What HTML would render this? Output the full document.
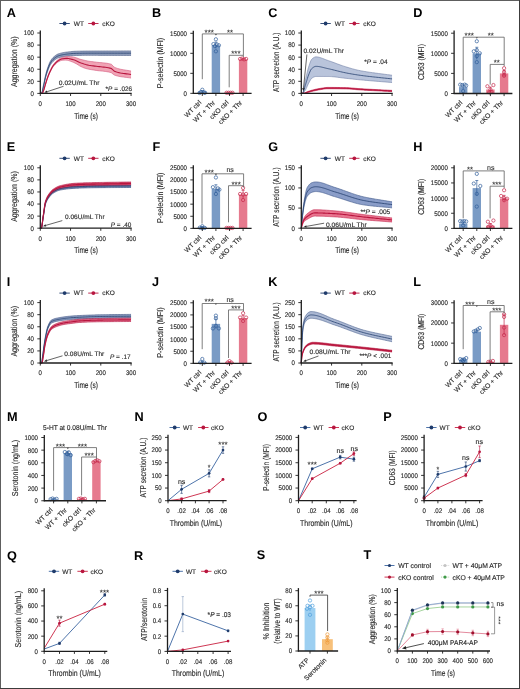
<!DOCTYPE html><html><head><meta charset="utf-8"><style>html,body{margin:0;padding:0;background:#fff;}body{width:520px;height:689px;overflow:hidden;font-family:"Liberation Sans",sans-serif;}svg{display:block;}text{font-family:"Liberation Sans",sans-serif;text-rendering:geometricPrecision;}</style></head><body><svg width="520" height="689" viewBox="0 0 520 689" font-family="Liberation Sans, sans-serif" fill="#2a2a2a"><defs><filter id="sb" x="0" y="0" width="520" height="689" filterUnits="userSpaceOnUse" color-interpolation-filters="sRGB"><feGaussianBlur stdDeviation="0.3"/></filter></defs><rect x="0" y="0" width="520" height="689" fill="#fff"/><g filter="url(#sb)"><text x="6.8" y="16.6" font-size="12.7" text-anchor="start" font-weight="bold" fill="#000">A</text>
<line x1="59.4" y1="23.5" x2="69.8" y2="23.5" stroke="#1f3b6b" stroke-width="0.9"/>
<circle cx="64.6" cy="23.5" r="1.9" fill="#1f3b6b" stroke="none" stroke-width="0.6"/>
<text x="73.8" y="25.84" font-size="6.5" text-anchor="start" stroke="#2a2a2a" stroke-width="0.14">WT</text>
<line x1="88.2" y1="23.5" x2="98.5" y2="23.5" stroke="#b8163f" stroke-width="0.9"/>
<circle cx="93.35" cy="23.5" r="1.9" fill="#b8163f" stroke="none" stroke-width="0.6"/>
<text x="102.2" y="25.84" font-size="6.5" text-anchor="start" stroke="#2a2a2a" stroke-width="0.14">cKO</text>
<path d="M40.3 93.4 L40.45 93.34 L40.6 93.29 L40.75 93.23 L40.9 93.16 L41.06 93.1 L41.21 93.04 L41.36 92.97 L41.51 92.91 L41.66 92.77 L41.81 92.5 L41.96 92.11 L42.11 91.61 L42.27 91.03 L42.42 90.38 L42.57 89.66 L42.72 88.91 L42.87 88.14 L43.02 87.35 L43.17 86.57 L43.32 85.81 L43.48 85.09 L43.63 84.41 L43.78 83.75 L43.93 83.05 L44.08 82.33 L44.23 81.58 L44.38 80.82 L44.53 80.06 L44.69 79.3 L44.84 78.54 L44.99 77.79 L45.14 77.07 L45.29 76.36 L45.44 75.7 L45.59 75.06 L45.74 74.46 L45.9 73.87 L46.05 73.29 L46.2 72.73 L46.35 72.17 L46.95 70.08 L47.56 68.19 L48.16 66.43 L48.77 64.75 L49.38 63.22 L49.98 61.9 L50.59 60.82 L51.19 59.87 L51.8 59.02 L52.4 58.27 L53 57.62 L53.61 57.05 L54.22 56.51 L54.82 56 L55.42 55.52 L56.03 55.08 L56.64 54.69 L57.24 54.35 L57.84 54.07 L58.45 53.85 L59.05 53.65 L59.66 53.47 L60.27 53.29 L60.87 53.13 L61.48 52.98 L62.08 52.84 L62.69 52.71 L63.29 52.59 L63.89 52.48 L64.5 52.38 L65.11 52.28 L65.71 52.2 L66.31 52.11 L66.92 52.04 L67.53 51.96 L68.13 51.89 L68.73 51.82 L69.34 51.75 L69.95 51.69 L70.55 51.63 L72.06 51.48 L73.58 51.37 L75.09 51.28 L76.6 51.22 L78.11 51.18 L79.62 51.14 L81.14 51.1 L82.65 51.07 L84.16 51.04 L85.68 51.02 L87.19 51.01 L88.7 51 L90.21 51 L91.72 50.99 L93.24 50.99 L94.75 50.98 L96.26 50.98 L97.78 50.98 L99.29 50.97 L100.8 50.97 L102.31 50.96 L103.83 50.96 L105.34 50.96 L106.85 50.95 L108.36 50.95 L109.88 50.95 L111.39 50.94 L112.9 50.94 L114.41 50.94 L115.93 50.93 L117.44 50.93 L118.95 50.92 L120.46 50.92 L121.98 50.91 L123.49 50.91 L125 50.9 L126.51 50.9 L128.03 50.89 L129.54 50.89 L131.05 50.88 L131.05 55.47 L129.54 55.46 L128.03 55.46 L126.51 55.45 L125 55.44 L123.49 55.44 L121.98 55.43 L120.46 55.43 L118.95 55.42 L117.44 55.42 L115.93 55.42 L114.41 55.41 L112.9 55.41 L111.39 55.4 L109.88 55.4 L108.36 55.4 L106.85 55.39 L105.34 55.39 L103.83 55.39 L102.31 55.38 L100.8 55.38 L99.29 55.38 L97.78 55.37 L96.26 55.37 L94.75 55.36 L93.24 55.36 L91.72 55.36 L90.21 55.35 L88.7 55.35 L87.19 55.35 L85.68 55.35 L84.16 55.36 L82.65 55.37 L81.14 55.39 L79.62 55.42 L78.11 55.44 L76.6 55.47 L75.09 55.51 L73.58 55.59 L72.06 55.68 L70.55 55.81 L69.95 55.86 L69.34 55.92 L68.73 55.98 L68.13 56.04 L67.53 56.1 L66.92 56.17 L66.31 56.24 L65.71 56.31 L65.11 56.39 L64.5 56.48 L63.89 56.57 L63.29 56.67 L62.69 56.78 L62.08 56.9 L61.48 57.03 L60.87 57.17 L60.27 57.32 L59.66 57.48 L59.05 57.66 L58.45 57.85 L57.84 58.05 L57.24 58.32 L56.64 58.65 L56.03 59.03 L55.42 59.45 L54.82 59.92 L54.22 60.42 L53.61 60.94 L53 61.5 L52.4 62.14 L51.8 62.86 L51.19 63.67 L50.59 64.58 L49.98 65.6 L49.38 66.84 L48.77 68.28 L48.16 69.85 L47.56 71.5 L46.95 73.26 L46.35 75.21 L46.2 75.73 L46.05 76.26 L45.9 76.8 L45.74 77.35 L45.59 77.91 L45.44 78.5 L45.29 79.13 L45.14 79.79 L44.99 80.47 L44.84 81.18 L44.69 81.89 L44.53 82.61 L44.38 83.33 L44.23 84.04 L44.08 84.74 L43.93 85.42 L43.78 86.07 L43.63 86.68 L43.48 87.31 L43.32 87.98 L43.17 88.69 L43.02 89.4 L42.87 90.11 L42.72 90.8 L42.57 91.46 L42.42 92.07 L42.27 92.62 L42.11 93.09 L41.96 93.4 L41.81 93.4 L41.66 93.4 L41.51 93.4 L41.36 93.4 L41.21 93.4 L41.06 93.4 L40.9 93.4 L40.75 93.4 L40.6 93.4 L40.45 93.4 L40.3 93.4Z" fill="#8e9dbb" stroke="none"/>
<path d="M40.3 93.4 L40.45 93.34 L40.6 93.29 L40.75 93.23 L40.9 93.16 L41.06 93.1 L41.21 93.04 L41.36 92.97 L41.51 92.91 L41.66 92.77 L41.81 92.5 L41.96 92.11 L42.11 91.61 L42.27 91.03 L42.42 90.38 L42.57 89.66 L42.72 88.91 L42.87 88.14 L43.02 87.35 L43.17 86.57 L43.32 85.81 L43.48 85.09 L43.63 84.41 L43.78 83.75 L43.93 83.05 L44.08 82.33 L44.23 81.58 L44.38 80.82 L44.53 80.06 L44.69 79.3 L44.84 78.54 L44.99 77.79 L45.14 77.07 L45.29 76.36 L45.44 75.7 L45.59 75.06 L45.74 74.46 L45.9 73.87 L46.05 73.29 L46.2 72.73 L46.35 72.17 L46.95 70.08 L47.56 68.19 L48.16 66.43 L48.77 64.75 L49.38 63.22 L49.98 61.9 L50.59 60.82 L51.19 59.87 L51.8 59.02 L52.4 58.27 L53 57.62 L53.61 57.05 L54.22 56.51 L54.82 56 L55.42 55.52 L56.03 55.08 L56.64 54.69 L57.24 54.35 L57.84 54.07 L58.45 53.85 L59.05 53.65 L59.66 53.47 L60.27 53.29 L60.87 53.13 L61.48 52.98 L62.08 52.84 L62.69 52.71 L63.29 52.59 L63.89 52.48 L64.5 52.38 L65.11 52.28 L65.71 52.2 L66.31 52.11 L66.92 52.04 L67.53 51.96 L68.13 51.89 L68.73 51.82 L69.34 51.75 L69.95 51.69 L70.55 51.63 L72.06 51.48 L73.58 51.37 L75.09 51.28 L76.6 51.22 L78.11 51.18 L79.62 51.14 L81.14 51.1 L82.65 51.07 L84.16 51.04 L85.68 51.02 L87.19 51.01 L88.7 51 L90.21 51 L91.72 50.99 L93.24 50.99 L94.75 50.98 L96.26 50.98 L97.78 50.98 L99.29 50.97 L100.8 50.97 L102.31 50.96 L103.83 50.96 L105.34 50.96 L106.85 50.95 L108.36 50.95 L109.88 50.95 L111.39 50.94 L112.9 50.94 L114.41 50.94 L115.93 50.93 L117.44 50.93 L118.95 50.92 L120.46 50.92 L121.98 50.91 L123.49 50.91 L125 50.9 L126.51 50.9 L128.03 50.89 L129.54 50.89 L131.05 50.88" stroke="#4b5d84" stroke-width="0.6" fill="none"/>
<path d="M40.3 93.4 L40.45 93.4 L40.6 93.4 L40.75 93.4 L40.9 93.4 L41.06 93.4 L41.21 93.4 L41.36 93.4 L41.51 93.4 L41.66 93.4 L41.81 93.4 L41.96 93.4 L42.11 93.09 L42.27 92.62 L42.42 92.07 L42.57 91.46 L42.72 90.8 L42.87 90.11 L43.02 89.4 L43.17 88.69 L43.32 87.98 L43.48 87.31 L43.63 86.68 L43.78 86.07 L43.93 85.42 L44.08 84.74 L44.23 84.04 L44.38 83.33 L44.53 82.61 L44.69 81.89 L44.84 81.18 L44.99 80.47 L45.14 79.79 L45.29 79.13 L45.44 78.5 L45.59 77.91 L45.74 77.35 L45.9 76.8 L46.05 76.26 L46.2 75.73 L46.35 75.21 L46.95 73.26 L47.56 71.5 L48.16 69.85 L48.77 68.28 L49.38 66.84 L49.98 65.6 L50.59 64.58 L51.19 63.67 L51.8 62.86 L52.4 62.14 L53 61.5 L53.61 60.94 L54.22 60.42 L54.82 59.92 L55.42 59.45 L56.03 59.03 L56.64 58.65 L57.24 58.32 L57.84 58.05 L58.45 57.85 L59.05 57.66 L59.66 57.48 L60.27 57.32 L60.87 57.17 L61.48 57.03 L62.08 56.9 L62.69 56.78 L63.29 56.67 L63.89 56.57 L64.5 56.48 L65.11 56.39 L65.71 56.31 L66.31 56.24 L66.92 56.17 L67.53 56.1 L68.13 56.04 L68.73 55.98 L69.34 55.92 L69.95 55.86 L70.55 55.81 L72.06 55.68 L73.58 55.59 L75.09 55.51 L76.6 55.47 L78.11 55.44 L79.62 55.42 L81.14 55.39 L82.65 55.37 L84.16 55.36 L85.68 55.35 L87.19 55.35 L88.7 55.35 L90.21 55.35 L91.72 55.36 L93.24 55.36 L94.75 55.36 L96.26 55.37 L97.78 55.37 L99.29 55.38 L100.8 55.38 L102.31 55.38 L103.83 55.39 L105.34 55.39 L106.85 55.39 L108.36 55.4 L109.88 55.4 L111.39 55.4 L112.9 55.41 L114.41 55.41 L115.93 55.42 L117.44 55.42 L118.95 55.42 L120.46 55.43 L121.98 55.43 L123.49 55.44 L125 55.44 L126.51 55.45 L128.03 55.46 L129.54 55.46 L131.05 55.47" stroke="#4b5d84" stroke-width="0.6" fill="none"/>
<path d="M40.3 93.4 L40.45 93.39 L40.6 93.38 L40.75 93.36 L40.9 93.35 L41.06 93.34 L41.21 93.33 L41.36 93.31 L41.51 93.3 L41.66 93.29 L41.81 93.28 L41.96 93.26 L42.11 93.25 L42.27 93.19 L42.42 93.03 L42.57 92.8 L42.72 92.5 L42.87 92.15 L43.02 91.76 L43.17 91.34 L43.32 90.92 L43.48 90.5 L43.63 90.1 L43.78 89.69 L43.93 89.24 L44.08 88.76 L44.23 88.25 L44.38 87.71 L44.53 87.16 L44.69 86.59 L44.84 86.03 L44.99 85.46 L45.14 84.89 L45.29 84.34 L45.44 83.81 L45.59 83.29 L45.74 82.79 L45.9 82.29 L46.05 81.8 L46.2 81.3 L46.35 80.81 L46.95 78.89 L47.56 77.1 L48.16 75.43 L48.77 73.84 L49.38 72.33 L49.98 70.93 L50.59 69.63 L51.19 68.37 L51.8 67.18 L52.4 66.08 L53 65.11 L53.61 64.27 L54.22 63.49 L54.82 62.76 L55.42 62.07 L56.03 61.43 L56.64 60.84 L57.24 60.3 L57.84 59.82 L58.45 59.38 L59.05 58.96 L59.66 58.56 L60.27 58.19 L60.87 57.88 L61.48 57.64 L62.08 57.46 L62.69 57.3 L63.29 57.15 L63.89 57.01 L64.5 56.88 L65.11 56.76 L65.71 56.66 L66.31 56.59 L66.92 56.53 L67.53 56.51 L68.13 56.52 L68.73 56.55 L69.34 56.6 L69.95 56.66 L70.55 56.73 L72.06 56.89 L73.58 57.13 L75.09 57.47 L76.6 57.89 L78.11 58.5 L79.62 59.08 L81.14 59.49 L82.65 59.86 L84.16 60.22 L85.68 60.59 L87.19 60.92 L88.7 61.19 L90.21 61.42 L91.72 61.62 L93.24 61.8 L94.75 61.98 L96.26 62.18 L97.78 62.35 L99.29 62.49 L100.8 62.62 L102.31 62.74 L103.83 62.88 L105.34 63.05 L106.85 63.26 L108.36 63.53 L109.88 63.88 L111.39 64.31 L112.9 65.75 L114.41 67.27 L115.93 67.9 L117.44 68.42 L118.95 68.86 L120.46 69.22 L121.98 69.52 L123.49 69.78 L125 70.02 L126.51 70.25 L128.03 70.49 L129.54 70.75 L131.05 71.05 L131.05 78.06 L129.54 77.83 L128.03 77.62 L126.51 77.44 L125 77.26 L123.49 77.07 L121.98 76.87 L120.46 76.63 L118.95 76.34 L117.44 76 L115.93 75.59 L114.41 75.09 L112.9 73.94 L111.39 72.77 L109.88 72.33 L108.36 71.98 L106.85 71.7 L105.34 71.47 L103.83 71.29 L102.31 71.12 L100.8 70.97 L99.29 70.82 L97.78 70.64 L96.26 70.43 L94.75 70.19 L93.24 69.95 L91.72 69.72 L90.21 69.47 L88.7 69.18 L87.19 68.84 L85.68 68.44 L84.16 67.94 L82.65 67.33 L81.14 66.63 L79.62 65.86 L78.11 64.89 L76.6 63.93 L75.09 63.16 L73.58 62.43 L72.06 61.8 L70.55 61.24 L69.95 61.02 L69.34 60.81 L68.73 60.62 L68.13 60.45 L67.53 60.31 L66.92 60.21 L66.31 60.16 L65.71 60.13 L65.11 60.12 L64.5 60.14 L63.89 60.17 L63.29 60.22 L62.69 60.28 L62.08 60.36 L61.48 60.45 L60.87 60.61 L60.27 60.84 L59.66 61.13 L59.05 61.45 L58.45 61.79 L57.84 62.16 L57.24 62.58 L56.64 63.05 L56.03 63.58 L55.42 64.15 L54.82 64.78 L54.22 65.46 L53.61 66.18 L53 66.96 L52.4 67.87 L51.8 68.91 L51.19 70.04 L50.59 71.22 L49.98 72.46 L49.38 73.78 L48.77 75.21 L48.16 76.72 L47.56 78.29 L46.95 79.99 L46.35 81.82 L46.2 82.28 L46.05 82.76 L45.9 83.23 L45.74 83.7 L45.59 84.18 L45.44 84.67 L45.29 85.18 L45.14 85.7 L44.99 86.24 L44.84 86.79 L44.69 87.33 L44.53 87.87 L44.38 88.39 L44.23 88.9 L44.08 89.39 L43.93 89.85 L43.78 90.27 L43.63 90.66 L43.48 91.03 L43.32 91.43 L43.17 91.82 L43.02 92.21 L42.87 92.57 L42.72 92.9 L42.57 93.17 L42.42 93.38 L42.27 93.4 L42.11 93.4 L41.96 93.4 L41.81 93.4 L41.66 93.4 L41.51 93.4 L41.36 93.4 L41.21 93.4 L41.06 93.4 L40.9 93.4 L40.75 93.4 L40.6 93.4 L40.45 93.4 L40.3 93.4Z" fill="#f0a3b5" stroke="none"/>
<path d="M40.3 93.4 L40.45 93.39 L40.6 93.38 L40.75 93.36 L40.9 93.35 L41.06 93.34 L41.21 93.33 L41.36 93.31 L41.51 93.3 L41.66 93.29 L41.81 93.28 L41.96 93.26 L42.11 93.25 L42.27 93.19 L42.42 93.03 L42.57 92.8 L42.72 92.5 L42.87 92.15 L43.02 91.76 L43.17 91.34 L43.32 90.92 L43.48 90.5 L43.63 90.1 L43.78 89.69 L43.93 89.24 L44.08 88.76 L44.23 88.25 L44.38 87.71 L44.53 87.16 L44.69 86.59 L44.84 86.03 L44.99 85.46 L45.14 84.89 L45.29 84.34 L45.44 83.81 L45.59 83.29 L45.74 82.79 L45.9 82.29 L46.05 81.8 L46.2 81.3 L46.35 80.81 L46.95 78.89 L47.56 77.1 L48.16 75.43 L48.77 73.84 L49.38 72.33 L49.98 70.93 L50.59 69.63 L51.19 68.37 L51.8 67.18 L52.4 66.08 L53 65.11 L53.61 64.27 L54.22 63.49 L54.82 62.76 L55.42 62.07 L56.03 61.43 L56.64 60.84 L57.24 60.3 L57.84 59.82 L58.45 59.38 L59.05 58.96 L59.66 58.56 L60.27 58.19 L60.87 57.88 L61.48 57.64 L62.08 57.46 L62.69 57.3 L63.29 57.15 L63.89 57.01 L64.5 56.88 L65.11 56.76 L65.71 56.66 L66.31 56.59 L66.92 56.53 L67.53 56.51 L68.13 56.52 L68.73 56.55 L69.34 56.6 L69.95 56.66 L70.55 56.73 L72.06 56.89 L73.58 57.13 L75.09 57.47 L76.6 57.89 L78.11 58.5 L79.62 59.08 L81.14 59.49 L82.65 59.86 L84.16 60.22 L85.68 60.59 L87.19 60.92 L88.7 61.19 L90.21 61.42 L91.72 61.62 L93.24 61.8 L94.75 61.98 L96.26 62.18 L97.78 62.35 L99.29 62.49 L100.8 62.62 L102.31 62.74 L103.83 62.88 L105.34 63.05 L106.85 63.26 L108.36 63.53 L109.88 63.88 L111.39 64.31 L112.9 65.75 L114.41 67.27 L115.93 67.9 L117.44 68.42 L118.95 68.86 L120.46 69.22 L121.98 69.52 L123.49 69.78 L125 70.02 L126.51 70.25 L128.03 70.49 L129.54 70.75 L131.05 71.05" stroke="#d4557a" stroke-width="0.6" fill="none"/>
<path d="M40.3 93.4 L40.45 93.4 L40.6 93.4 L40.75 93.4 L40.9 93.4 L41.06 93.4 L41.21 93.4 L41.36 93.4 L41.51 93.4 L41.66 93.4 L41.81 93.4 L41.96 93.4 L42.11 93.4 L42.27 93.4 L42.42 93.38 L42.57 93.17 L42.72 92.9 L42.87 92.57 L43.02 92.21 L43.17 91.82 L43.32 91.43 L43.48 91.03 L43.63 90.66 L43.78 90.27 L43.93 89.85 L44.08 89.39 L44.23 88.9 L44.38 88.39 L44.53 87.87 L44.69 87.33 L44.84 86.79 L44.99 86.24 L45.14 85.7 L45.29 85.18 L45.44 84.67 L45.59 84.18 L45.74 83.7 L45.9 83.23 L46.05 82.76 L46.2 82.28 L46.35 81.82 L46.95 79.99 L47.56 78.29 L48.16 76.72 L48.77 75.21 L49.38 73.78 L49.98 72.46 L50.59 71.22 L51.19 70.04 L51.8 68.91 L52.4 67.87 L53 66.96 L53.61 66.18 L54.22 65.46 L54.82 64.78 L55.42 64.15 L56.03 63.58 L56.64 63.05 L57.24 62.58 L57.84 62.16 L58.45 61.79 L59.05 61.45 L59.66 61.13 L60.27 60.84 L60.87 60.61 L61.48 60.45 L62.08 60.36 L62.69 60.28 L63.29 60.22 L63.89 60.17 L64.5 60.14 L65.11 60.12 L65.71 60.13 L66.31 60.16 L66.92 60.21 L67.53 60.31 L68.13 60.45 L68.73 60.62 L69.34 60.81 L69.95 61.02 L70.55 61.24 L72.06 61.8 L73.58 62.43 L75.09 63.16 L76.6 63.93 L78.11 64.89 L79.62 65.86 L81.14 66.63 L82.65 67.33 L84.16 67.94 L85.68 68.44 L87.19 68.84 L88.7 69.18 L90.21 69.47 L91.72 69.72 L93.24 69.95 L94.75 70.19 L96.26 70.43 L97.78 70.64 L99.29 70.82 L100.8 70.97 L102.31 71.12 L103.83 71.29 L105.34 71.47 L106.85 71.7 L108.36 71.98 L109.88 72.33 L111.39 72.77 L112.9 73.94 L114.41 75.09 L115.93 75.59 L117.44 76 L118.95 76.34 L120.46 76.63 L121.98 76.87 L123.49 77.07 L125 77.26 L126.51 77.44 L128.03 77.62 L129.54 77.83 L131.05 78.06" stroke="#d4557a" stroke-width="0.6" fill="none"/>
<path d="M40.3 93.4 L40.45 93.4 L40.6 93.4 L40.75 93.4 L40.9 93.4 L41.06 93.4 L41.21 93.4 L41.36 93.4 L41.51 93.4 L41.66 93.33 L41.81 93.12 L41.96 92.79 L42.11 92.35 L42.27 91.83 L42.42 91.22 L42.57 90.56 L42.72 89.86 L42.87 89.12 L43.02 88.37 L43.17 87.63 L43.32 86.9 L43.48 86.2 L43.63 85.55 L43.78 84.91 L43.93 84.23 L44.08 83.53 L44.23 82.81 L44.38 82.08 L44.53 81.34 L44.69 80.59 L44.84 79.86 L44.99 79.13 L45.14 78.43 L45.29 77.75 L45.44 77.1 L45.59 76.49 L45.74 75.9 L45.9 75.33 L46.05 74.77 L46.2 74.23 L46.35 73.69 L46.95 71.67 L47.56 69.84 L48.16 68.14 L48.77 66.51 L49.38 65.03 L49.98 63.75 L50.59 62.7 L51.19 61.77 L51.8 60.94 L52.4 60.21 L53 59.56 L53.61 59 L54.22 58.46 L54.82 57.96 L55.42 57.49 L56.03 57.05 L56.64 56.67 L57.24 56.34 L57.84 56.06 L58.45 55.85 L59.05 55.66 L59.66 55.48 L60.27 55.31 L60.87 55.15 L61.48 55.01 L62.08 54.87 L62.69 54.75 L63.29 54.63 L63.89 54.53 L64.5 54.43 L65.11 54.34 L65.71 54.25 L66.31 54.18 L66.92 54.1 L67.53 54.03 L68.13 53.97 L68.73 53.9 L69.34 53.84 L69.95 53.77 L70.55 53.72 L72.06 53.58 L73.58 53.48 L75.09 53.4 L76.6 53.35 L78.11 53.31 L79.62 53.28 L81.14 53.25 L82.65 53.22 L84.16 53.2 L85.68 53.19 L87.19 53.18 L88.7 53.17 L90.21 53.17 L91.72 53.17 L93.24 53.17 L94.75 53.17 L96.26 53.17 L97.78 53.17 L99.29 53.17 L100.8 53.17 L102.31 53.17 L103.83 53.17 L105.34 53.17 L106.85 53.17 L108.36 53.17 L109.88 53.17 L111.39 53.17 L112.9 53.17 L114.41 53.17 L115.93 53.17 L117.44 53.17 L118.95 53.17 L120.46 53.17 L121.98 53.17 L123.49 53.17 L125 53.17 L126.51 53.17 L128.03 53.17 L129.54 53.17 L131.05 53.17" stroke="#1f3b6b" stroke-width="0.9" fill="none" stroke-opacity="0.85"/>
<path d="M40.3 93.4 L40.45 93.4 L40.6 93.4 L40.75 93.4 L40.9 93.4 L41.06 93.4 L41.21 93.4 L41.36 93.4 L41.51 93.4 L41.66 93.4 L41.81 93.4 L41.96 93.4 L42.11 93.4 L42.27 93.35 L42.42 93.21 L42.57 92.98 L42.72 92.7 L42.87 92.36 L43.02 91.98 L43.17 91.58 L43.32 91.17 L43.48 90.77 L43.63 90.38 L43.78 89.98 L43.93 89.55 L44.08 89.07 L44.23 88.57 L44.38 88.05 L44.53 87.51 L44.69 86.96 L44.84 86.41 L44.99 85.85 L45.14 85.3 L45.29 84.76 L45.44 84.24 L45.59 83.74 L45.74 83.25 L45.9 82.76 L46.05 82.28 L46.2 81.79 L46.35 81.31 L46.95 79.44 L47.56 77.7 L48.16 76.07 L48.77 74.52 L49.38 73.06 L49.98 71.69 L50.59 70.43 L51.19 69.21 L51.8 68.05 L52.4 66.98 L53 66.03 L53.61 65.22 L54.22 64.47 L54.82 63.77 L55.42 63.11 L56.03 62.5 L56.64 61.95 L57.24 61.44 L57.84 60.99 L58.45 60.59 L59.05 60.2 L59.66 59.84 L60.27 59.52 L60.87 59.25 L61.48 59.04 L62.08 58.91 L62.69 58.79 L63.29 58.68 L63.89 58.59 L64.5 58.51 L65.11 58.44 L65.71 58.4 L66.31 58.37 L66.92 58.37 L67.53 58.41 L68.13 58.48 L68.73 58.58 L69.34 58.7 L69.95 58.84 L70.55 58.98 L72.06 59.35 L73.58 59.78 L75.09 60.31 L76.6 60.91 L78.11 61.69 L79.62 62.47 L81.14 63.06 L82.65 63.59 L84.16 64.08 L85.68 64.51 L87.19 64.88 L88.7 65.19 L90.21 65.44 L91.72 65.67 L93.24 65.88 L94.75 66.09 L96.26 66.31 L97.78 66.5 L99.29 66.66 L100.8 66.8 L102.31 66.93 L103.83 67.08 L105.34 67.26 L106.85 67.48 L108.36 67.76 L109.88 68.1 L111.39 68.54 L112.9 69.84 L114.41 71.18 L115.93 71.74 L117.44 72.21 L118.95 72.6 L120.46 72.92 L121.98 73.19 L123.49 73.43 L125 73.64 L126.51 73.84 L128.03 74.06 L129.54 74.29 L131.05 74.56" stroke="#b8163f" stroke-width="1.1" fill="none"/>
<line x1="40.3" y1="93.9" x2="40.3" y2="30.4" stroke="#1e1e1e" stroke-width="1.3"/>
<line x1="37.3" y1="93.4" x2="40.3" y2="93.4" stroke="#1e1e1e" stroke-width="0.9"/>
<text x="34" y="95.81" font-size="6.7" text-anchor="end" stroke="#2a2a2a" stroke-width="0.14" textLength="3.4" lengthAdjust="spacingAndGlyphs">0</text>
<line x1="37.3" y1="81.32" x2="40.3" y2="81.32" stroke="#1e1e1e" stroke-width="0.9"/>
<text x="34" y="83.73" font-size="6.7" text-anchor="end" stroke="#2a2a2a" stroke-width="0.14" textLength="6.8" lengthAdjust="spacingAndGlyphs">20</text>
<line x1="37.3" y1="69.24" x2="40.3" y2="69.24" stroke="#1e1e1e" stroke-width="0.9"/>
<text x="34" y="71.65" font-size="6.7" text-anchor="end" stroke="#2a2a2a" stroke-width="0.14" textLength="6.8" lengthAdjust="spacingAndGlyphs">40</text>
<line x1="37.3" y1="57.16" x2="40.3" y2="57.16" stroke="#1e1e1e" stroke-width="0.9"/>
<text x="34" y="59.57" font-size="6.7" text-anchor="end" stroke="#2a2a2a" stroke-width="0.14" textLength="6.8" lengthAdjust="spacingAndGlyphs">60</text>
<line x1="37.3" y1="45.08" x2="40.3" y2="45.08" stroke="#1e1e1e" stroke-width="0.9"/>
<text x="34" y="47.49" font-size="6.7" text-anchor="end" stroke="#2a2a2a" stroke-width="0.14" textLength="6.8" lengthAdjust="spacingAndGlyphs">80</text>
<line x1="37.3" y1="33" x2="40.3" y2="33" stroke="#1e1e1e" stroke-width="0.9"/>
<text x="34" y="35.41" font-size="6.7" text-anchor="end" stroke="#2a2a2a" stroke-width="0.14" textLength="10.2" lengthAdjust="spacingAndGlyphs">100</text>
<line x1="39.8" y1="93.4" x2="131.65" y2="93.4" stroke="#1e1e1e" stroke-width="1.3"/>
<line x1="40.3" y1="93.4" x2="40.3" y2="96" stroke="#1e1e1e" stroke-width="0.9"/>
<text x="40.3" y="105.81" font-size="6.7" text-anchor="middle" stroke="#2a2a2a" stroke-width="0.14" textLength="3.4" lengthAdjust="spacingAndGlyphs">0</text>
<line x1="70.55" y1="93.4" x2="70.55" y2="96" stroke="#1e1e1e" stroke-width="0.9"/>
<text x="70.55" y="105.81" font-size="6.7" text-anchor="middle" stroke="#2a2a2a" stroke-width="0.14" textLength="10.2" lengthAdjust="spacingAndGlyphs">100</text>
<line x1="100.8" y1="93.4" x2="100.8" y2="96" stroke="#1e1e1e" stroke-width="0.9"/>
<text x="100.8" y="105.81" font-size="6.7" text-anchor="middle" stroke="#2a2a2a" stroke-width="0.14" textLength="10.2" lengthAdjust="spacingAndGlyphs">200</text>
<line x1="131.05" y1="93.4" x2="131.05" y2="96" stroke="#1e1e1e" stroke-width="0.9"/>
<text x="131.05" y="105.81" font-size="6.7" text-anchor="middle" stroke="#2a2a2a" stroke-width="0.14" textLength="10.2" lengthAdjust="spacingAndGlyphs">300</text>
<text x="86.1" y="118.6" font-size="8.5" text-anchor="middle" stroke="#2a2a2a" stroke-width="0.14" textLength="23.8" lengthAdjust="spacingAndGlyphs">Time (s)</text>
<text x="17.3" y="61.7" font-size="8.5" text-anchor="middle" stroke="#2a2a2a" stroke-width="0.14" textLength="50.6" lengthAdjust="spacingAndGlyphs" transform="rotate(-90 17.3 61.7)">Aggregation (%)</text>
<text x="58.8" y="84.74" font-size="6.5" text-anchor="start" stroke="#2a2a2a" stroke-width="0.14" textLength="40.6" lengthAdjust="spacingAndGlyphs">0.02U/mL Thr</text>
<line x1="63.5" y1="86.3" x2="47.15" y2="91.66" stroke="#222" stroke-width="0.7"/>
<path d="M44.3 92.6 L46.76 90.47 L47.54 92.86Z" fill="#222"/>
<text x="132.2" y="90.9" font-size="6.6" text-anchor="end" textLength="26.6" lengthAdjust="spacingAndGlyphs" stroke="#2a2a2a" stroke-width="0.14">*<tspan font-style="italic">P</tspan> = .026</text>
<text x="6.8" y="151.4" font-size="12.7" text-anchor="start" font-weight="bold" fill="#000">E</text>
<line x1="59.4" y1="158.3" x2="69.8" y2="158.3" stroke="#1f3b6b" stroke-width="0.9"/>
<circle cx="64.6" cy="158.3" r="1.9" fill="#1f3b6b" stroke="none" stroke-width="0.6"/>
<text x="73.8" y="160.64" font-size="6.5" text-anchor="start" stroke="#2a2a2a" stroke-width="0.14">WT</text>
<line x1="88.2" y1="158.3" x2="98.5" y2="158.3" stroke="#b8163f" stroke-width="0.9"/>
<circle cx="93.35" cy="158.3" r="1.9" fill="#b8163f" stroke="none" stroke-width="0.6"/>
<text x="102.2" y="160.64" font-size="6.5" text-anchor="start" stroke="#2a2a2a" stroke-width="0.14">cKO</text>
<path d="M40.3 228.2 L40.45 228.16 L40.6 228.12 L40.75 228.07 L40.9 228.03 L41.06 227.98 L41.21 227.94 L41.36 227.77 L41.51 227.39 L41.66 226.82 L41.81 226.08 L41.96 225.2 L42.11 224.21 L42.27 223.13 L42.42 221.99 L42.57 220.82 L42.72 219.64 L42.87 218.47 L43.02 217.35 L43.17 216.29 L43.32 215.33 L43.48 214.4 L43.63 213.41 L43.78 212.39 L43.93 211.33 L44.08 210.27 L44.23 209.2 L44.38 208.16 L44.53 207.14 L44.69 206.16 L44.84 205.24 L44.99 204.4 L45.14 203.64 L45.29 202.97 L45.44 202.42 L45.59 201.95 L45.74 201.49 L45.9 201.05 L46.05 200.63 L46.2 200.23 L46.35 199.85 L46.95 198.47 L47.56 197.29 L48.16 196.27 L48.77 195.34 L49.38 194.47 L49.98 193.64 L50.59 192.87 L51.19 192.18 L51.8 191.56 L52.4 191.02 L53 190.57 L53.61 190.17 L54.22 189.79 L54.82 189.42 L55.42 189.08 L56.03 188.76 L56.64 188.46 L57.24 188.19 L57.84 187.94 L58.45 187.72 L59.05 187.52 L59.66 187.35 L60.27 187.21 L60.87 187.08 L61.48 186.97 L62.08 186.85 L62.69 186.74 L63.29 186.64 L63.89 186.54 L64.5 186.44 L65.11 186.35 L65.71 186.26 L66.31 186.18 L66.92 186.1 L67.53 186.02 L68.13 185.95 L68.73 185.88 L69.34 185.81 L69.95 185.75 L70.55 185.7 L72.06 185.56 L73.58 185.45 L75.09 185.36 L76.6 185.28 L78.11 185.2 L79.62 185.13 L81.14 185.07 L82.65 185.01 L84.16 184.95 L85.68 184.9 L87.19 184.86 L88.7 184.81 L90.21 184.78 L91.72 184.75 L93.24 184.72 L94.75 184.69 L96.26 184.67 L97.78 184.65 L99.29 184.63 L100.8 184.62 L102.31 184.6 L103.83 184.58 L105.34 184.57 L106.85 184.55 L108.36 184.54 L109.88 184.53 L111.39 184.51 L112.9 184.5 L114.41 184.49 L115.93 184.48 L117.44 184.47 L118.95 184.46 L120.46 184.44 L121.98 184.43 L123.49 184.42 L125 184.41 L126.51 184.39 L128.03 184.38 L129.54 184.37 L131.05 184.35 L131.05 187.49 L129.54 187.5 L128.03 187.51 L126.51 187.52 L125 187.52 L123.49 187.53 L121.98 187.54 L120.46 187.54 L118.95 187.55 L117.44 187.56 L115.93 187.57 L114.41 187.57 L112.9 187.58 L111.39 187.59 L109.88 187.6 L108.36 187.61 L106.85 187.62 L105.34 187.63 L103.83 187.64 L102.31 187.65 L100.8 187.67 L99.29 187.68 L97.78 187.7 L96.26 187.72 L94.75 187.73 L93.24 187.75 L91.72 187.78 L90.21 187.8 L88.7 187.84 L87.19 187.87 L85.68 187.91 L84.16 187.96 L82.65 188.01 L81.14 188.06 L79.62 188.12 L78.11 188.18 L76.6 188.25 L75.09 188.32 L73.58 188.41 L72.06 188.51 L70.55 188.63 L69.95 188.69 L69.34 188.75 L68.73 188.81 L68.13 188.87 L67.53 188.94 L66.92 189.01 L66.31 189.09 L65.71 189.17 L65.11 189.25 L64.5 189.34 L63.89 189.43 L63.29 189.52 L62.69 189.62 L62.08 189.73 L61.48 189.84 L60.87 189.95 L60.27 190.07 L59.66 190.2 L59.05 190.37 L58.45 190.56 L57.84 190.78 L57.24 191.02 L56.64 191.29 L56.03 191.58 L55.42 191.9 L54.82 192.23 L54.22 192.59 L53.61 192.96 L53 193.35 L52.4 193.8 L51.8 194.32 L51.19 194.92 L50.59 195.58 L49.98 196.3 L49.38 197.07 L48.77 197.89 L48.16 198.74 L47.56 199.68 L46.95 200.76 L46.35 202.04 L46.2 202.4 L46.05 202.77 L45.9 203.16 L45.74 203.57 L45.59 204 L45.44 204.45 L45.29 204.97 L45.14 205.6 L44.99 206.33 L44.84 207.15 L44.69 208.03 L44.53 208.98 L44.38 209.96 L44.23 210.98 L44.08 212.01 L43.93 213.04 L43.78 214.06 L43.63 215.05 L43.48 216.01 L43.32 216.91 L43.17 217.82 L43.02 218.83 L42.87 219.9 L42.72 221 L42.57 222.12 L42.42 223.22 L42.27 224.28 L42.11 225.28 L41.96 226.18 L41.81 226.97 L41.66 227.62 L41.51 228.1 L41.36 228.2 L41.21 228.2 L41.06 228.2 L40.9 228.2 L40.75 228.2 L40.6 228.2 L40.45 228.2 L40.3 228.2Z" fill="#6f83ad" stroke="none"/>
<path d="M40.3 228.2 L40.45 228.16 L40.6 228.12 L40.75 228.07 L40.9 228.03 L41.06 227.98 L41.21 227.94 L41.36 227.77 L41.51 227.39 L41.66 226.82 L41.81 226.08 L41.96 225.2 L42.11 224.21 L42.27 223.13 L42.42 221.99 L42.57 220.82 L42.72 219.64 L42.87 218.47 L43.02 217.35 L43.17 216.29 L43.32 215.33 L43.48 214.4 L43.63 213.41 L43.78 212.39 L43.93 211.33 L44.08 210.27 L44.23 209.2 L44.38 208.16 L44.53 207.14 L44.69 206.16 L44.84 205.24 L44.99 204.4 L45.14 203.64 L45.29 202.97 L45.44 202.42 L45.59 201.95 L45.74 201.49 L45.9 201.05 L46.05 200.63 L46.2 200.23 L46.35 199.85 L46.95 198.47 L47.56 197.29 L48.16 196.27 L48.77 195.34 L49.38 194.47 L49.98 193.64 L50.59 192.87 L51.19 192.18 L51.8 191.56 L52.4 191.02 L53 190.57 L53.61 190.17 L54.22 189.79 L54.82 189.42 L55.42 189.08 L56.03 188.76 L56.64 188.46 L57.24 188.19 L57.84 187.94 L58.45 187.72 L59.05 187.52 L59.66 187.35 L60.27 187.21 L60.87 187.08 L61.48 186.97 L62.08 186.85 L62.69 186.74 L63.29 186.64 L63.89 186.54 L64.5 186.44 L65.11 186.35 L65.71 186.26 L66.31 186.18 L66.92 186.1 L67.53 186.02 L68.13 185.95 L68.73 185.88 L69.34 185.81 L69.95 185.75 L70.55 185.7 L72.06 185.56 L73.58 185.45 L75.09 185.36 L76.6 185.28 L78.11 185.2 L79.62 185.13 L81.14 185.07 L82.65 185.01 L84.16 184.95 L85.68 184.9 L87.19 184.86 L88.7 184.81 L90.21 184.78 L91.72 184.75 L93.24 184.72 L94.75 184.69 L96.26 184.67 L97.78 184.65 L99.29 184.63 L100.8 184.62 L102.31 184.6 L103.83 184.58 L105.34 184.57 L106.85 184.55 L108.36 184.54 L109.88 184.53 L111.39 184.51 L112.9 184.5 L114.41 184.49 L115.93 184.48 L117.44 184.47 L118.95 184.46 L120.46 184.44 L121.98 184.43 L123.49 184.42 L125 184.41 L126.51 184.39 L128.03 184.38 L129.54 184.37 L131.05 184.35" stroke="#33487a" stroke-width="0.6" fill="none"/>
<path d="M40.3 228.2 L40.45 228.2 L40.6 228.2 L40.75 228.2 L40.9 228.2 L41.06 228.2 L41.21 228.2 L41.36 228.2 L41.51 228.1 L41.66 227.62 L41.81 226.97 L41.96 226.18 L42.11 225.28 L42.27 224.28 L42.42 223.22 L42.57 222.12 L42.72 221 L42.87 219.9 L43.02 218.83 L43.17 217.82 L43.32 216.91 L43.48 216.01 L43.63 215.05 L43.78 214.06 L43.93 213.04 L44.08 212.01 L44.23 210.98 L44.38 209.96 L44.53 208.98 L44.69 208.03 L44.84 207.15 L44.99 206.33 L45.14 205.6 L45.29 204.97 L45.44 204.45 L45.59 204 L45.74 203.57 L45.9 203.16 L46.05 202.77 L46.2 202.4 L46.35 202.04 L46.95 200.76 L47.56 199.68 L48.16 198.74 L48.77 197.89 L49.38 197.07 L49.98 196.3 L50.59 195.58 L51.19 194.92 L51.8 194.32 L52.4 193.8 L53 193.35 L53.61 192.96 L54.22 192.59 L54.82 192.23 L55.42 191.9 L56.03 191.58 L56.64 191.29 L57.24 191.02 L57.84 190.78 L58.45 190.56 L59.05 190.37 L59.66 190.2 L60.27 190.07 L60.87 189.95 L61.48 189.84 L62.08 189.73 L62.69 189.62 L63.29 189.52 L63.89 189.43 L64.5 189.34 L65.11 189.25 L65.71 189.17 L66.31 189.09 L66.92 189.01 L67.53 188.94 L68.13 188.87 L68.73 188.81 L69.34 188.75 L69.95 188.69 L70.55 188.63 L72.06 188.51 L73.58 188.41 L75.09 188.32 L76.6 188.25 L78.11 188.18 L79.62 188.12 L81.14 188.06 L82.65 188.01 L84.16 187.96 L85.68 187.91 L87.19 187.87 L88.7 187.84 L90.21 187.8 L91.72 187.78 L93.24 187.75 L94.75 187.73 L96.26 187.72 L97.78 187.7 L99.29 187.68 L100.8 187.67 L102.31 187.65 L103.83 187.64 L105.34 187.63 L106.85 187.62 L108.36 187.61 L109.88 187.6 L111.39 187.59 L112.9 187.58 L114.41 187.57 L115.93 187.57 L117.44 187.56 L118.95 187.55 L120.46 187.54 L121.98 187.54 L123.49 187.53 L125 187.52 L126.51 187.52 L128.03 187.51 L129.54 187.5 L131.05 187.49" stroke="#33487a" stroke-width="0.6" fill="none"/>
<path d="M40.3 228.2 L40.45 228.16 L40.6 228.12 L40.75 228.07 L40.9 228.03 L41.06 227.98 L41.21 227.94 L41.36 227.77 L41.51 227.37 L41.66 226.77 L41.81 226 L41.96 225.08 L42.11 224.04 L42.27 222.91 L42.42 221.71 L42.57 220.48 L42.72 219.24 L42.87 218.02 L43.02 216.84 L43.17 215.73 L43.32 214.73 L43.48 213.75 L43.63 212.71 L43.78 211.63 L43.93 210.53 L44.08 209.41 L44.23 208.29 L44.38 207.19 L44.53 206.12 L44.69 205.09 L44.84 204.13 L44.99 203.25 L45.14 202.46 L45.29 201.78 L45.44 201.22 L45.59 200.73 L45.74 200.27 L45.9 199.83 L46.05 199.41 L46.2 199 L46.35 198.62 L46.95 197.24 L47.56 196.07 L48.16 195.05 L48.77 194.13 L49.38 193.26 L49.98 192.44 L50.59 191.68 L51.19 190.99 L51.8 190.37 L52.4 189.83 L53 189.36 L53.61 188.94 L54.22 188.53 L54.82 188.15 L55.42 187.78 L56.03 187.44 L56.64 187.12 L57.24 186.82 L57.84 186.55 L58.45 186.29 L59.05 186.07 L59.66 185.87 L60.27 185.7 L60.87 185.54 L61.48 185.39 L62.08 185.24 L62.69 185.1 L63.29 184.96 L63.89 184.83 L64.5 184.7 L65.11 184.57 L65.71 184.46 L66.31 184.34 L66.92 184.23 L67.53 184.13 L68.13 184.03 L68.73 183.93 L69.34 183.84 L69.95 183.76 L70.55 183.68 L72.06 183.5 L73.58 183.36 L75.09 183.25 L76.6 183.16 L78.11 183.09 L79.62 183.02 L81.14 182.96 L82.65 182.9 L84.16 182.85 L85.68 182.8 L87.19 182.76 L88.7 182.72 L90.21 182.68 L91.72 182.65 L93.24 182.61 L94.75 182.58 L96.26 182.54 L97.78 182.51 L99.29 182.48 L100.8 182.45 L102.31 182.42 L103.83 182.39 L105.34 182.36 L106.85 182.33 L108.36 182.31 L109.88 182.28 L111.39 182.26 L112.9 182.23 L114.41 182.21 L115.93 182.19 L117.44 182.16 L118.95 182.14 L120.46 182.11 L121.98 182.09 L123.49 182.06 L125 182.04 L126.51 182.01 L128.03 181.99 L129.54 181.96 L131.05 181.93 L131.05 185.07 L129.54 185.1 L128.03 185.12 L126.51 185.14 L125 185.16 L123.49 185.18 L121.98 185.2 L120.46 185.21 L118.95 185.23 L117.44 185.25 L115.93 185.27 L114.41 185.29 L112.9 185.31 L111.39 185.33 L109.88 185.36 L108.36 185.38 L106.85 185.4 L105.34 185.42 L103.83 185.45 L102.31 185.47 L100.8 185.5 L99.29 185.53 L97.78 185.55 L96.26 185.58 L94.75 185.61 L93.24 185.65 L91.72 185.68 L90.21 185.71 L88.7 185.74 L87.19 185.78 L85.68 185.81 L84.16 185.85 L82.65 185.9 L81.14 185.95 L79.62 186 L78.11 186.07 L76.6 186.14 L75.09 186.21 L73.58 186.31 L72.06 186.45 L70.55 186.62 L69.95 186.69 L69.34 186.77 L68.73 186.86 L68.13 186.95 L67.53 187.05 L66.92 187.15 L66.31 187.25 L65.71 187.36 L65.11 187.48 L64.5 187.6 L63.89 187.72 L63.29 187.85 L62.69 187.98 L62.08 188.12 L61.48 188.26 L60.87 188.41 L60.27 188.56 L59.66 188.73 L59.05 188.92 L58.45 189.14 L57.84 189.38 L57.24 189.65 L56.64 189.94 L56.03 190.26 L55.42 190.6 L54.82 190.95 L54.22 191.33 L53.61 191.73 L53 192.14 L52.4 192.61 L51.8 193.14 L51.19 193.73 L50.59 194.39 L49.98 195.1 L49.38 195.87 L48.77 196.68 L48.16 197.52 L47.56 198.45 L46.95 199.53 L46.35 200.81 L46.2 201.17 L46.05 201.54 L45.9 201.94 L45.74 202.35 L45.59 202.79 L45.44 203.24 L45.29 203.77 L45.14 204.43 L44.99 205.19 L44.84 206.04 L44.69 206.97 L44.53 207.96 L44.38 208.99 L44.23 210.06 L44.08 211.15 L43.93 212.24 L43.78 213.31 L43.63 214.36 L43.48 215.36 L43.32 216.3 L43.17 217.27 L43.02 218.32 L42.87 219.44 L42.72 220.61 L42.57 221.78 L42.42 222.94 L42.27 224.05 L42.11 225.1 L41.96 226.06 L41.81 226.89 L41.66 227.57 L41.51 228.08 L41.36 228.2 L41.21 228.2 L41.06 228.2 L40.9 228.2 L40.75 228.2 L40.6 228.2 L40.45 228.2 L40.3 228.2Z" fill="#d24a6e" stroke="none"/>
<path d="M40.3 228.2 L40.45 228.16 L40.6 228.12 L40.75 228.07 L40.9 228.03 L41.06 227.98 L41.21 227.94 L41.36 227.77 L41.51 227.37 L41.66 226.77 L41.81 226 L41.96 225.08 L42.11 224.04 L42.27 222.91 L42.42 221.71 L42.57 220.48 L42.72 219.24 L42.87 218.02 L43.02 216.84 L43.17 215.73 L43.32 214.73 L43.48 213.75 L43.63 212.71 L43.78 211.63 L43.93 210.53 L44.08 209.41 L44.23 208.29 L44.38 207.19 L44.53 206.12 L44.69 205.09 L44.84 204.13 L44.99 203.25 L45.14 202.46 L45.29 201.78 L45.44 201.22 L45.59 200.73 L45.74 200.27 L45.9 199.83 L46.05 199.41 L46.2 199 L46.35 198.62 L46.95 197.24 L47.56 196.07 L48.16 195.05 L48.77 194.13 L49.38 193.26 L49.98 192.44 L50.59 191.68 L51.19 190.99 L51.8 190.37 L52.4 189.83 L53 189.36 L53.61 188.94 L54.22 188.53 L54.82 188.15 L55.42 187.78 L56.03 187.44 L56.64 187.12 L57.24 186.82 L57.84 186.55 L58.45 186.29 L59.05 186.07 L59.66 185.87 L60.27 185.7 L60.87 185.54 L61.48 185.39 L62.08 185.24 L62.69 185.1 L63.29 184.96 L63.89 184.83 L64.5 184.7 L65.11 184.57 L65.71 184.46 L66.31 184.34 L66.92 184.23 L67.53 184.13 L68.13 184.03 L68.73 183.93 L69.34 183.84 L69.95 183.76 L70.55 183.68 L72.06 183.5 L73.58 183.36 L75.09 183.25 L76.6 183.16 L78.11 183.09 L79.62 183.02 L81.14 182.96 L82.65 182.9 L84.16 182.85 L85.68 182.8 L87.19 182.76 L88.7 182.72 L90.21 182.68 L91.72 182.65 L93.24 182.61 L94.75 182.58 L96.26 182.54 L97.78 182.51 L99.29 182.48 L100.8 182.45 L102.31 182.42 L103.83 182.39 L105.34 182.36 L106.85 182.33 L108.36 182.31 L109.88 182.28 L111.39 182.26 L112.9 182.23 L114.41 182.21 L115.93 182.19 L117.44 182.16 L118.95 182.14 L120.46 182.11 L121.98 182.09 L123.49 182.06 L125 182.04 L126.51 182.01 L128.03 181.99 L129.54 181.96 L131.05 181.93" stroke="#b3143e" stroke-width="0.6" fill="none"/>
<path d="M40.3 228.2 L40.45 228.2 L40.6 228.2 L40.75 228.2 L40.9 228.2 L41.06 228.2 L41.21 228.2 L41.36 228.2 L41.51 228.08 L41.66 227.57 L41.81 226.89 L41.96 226.06 L42.11 225.1 L42.27 224.05 L42.42 222.94 L42.57 221.78 L42.72 220.61 L42.87 219.44 L43.02 218.32 L43.17 217.27 L43.32 216.3 L43.48 215.36 L43.63 214.36 L43.78 213.31 L43.93 212.24 L44.08 211.15 L44.23 210.06 L44.38 208.99 L44.53 207.96 L44.69 206.97 L44.84 206.04 L44.99 205.19 L45.14 204.43 L45.29 203.77 L45.44 203.24 L45.59 202.79 L45.74 202.35 L45.9 201.94 L46.05 201.54 L46.2 201.17 L46.35 200.81 L46.95 199.53 L47.56 198.45 L48.16 197.52 L48.77 196.68 L49.38 195.87 L49.98 195.1 L50.59 194.39 L51.19 193.73 L51.8 193.14 L52.4 192.61 L53 192.14 L53.61 191.73 L54.22 191.33 L54.82 190.95 L55.42 190.6 L56.03 190.26 L56.64 189.94 L57.24 189.65 L57.84 189.38 L58.45 189.14 L59.05 188.92 L59.66 188.73 L60.27 188.56 L60.87 188.41 L61.48 188.26 L62.08 188.12 L62.69 187.98 L63.29 187.85 L63.89 187.72 L64.5 187.6 L65.11 187.48 L65.71 187.36 L66.31 187.25 L66.92 187.15 L67.53 187.05 L68.13 186.95 L68.73 186.86 L69.34 186.77 L69.95 186.69 L70.55 186.62 L72.06 186.45 L73.58 186.31 L75.09 186.21 L76.6 186.14 L78.11 186.07 L79.62 186 L81.14 185.95 L82.65 185.9 L84.16 185.85 L85.68 185.81 L87.19 185.78 L88.7 185.74 L90.21 185.71 L91.72 185.68 L93.24 185.65 L94.75 185.61 L96.26 185.58 L97.78 185.55 L99.29 185.53 L100.8 185.5 L102.31 185.47 L103.83 185.45 L105.34 185.42 L106.85 185.4 L108.36 185.38 L109.88 185.36 L111.39 185.33 L112.9 185.31 L114.41 185.29 L115.93 185.27 L117.44 185.25 L118.95 185.23 L120.46 185.21 L121.98 185.2 L123.49 185.18 L125 185.16 L126.51 185.14 L128.03 185.12 L129.54 185.1 L131.05 185.07" stroke="#b3143e" stroke-width="0.6" fill="none"/>
<path d="M40.3 228.2 L40.45 228.2 L40.6 228.2 L40.75 228.2 L40.9 228.2 L41.06 228.2 L41.21 228.2 L41.36 228.08 L41.51 227.75 L41.66 227.22 L41.81 226.53 L41.96 225.69 L42.11 224.74 L42.27 223.71 L42.42 222.61 L42.57 221.47 L42.72 220.32 L42.87 219.18 L43.02 218.09 L43.17 217.06 L43.32 216.12 L43.48 215.2 L43.63 214.23 L43.78 213.22 L43.93 212.19 L44.08 211.14 L44.23 210.09 L44.38 209.06 L44.53 208.06 L44.69 207.1 L44.84 206.2 L44.99 205.36 L45.14 204.62 L45.29 203.97 L45.44 203.44 L45.59 202.97 L45.74 202.53 L45.9 202.11 L46.05 201.7 L46.2 201.31 L46.35 200.94 L46.95 199.61 L47.56 198.49 L48.16 197.5 L48.77 196.61 L49.38 195.77 L49.98 194.97 L50.59 194.23 L51.19 193.55 L51.8 192.94 L52.4 192.41 L53 191.96 L53.61 191.56 L54.22 191.19 L54.82 190.83 L55.42 190.49 L56.03 190.17 L56.64 189.88 L57.24 189.61 L57.84 189.36 L58.45 189.14 L59.05 188.94 L59.66 188.78 L60.27 188.64 L60.87 188.52 L61.48 188.4 L62.08 188.29 L62.69 188.18 L63.29 188.08 L63.89 187.98 L64.5 187.89 L65.11 187.8 L65.71 187.71 L66.31 187.63 L66.92 187.55 L67.53 187.48 L68.13 187.41 L68.73 187.34 L69.34 187.28 L69.95 187.22 L70.55 187.17 L72.06 187.04 L73.58 186.93 L75.09 186.84 L76.6 186.76 L78.11 186.69 L79.62 186.63 L81.14 186.56 L82.65 186.51 L84.16 186.45 L85.68 186.41 L87.19 186.36 L88.7 186.33 L90.21 186.29 L91.72 186.26 L93.24 186.24 L94.75 186.21 L96.26 186.19 L97.78 186.18 L99.29 186.16 L100.8 186.14 L102.31 186.13 L103.83 186.11 L105.34 186.1 L106.85 186.09 L108.36 186.07 L109.88 186.06 L111.39 186.05 L112.9 186.04 L114.41 186.03 L115.93 186.02 L117.44 186.01 L118.95 186 L120.46 185.99 L121.98 185.98 L123.49 185.97 L125 185.96 L126.51 185.95 L128.03 185.94 L129.54 185.93 L131.05 185.92" stroke="#1f3b6b" stroke-width="0.9" fill="none" stroke-opacity="0.85"/>
<path d="M40.3 228.2 L40.45 228.2 L40.6 228.2 L40.75 228.2 L40.9 228.2 L41.06 228.2 L41.21 228.2 L41.36 228.08 L41.51 227.72 L41.66 227.17 L41.81 226.44 L41.96 225.57 L42.11 224.57 L42.27 223.48 L42.42 222.32 L42.57 221.13 L42.72 219.92 L42.87 218.73 L43.02 217.58 L43.17 216.5 L43.32 215.52 L43.48 214.55 L43.63 213.54 L43.78 212.47 L43.93 211.38 L44.08 210.28 L44.23 209.18 L44.38 208.09 L44.53 207.04 L44.69 206.03 L44.84 205.09 L44.99 204.22 L45.14 203.44 L45.29 202.77 L45.44 202.23 L45.59 201.76 L45.74 201.31 L45.9 200.88 L46.05 200.48 L46.2 200.09 L46.35 199.71 L46.95 198.38 L47.56 197.26 L48.16 196.29 L48.77 195.41 L49.38 194.56 L49.98 193.77 L50.59 193.03 L51.19 192.36 L51.8 191.76 L52.4 191.22 L53 190.75 L53.61 190.33 L54.22 189.93 L54.82 189.55 L55.42 189.19 L56.03 188.85 L56.64 188.53 L57.24 188.24 L57.84 187.96 L58.45 187.72 L59.05 187.49 L59.66 187.3 L60.27 187.13 L60.87 186.97 L61.48 186.83 L62.08 186.68 L62.69 186.54 L63.29 186.4 L63.89 186.27 L64.5 186.15 L65.11 186.03 L65.71 185.91 L66.31 185.8 L66.92 185.69 L67.53 185.59 L68.13 185.49 L68.73 185.4 L69.34 185.31 L69.95 185.23 L70.55 185.15 L72.06 184.98 L73.58 184.84 L75.09 184.73 L76.6 184.65 L78.11 184.58 L79.62 184.51 L81.14 184.45 L82.65 184.4 L84.16 184.35 L85.68 184.31 L87.19 184.27 L88.7 184.23 L90.21 184.2 L91.72 184.16 L93.24 184.13 L94.75 184.09 L96.26 184.06 L97.78 184.03 L99.29 184 L100.8 183.97 L102.31 183.94 L103.83 183.92 L105.34 183.89 L106.85 183.87 L108.36 183.84 L109.88 183.82 L111.39 183.8 L112.9 183.77 L114.41 183.75 L115.93 183.73 L117.44 183.71 L118.95 183.69 L120.46 183.66 L121.98 183.64 L123.49 183.62 L125 183.6 L126.51 183.58 L128.03 183.55 L129.54 183.53 L131.05 183.5" stroke="#b8163f" stroke-width="1.1" fill="none"/>
<line x1="40.3" y1="228.7" x2="40.3" y2="165.2" stroke="#1e1e1e" stroke-width="1.3"/>
<line x1="37.3" y1="228.2" x2="40.3" y2="228.2" stroke="#1e1e1e" stroke-width="0.9"/>
<text x="34" y="230.61" font-size="6.7" text-anchor="end" stroke="#2a2a2a" stroke-width="0.14" textLength="3.4" lengthAdjust="spacingAndGlyphs">0</text>
<line x1="37.3" y1="216.12" x2="40.3" y2="216.12" stroke="#1e1e1e" stroke-width="0.9"/>
<text x="34" y="218.53" font-size="6.7" text-anchor="end" stroke="#2a2a2a" stroke-width="0.14" textLength="6.8" lengthAdjust="spacingAndGlyphs">20</text>
<line x1="37.3" y1="204.04" x2="40.3" y2="204.04" stroke="#1e1e1e" stroke-width="0.9"/>
<text x="34" y="206.45" font-size="6.7" text-anchor="end" stroke="#2a2a2a" stroke-width="0.14" textLength="6.8" lengthAdjust="spacingAndGlyphs">40</text>
<line x1="37.3" y1="191.96" x2="40.3" y2="191.96" stroke="#1e1e1e" stroke-width="0.9"/>
<text x="34" y="194.37" font-size="6.7" text-anchor="end" stroke="#2a2a2a" stroke-width="0.14" textLength="6.8" lengthAdjust="spacingAndGlyphs">60</text>
<line x1="37.3" y1="179.88" x2="40.3" y2="179.88" stroke="#1e1e1e" stroke-width="0.9"/>
<text x="34" y="182.29" font-size="6.7" text-anchor="end" stroke="#2a2a2a" stroke-width="0.14" textLength="6.8" lengthAdjust="spacingAndGlyphs">80</text>
<line x1="37.3" y1="167.8" x2="40.3" y2="167.8" stroke="#1e1e1e" stroke-width="0.9"/>
<text x="34" y="170.21" font-size="6.7" text-anchor="end" stroke="#2a2a2a" stroke-width="0.14" textLength="10.2" lengthAdjust="spacingAndGlyphs">100</text>
<line x1="39.8" y1="228.2" x2="131.65" y2="228.2" stroke="#1e1e1e" stroke-width="1.3"/>
<line x1="40.3" y1="228.2" x2="40.3" y2="230.8" stroke="#1e1e1e" stroke-width="0.9"/>
<text x="40.3" y="240.61" font-size="6.7" text-anchor="middle" stroke="#2a2a2a" stroke-width="0.14" textLength="3.4" lengthAdjust="spacingAndGlyphs">0</text>
<line x1="70.55" y1="228.2" x2="70.55" y2="230.8" stroke="#1e1e1e" stroke-width="0.9"/>
<text x="70.55" y="240.61" font-size="6.7" text-anchor="middle" stroke="#2a2a2a" stroke-width="0.14" textLength="10.2" lengthAdjust="spacingAndGlyphs">100</text>
<line x1="100.8" y1="228.2" x2="100.8" y2="230.8" stroke="#1e1e1e" stroke-width="0.9"/>
<text x="100.8" y="240.61" font-size="6.7" text-anchor="middle" stroke="#2a2a2a" stroke-width="0.14" textLength="10.2" lengthAdjust="spacingAndGlyphs">200</text>
<line x1="131.05" y1="228.2" x2="131.05" y2="230.8" stroke="#1e1e1e" stroke-width="0.9"/>
<text x="131.05" y="240.61" font-size="6.7" text-anchor="middle" stroke="#2a2a2a" stroke-width="0.14" textLength="10.2" lengthAdjust="spacingAndGlyphs">300</text>
<text x="86.1" y="253.4" font-size="8.5" text-anchor="middle" stroke="#2a2a2a" stroke-width="0.14" textLength="23.8" lengthAdjust="spacingAndGlyphs">Time (s)</text>
<text x="17.3" y="196.5" font-size="8.5" text-anchor="middle" stroke="#2a2a2a" stroke-width="0.14" textLength="50.6" lengthAdjust="spacingAndGlyphs" transform="rotate(-90 17.3 196.5)">Aggregation (%)</text>
<text x="65" y="218.64" font-size="6.5" text-anchor="start" stroke="#2a2a2a" stroke-width="0.14" textLength="39.6" lengthAdjust="spacingAndGlyphs">0.06U/mL Thr</text>
<line x1="62.3" y1="220.6" x2="45.88" y2="225.36" stroke="#222" stroke-width="0.7"/>
<path d="M43 226.2 L45.53 224.15 L46.23 226.57Z" fill="#222"/>
<text x="131.3" y="226.6" font-size="6.6" text-anchor="end" textLength="20.5" lengthAdjust="spacingAndGlyphs" stroke="#2a2a2a" stroke-width="0.14"><tspan font-style="italic">P</tspan> = .40</text>
<text x="6.8" y="286.2" font-size="12.7" text-anchor="start" font-weight="bold" fill="#000">I</text>
<line x1="59.4" y1="293.1" x2="69.8" y2="293.1" stroke="#1f3b6b" stroke-width="0.9"/>
<circle cx="64.6" cy="293.1" r="1.9" fill="#1f3b6b" stroke="none" stroke-width="0.6"/>
<text x="73.8" y="295.44" font-size="6.5" text-anchor="start" stroke="#2a2a2a" stroke-width="0.14">WT</text>
<line x1="88.2" y1="293.1" x2="98.5" y2="293.1" stroke="#b8163f" stroke-width="0.9"/>
<circle cx="93.35" cy="293.1" r="1.9" fill="#b8163f" stroke="none" stroke-width="0.6"/>
<text x="102.2" y="295.44" font-size="6.5" text-anchor="start" stroke="#2a2a2a" stroke-width="0.14">cKO</text>
<path d="M40.3 363 L40.45 362.94 L40.6 362.88 L40.75 362.81 L40.9 362.75 L41.06 362.68 L41.21 362.61 L41.36 362.54 L41.51 362.47 L41.66 362.21 L41.81 361.59 L41.96 360.69 L42.11 359.6 L42.27 358.39 L42.42 357.14 L42.57 355.94 L42.72 354.85 L42.87 353.81 L43.02 352.73 L43.17 351.6 L43.32 350.46 L43.48 349.3 L43.63 348.14 L43.78 347 L43.93 345.88 L44.08 344.81 L44.23 343.79 L44.38 342.8 L44.53 341.82 L44.69 340.86 L44.84 339.9 L44.99 338.97 L45.14 338.06 L45.29 337.18 L45.44 336.32 L45.59 335.5 L45.74 334.71 L45.9 333.95 L46.05 333.22 L46.2 332.5 L46.35 331.78 L46.95 329.12 L47.56 326.98 L48.16 325.43 L48.77 324.03 L49.38 322.77 L49.98 321.7 L50.59 320.83 L51.19 320.21 L51.8 319.84 L52.4 319.54 L53 319.27 L53.61 319.03 L54.22 318.81 L54.82 318.62 L55.42 318.45 L56.03 318.3 L56.64 318.16 L57.24 318.03 L57.84 317.91 L58.45 317.8 L59.05 317.68 L59.66 317.57 L60.27 317.46 L60.87 317.35 L61.48 317.25 L62.08 317.15 L62.69 317.05 L63.29 316.96 L63.89 316.87 L64.5 316.78 L65.11 316.7 L65.71 316.62 L66.31 316.55 L66.92 316.48 L67.53 316.41 L68.13 316.34 L68.73 316.28 L69.34 316.22 L69.95 316.16 L70.55 316.11 L72.06 315.98 L73.58 315.87 L75.09 315.77 L76.6 315.68 L78.11 315.6 L79.62 315.52 L81.14 315.45 L82.65 315.38 L84.16 315.31 L85.68 315.24 L87.19 315.17 L88.7 315.11 L90.21 315.05 L91.72 314.99 L93.24 314.94 L94.75 314.89 L96.26 314.84 L97.78 314.8 L99.29 314.77 L100.8 314.74 L102.31 314.71 L103.83 314.69 L105.34 314.67 L106.85 314.65 L108.36 314.63 L109.88 314.61 L111.39 314.59 L112.9 314.57 L114.41 314.56 L115.93 314.54 L117.44 314.53 L118.95 314.51 L120.46 314.5 L121.98 314.48 L123.49 314.47 L125 314.45 L126.51 314.43 L128.03 314.42 L129.54 314.4 L131.05 314.38 L131.05 318 L129.54 318.01 L128.03 318.02 L126.51 318.03 L125 318.04 L123.49 318.05 L121.98 318.06 L120.46 318.07 L118.95 318.08 L117.44 318.08 L115.93 318.09 L114.41 318.1 L112.9 318.12 L111.39 318.13 L109.88 318.14 L108.36 318.15 L106.85 318.17 L105.34 318.19 L103.83 318.2 L102.31 318.22 L100.8 318.24 L99.29 318.27 L97.78 318.3 L96.26 318.33 L94.75 318.37 L93.24 318.42 L91.72 318.47 L90.21 318.52 L88.7 318.57 L87.19 318.63 L85.68 318.69 L84.16 318.75 L82.65 318.81 L81.14 318.87 L79.62 318.94 L78.11 319.01 L76.6 319.08 L75.09 319.16 L73.58 319.25 L72.06 319.35 L70.55 319.46 L69.95 319.51 L69.34 319.56 L68.73 319.62 L68.13 319.67 L67.53 319.73 L66.92 319.8 L66.31 319.86 L65.71 319.93 L65.11 320 L64.5 320.08 L63.89 320.16 L63.29 320.24 L62.69 320.33 L62.08 320.42 L61.48 320.51 L60.87 320.6 L60.27 320.7 L59.66 320.81 L59.05 320.92 L58.45 321.02 L57.84 321.13 L57.24 321.24 L56.64 321.36 L56.03 321.49 L55.42 321.64 L54.82 321.8 L54.22 321.98 L53.61 322.19 L53 322.42 L52.4 322.68 L51.8 322.97 L51.19 323.32 L50.59 323.91 L49.98 324.73 L49.38 325.76 L48.77 326.95 L48.16 328.29 L47.56 329.76 L46.95 331.81 L46.35 334.39 L46.2 335.07 L46.05 335.77 L45.9 336.48 L45.74 337.2 L45.59 337.96 L45.44 338.76 L45.29 339.59 L45.14 340.44 L44.99 341.32 L44.84 342.22 L44.69 343.14 L44.53 344.07 L44.38 345.02 L44.23 345.97 L44.08 346.96 L43.93 348 L43.78 349.08 L43.63 350.19 L43.48 351.31 L43.32 352.43 L43.17 353.53 L43.02 354.62 L42.87 355.66 L42.72 356.66 L42.57 357.7 L42.42 358.84 L42.27 360.01 L42.11 361.12 L41.96 362.11 L41.81 362.89 L41.66 363 L41.51 363 L41.36 363 L41.21 363 L41.06 363 L40.9 363 L40.75 363 L40.6 363 L40.45 363 L40.3 363Z" fill="#8d9ec2" stroke="none"/>
<path d="M40.3 363 L40.45 362.94 L40.6 362.88 L40.75 362.81 L40.9 362.75 L41.06 362.68 L41.21 362.61 L41.36 362.54 L41.51 362.47 L41.66 362.21 L41.81 361.59 L41.96 360.69 L42.11 359.6 L42.27 358.39 L42.42 357.14 L42.57 355.94 L42.72 354.85 L42.87 353.81 L43.02 352.73 L43.17 351.6 L43.32 350.46 L43.48 349.3 L43.63 348.14 L43.78 347 L43.93 345.88 L44.08 344.81 L44.23 343.79 L44.38 342.8 L44.53 341.82 L44.69 340.86 L44.84 339.9 L44.99 338.97 L45.14 338.06 L45.29 337.18 L45.44 336.32 L45.59 335.5 L45.74 334.71 L45.9 333.95 L46.05 333.22 L46.2 332.5 L46.35 331.78 L46.95 329.12 L47.56 326.98 L48.16 325.43 L48.77 324.03 L49.38 322.77 L49.98 321.7 L50.59 320.83 L51.19 320.21 L51.8 319.84 L52.4 319.54 L53 319.27 L53.61 319.03 L54.22 318.81 L54.82 318.62 L55.42 318.45 L56.03 318.3 L56.64 318.16 L57.24 318.03 L57.84 317.91 L58.45 317.8 L59.05 317.68 L59.66 317.57 L60.27 317.46 L60.87 317.35 L61.48 317.25 L62.08 317.15 L62.69 317.05 L63.29 316.96 L63.89 316.87 L64.5 316.78 L65.11 316.7 L65.71 316.62 L66.31 316.55 L66.92 316.48 L67.53 316.41 L68.13 316.34 L68.73 316.28 L69.34 316.22 L69.95 316.16 L70.55 316.11 L72.06 315.98 L73.58 315.87 L75.09 315.77 L76.6 315.68 L78.11 315.6 L79.62 315.52 L81.14 315.45 L82.65 315.38 L84.16 315.31 L85.68 315.24 L87.19 315.17 L88.7 315.11 L90.21 315.05 L91.72 314.99 L93.24 314.94 L94.75 314.89 L96.26 314.84 L97.78 314.8 L99.29 314.77 L100.8 314.74 L102.31 314.71 L103.83 314.69 L105.34 314.67 L106.85 314.65 L108.36 314.63 L109.88 314.61 L111.39 314.59 L112.9 314.57 L114.41 314.56 L115.93 314.54 L117.44 314.53 L118.95 314.51 L120.46 314.5 L121.98 314.48 L123.49 314.47 L125 314.45 L126.51 314.43 L128.03 314.42 L129.54 314.4 L131.05 314.38" stroke="#3a4f7f" stroke-width="0.6" fill="none"/>
<path d="M40.3 363 L40.45 363 L40.6 363 L40.75 363 L40.9 363 L41.06 363 L41.21 363 L41.36 363 L41.51 363 L41.66 363 L41.81 362.89 L41.96 362.11 L42.11 361.12 L42.27 360.01 L42.42 358.84 L42.57 357.7 L42.72 356.66 L42.87 355.66 L43.02 354.62 L43.17 353.53 L43.32 352.43 L43.48 351.31 L43.63 350.19 L43.78 349.08 L43.93 348 L44.08 346.96 L44.23 345.97 L44.38 345.02 L44.53 344.07 L44.69 343.14 L44.84 342.22 L44.99 341.32 L45.14 340.44 L45.29 339.59 L45.44 338.76 L45.59 337.96 L45.74 337.2 L45.9 336.48 L46.05 335.77 L46.2 335.07 L46.35 334.39 L46.95 331.81 L47.56 329.76 L48.16 328.29 L48.77 326.95 L49.38 325.76 L49.98 324.73 L50.59 323.91 L51.19 323.32 L51.8 322.97 L52.4 322.68 L53 322.42 L53.61 322.19 L54.22 321.98 L54.82 321.8 L55.42 321.64 L56.03 321.49 L56.64 321.36 L57.24 321.24 L57.84 321.13 L58.45 321.02 L59.05 320.92 L59.66 320.81 L60.27 320.7 L60.87 320.6 L61.48 320.51 L62.08 320.42 L62.69 320.33 L63.29 320.24 L63.89 320.16 L64.5 320.08 L65.11 320 L65.71 319.93 L66.31 319.86 L66.92 319.8 L67.53 319.73 L68.13 319.67 L68.73 319.62 L69.34 319.56 L69.95 319.51 L70.55 319.46 L72.06 319.35 L73.58 319.25 L75.09 319.16 L76.6 319.08 L78.11 319.01 L79.62 318.94 L81.14 318.87 L82.65 318.81 L84.16 318.75 L85.68 318.69 L87.19 318.63 L88.7 318.57 L90.21 318.52 L91.72 318.47 L93.24 318.42 L94.75 318.37 L96.26 318.33 L97.78 318.3 L99.29 318.27 L100.8 318.24 L102.31 318.22 L103.83 318.2 L105.34 318.19 L106.85 318.17 L108.36 318.15 L109.88 318.14 L111.39 318.13 L112.9 318.12 L114.41 318.1 L115.93 318.09 L117.44 318.08 L118.95 318.08 L120.46 318.07 L121.98 318.06 L123.49 318.05 L125 318.04 L126.51 318.03 L128.03 318.02 L129.54 318.01 L131.05 318" stroke="#3a4f7f" stroke-width="0.6" fill="none"/>
<path d="M40.3 363 L40.45 362.94 L40.6 362.88 L40.75 362.81 L40.9 362.75 L41.06 362.68 L41.21 362.61 L41.36 362.54 L41.51 362.47 L41.66 362.41 L41.81 362.35 L41.96 362.16 L42.11 361.75 L42.27 361.15 L42.42 360.4 L42.57 359.54 L42.72 358.6 L42.87 357.62 L43.02 356.63 L43.17 355.67 L43.32 354.77 L43.48 353.87 L43.63 352.89 L43.78 351.85 L43.93 350.77 L44.08 349.67 L44.23 348.56 L44.38 347.48 L44.53 346.43 L44.69 345.44 L44.84 344.54 L44.99 343.73 L45.14 342.98 L45.29 342.25 L45.44 341.54 L45.59 340.84 L45.74 340.17 L45.9 339.51 L46.05 338.87 L46.2 338.25 L46.35 337.65 L46.95 335.46 L47.56 333.64 L48.16 332.15 L48.77 330.78 L49.38 329.54 L49.98 328.45 L50.59 327.52 L51.19 326.77 L51.8 326.2 L52.4 325.71 L53 325.29 L53.61 324.92 L54.22 324.59 L54.82 324.3 L55.42 324.03 L56.03 323.76 L56.64 323.52 L57.24 323.28 L57.84 323.05 L58.45 322.84 L59.05 322.63 L59.66 322.44 L60.27 322.26 L60.87 322.09 L61.48 321.93 L62.08 321.78 L62.69 321.64 L63.29 321.51 L63.89 321.39 L64.5 321.28 L65.11 321.17 L65.71 321.07 L66.31 320.97 L66.92 320.88 L67.53 320.79 L68.13 320.71 L68.73 320.63 L69.34 320.54 L69.95 320.46 L70.55 320.38 L72.06 320.17 L73.58 319.95 L75.09 319.73 L76.6 319.54 L78.11 319.37 L79.62 319.25 L81.14 319.16 L82.65 319.07 L84.16 318.99 L85.68 318.92 L87.19 318.86 L88.7 318.8 L90.21 318.74 L91.72 318.69 L93.24 318.64 L94.75 318.6 L96.26 318.56 L97.78 318.53 L99.29 318.5 L100.8 318.47 L102.31 318.44 L103.83 318.42 L105.34 318.4 L106.85 318.38 L108.36 318.36 L109.88 318.34 L111.39 318.32 L112.9 318.31 L114.41 318.29 L115.93 318.28 L117.44 318.26 L118.95 318.25 L120.46 318.23 L121.98 318.22 L123.49 318.2 L125 318.19 L126.51 318.17 L128.03 318.16 L129.54 318.14 L131.05 318.12 L131.05 321.51 L129.54 321.52 L128.03 321.53 L126.51 321.54 L125 321.55 L123.49 321.56 L121.98 321.57 L120.46 321.58 L118.95 321.59 L117.44 321.6 L115.93 321.61 L114.41 321.62 L112.9 321.63 L111.39 321.64 L109.88 321.66 L108.36 321.67 L106.85 321.69 L105.34 321.7 L103.83 321.72 L102.31 321.74 L100.8 321.76 L99.29 321.79 L97.78 321.81 L96.26 321.85 L94.75 321.88 L93.24 321.92 L91.72 321.96 L90.21 322.01 L88.7 322.06 L87.19 322.11 L85.68 322.18 L84.16 322.24 L82.65 322.31 L81.14 322.39 L79.62 322.47 L78.11 322.59 L76.6 322.75 L75.09 322.94 L73.58 323.15 L72.06 323.36 L70.55 323.56 L69.95 323.64 L69.34 323.72 L68.73 323.79 L68.13 323.87 L67.53 323.95 L66.92 324.04 L66.31 324.13 L65.71 324.22 L65.11 324.31 L64.5 324.41 L63.89 324.52 L63.29 324.64 L62.69 324.76 L62.08 324.9 L61.48 325.04 L60.87 325.19 L60.27 325.36 L59.66 325.54 L59.05 325.72 L58.45 325.92 L57.84 326.13 L57.24 326.35 L56.64 326.58 L56.03 326.82 L55.42 327.08 L54.82 327.35 L54.22 327.63 L53.61 327.95 L53 328.32 L52.4 328.73 L51.8 329.21 L51.19 329.76 L50.59 330.49 L49.98 331.38 L49.38 332.43 L48.77 333.61 L48.16 334.92 L47.56 336.35 L46.95 338.08 L46.35 340.18 L46.2 340.76 L46.05 341.36 L45.9 341.97 L45.74 342.61 L45.59 343.26 L45.44 343.93 L45.29 344.61 L45.14 345.32 L44.99 346.03 L44.84 346.81 L44.69 347.69 L44.53 348.65 L44.38 349.67 L44.23 350.72 L44.08 351.79 L43.93 352.86 L43.78 353.91 L43.63 354.92 L43.48 355.87 L43.32 356.73 L43.17 357.59 L43.02 358.52 L42.87 359.47 L42.72 360.41 L42.57 361.3 L42.42 362.1 L42.27 362.77 L42.11 363 L41.96 363 L41.81 363 L41.66 363 L41.51 363 L41.36 363 L41.21 363 L41.06 363 L40.9 363 L40.75 363 L40.6 363 L40.45 363 L40.3 363Z" fill="#e0708e" stroke="none"/>
<path d="M40.3 363 L40.45 362.94 L40.6 362.88 L40.75 362.81 L40.9 362.75 L41.06 362.68 L41.21 362.61 L41.36 362.54 L41.51 362.47 L41.66 362.41 L41.81 362.35 L41.96 362.16 L42.11 361.75 L42.27 361.15 L42.42 360.4 L42.57 359.54 L42.72 358.6 L42.87 357.62 L43.02 356.63 L43.17 355.67 L43.32 354.77 L43.48 353.87 L43.63 352.89 L43.78 351.85 L43.93 350.77 L44.08 349.67 L44.23 348.56 L44.38 347.48 L44.53 346.43 L44.69 345.44 L44.84 344.54 L44.99 343.73 L45.14 342.98 L45.29 342.25 L45.44 341.54 L45.59 340.84 L45.74 340.17 L45.9 339.51 L46.05 338.87 L46.2 338.25 L46.35 337.65 L46.95 335.46 L47.56 333.64 L48.16 332.15 L48.77 330.78 L49.38 329.54 L49.98 328.45 L50.59 327.52 L51.19 326.77 L51.8 326.2 L52.4 325.71 L53 325.29 L53.61 324.92 L54.22 324.59 L54.82 324.3 L55.42 324.03 L56.03 323.76 L56.64 323.52 L57.24 323.28 L57.84 323.05 L58.45 322.84 L59.05 322.63 L59.66 322.44 L60.27 322.26 L60.87 322.09 L61.48 321.93 L62.08 321.78 L62.69 321.64 L63.29 321.51 L63.89 321.39 L64.5 321.28 L65.11 321.17 L65.71 321.07 L66.31 320.97 L66.92 320.88 L67.53 320.79 L68.13 320.71 L68.73 320.63 L69.34 320.54 L69.95 320.46 L70.55 320.38 L72.06 320.17 L73.58 319.95 L75.09 319.73 L76.6 319.54 L78.11 319.37 L79.62 319.25 L81.14 319.16 L82.65 319.07 L84.16 318.99 L85.68 318.92 L87.19 318.86 L88.7 318.8 L90.21 318.74 L91.72 318.69 L93.24 318.64 L94.75 318.6 L96.26 318.56 L97.78 318.53 L99.29 318.5 L100.8 318.47 L102.31 318.44 L103.83 318.42 L105.34 318.4 L106.85 318.38 L108.36 318.36 L109.88 318.34 L111.39 318.32 L112.9 318.31 L114.41 318.29 L115.93 318.28 L117.44 318.26 L118.95 318.25 L120.46 318.23 L121.98 318.22 L123.49 318.2 L125 318.19 L126.51 318.17 L128.03 318.16 L129.54 318.14 L131.05 318.12" stroke="#b3143e" stroke-width="0.6" fill="none"/>
<path d="M40.3 363 L40.45 363 L40.6 363 L40.75 363 L40.9 363 L41.06 363 L41.21 363 L41.36 363 L41.51 363 L41.66 363 L41.81 363 L41.96 363 L42.11 363 L42.27 362.77 L42.42 362.1 L42.57 361.3 L42.72 360.41 L42.87 359.47 L43.02 358.52 L43.17 357.59 L43.32 356.73 L43.48 355.87 L43.63 354.92 L43.78 353.91 L43.93 352.86 L44.08 351.79 L44.23 350.72 L44.38 349.67 L44.53 348.65 L44.69 347.69 L44.84 346.81 L44.99 346.03 L45.14 345.32 L45.29 344.61 L45.44 343.93 L45.59 343.26 L45.74 342.61 L45.9 341.97 L46.05 341.36 L46.2 340.76 L46.35 340.18 L46.95 338.08 L47.56 336.35 L48.16 334.92 L48.77 333.61 L49.38 332.43 L49.98 331.38 L50.59 330.49 L51.19 329.76 L51.8 329.21 L52.4 328.73 L53 328.32 L53.61 327.95 L54.22 327.63 L54.82 327.35 L55.42 327.08 L56.03 326.82 L56.64 326.58 L57.24 326.35 L57.84 326.13 L58.45 325.92 L59.05 325.72 L59.66 325.54 L60.27 325.36 L60.87 325.19 L61.48 325.04 L62.08 324.9 L62.69 324.76 L63.29 324.64 L63.89 324.52 L64.5 324.41 L65.11 324.31 L65.71 324.22 L66.31 324.13 L66.92 324.04 L67.53 323.95 L68.13 323.87 L68.73 323.79 L69.34 323.72 L69.95 323.64 L70.55 323.56 L72.06 323.36 L73.58 323.15 L75.09 322.94 L76.6 322.75 L78.11 322.59 L79.62 322.47 L81.14 322.39 L82.65 322.31 L84.16 322.24 L85.68 322.18 L87.19 322.11 L88.7 322.06 L90.21 322.01 L91.72 321.96 L93.24 321.92 L94.75 321.88 L96.26 321.85 L97.78 321.81 L99.29 321.79 L100.8 321.76 L102.31 321.74 L103.83 321.72 L105.34 321.7 L106.85 321.69 L108.36 321.67 L109.88 321.66 L111.39 321.64 L112.9 321.63 L114.41 321.62 L115.93 321.61 L117.44 321.6 L118.95 321.59 L120.46 321.58 L121.98 321.57 L123.49 321.56 L125 321.55 L126.51 321.54 L128.03 321.53 L129.54 321.52 L131.05 321.51" stroke="#b3143e" stroke-width="0.6" fill="none"/>
<path d="M40.3 363 L40.45 363 L40.6 363 L40.75 363 L40.9 363 L41.06 363 L41.21 363 L41.36 363 L41.51 363 L41.66 362.8 L41.81 362.24 L41.96 361.4 L42.11 360.36 L42.27 359.2 L42.42 357.99 L42.57 356.82 L42.72 355.75 L42.87 354.74 L43.02 353.67 L43.17 352.57 L43.32 351.44 L43.48 350.3 L43.63 349.16 L43.78 348.04 L43.93 346.94 L44.08 345.88 L44.23 344.88 L44.38 343.91 L44.53 342.95 L44.69 342 L44.84 341.06 L44.99 340.15 L45.14 339.25 L45.29 338.38 L45.44 337.54 L45.59 336.73 L45.74 335.95 L45.9 335.22 L46.05 334.5 L46.2 333.79 L46.35 333.08 L46.95 330.46 L47.56 328.37 L48.16 326.86 L48.77 325.49 L49.38 324.26 L49.98 323.21 L50.59 322.37 L51.19 321.77 L51.8 321.4 L52.4 321.11 L53 320.84 L53.61 320.61 L54.22 320.4 L54.82 320.21 L55.42 320.05 L56.03 319.9 L56.64 319.76 L57.24 319.64 L57.84 319.52 L58.45 319.41 L59.05 319.3 L59.66 319.19 L60.27 319.08 L60.87 318.98 L61.48 318.88 L62.08 318.78 L62.69 318.69 L63.29 318.6 L63.89 318.51 L64.5 318.43 L65.11 318.35 L65.71 318.28 L66.31 318.21 L66.92 318.14 L67.53 318.07 L68.13 318.01 L68.73 317.95 L69.34 317.89 L69.95 317.84 L70.55 317.79 L72.06 317.67 L73.58 317.56 L75.09 317.47 L76.6 317.38 L78.11 317.3 L79.62 317.23 L81.14 317.16 L82.65 317.09 L84.16 317.03 L85.68 316.96 L87.19 316.9 L88.7 316.84 L90.21 316.78 L91.72 316.73 L93.24 316.68 L94.75 316.63 L96.26 316.59 L97.78 316.55 L99.29 316.52 L100.8 316.49 L102.31 316.47 L103.83 316.45 L105.34 316.43 L106.85 316.41 L108.36 316.39 L109.88 316.37 L111.39 316.36 L112.9 316.34 L114.41 316.33 L115.93 316.32 L117.44 316.31 L118.95 316.29 L120.46 316.28 L121.98 316.27 L123.49 316.26 L125 316.24 L126.51 316.23 L128.03 316.22 L129.54 316.2 L131.05 316.19" stroke="#1f3b6b" stroke-width="0.9" fill="none" stroke-opacity="0.85"/>
<path d="M40.3 363 L40.45 363 L40.6 363 L40.75 363 L40.9 363 L41.06 363 L41.21 363 L41.36 363 L41.51 363 L41.66 363 L41.81 363 L41.96 362.87 L42.11 362.51 L42.27 361.96 L42.42 361.25 L42.57 360.42 L42.72 359.5 L42.87 358.54 L43.02 357.57 L43.17 356.63 L43.32 355.75 L43.48 354.87 L43.63 353.91 L43.78 352.88 L43.93 351.82 L44.08 350.73 L44.23 349.64 L44.38 348.57 L44.53 347.54 L44.69 346.57 L44.84 345.68 L44.99 344.88 L45.14 344.15 L45.29 343.43 L45.44 342.73 L45.59 342.05 L45.74 341.39 L45.9 340.74 L46.05 340.11 L46.2 339.5 L46.35 338.91 L46.95 336.77 L47.56 334.99 L48.16 333.53 L48.77 332.19 L49.38 330.98 L49.98 329.92 L50.59 329.01 L51.19 328.27 L51.8 327.7 L52.4 327.22 L53 326.8 L53.61 326.44 L54.22 326.11 L54.82 325.82 L55.42 325.55 L56.03 325.29 L56.64 325.05 L57.24 324.81 L57.84 324.59 L58.45 324.38 L59.05 324.18 L59.66 323.99 L60.27 323.81 L60.87 323.64 L61.48 323.48 L62.08 323.34 L62.69 323.2 L63.29 323.07 L63.89 322.96 L64.5 322.85 L65.11 322.74 L65.71 322.64 L66.31 322.55 L66.92 322.46 L67.53 322.37 L68.13 322.29 L68.73 322.21 L69.34 322.13 L69.95 322.05 L70.55 321.97 L72.06 321.76 L73.58 321.55 L75.09 321.34 L76.6 321.15 L78.11 320.98 L79.62 320.86 L81.14 320.77 L82.65 320.69 L84.16 320.62 L85.68 320.55 L87.19 320.49 L88.7 320.43 L90.21 320.37 L91.72 320.32 L93.24 320.28 L94.75 320.24 L96.26 320.2 L97.78 320.17 L99.29 320.14 L100.8 320.12 L102.31 320.09 L103.83 320.07 L105.34 320.05 L106.85 320.03 L108.36 320.01 L109.88 320 L111.39 319.98 L112.9 319.97 L114.41 319.96 L115.93 319.94 L117.44 319.93 L118.95 319.92 L120.46 319.91 L121.98 319.89 L123.49 319.88 L125 319.87 L126.51 319.86 L128.03 319.84 L129.54 319.83 L131.05 319.81" stroke="#b8163f" stroke-width="1.1" fill="none"/>
<line x1="40.3" y1="363.5" x2="40.3" y2="300" stroke="#1e1e1e" stroke-width="1.3"/>
<line x1="37.3" y1="363" x2="40.3" y2="363" stroke="#1e1e1e" stroke-width="0.9"/>
<text x="34" y="365.41" font-size="6.7" text-anchor="end" stroke="#2a2a2a" stroke-width="0.14" textLength="3.4" lengthAdjust="spacingAndGlyphs">0</text>
<line x1="37.3" y1="350.92" x2="40.3" y2="350.92" stroke="#1e1e1e" stroke-width="0.9"/>
<text x="34" y="353.33" font-size="6.7" text-anchor="end" stroke="#2a2a2a" stroke-width="0.14" textLength="6.8" lengthAdjust="spacingAndGlyphs">20</text>
<line x1="37.3" y1="338.84" x2="40.3" y2="338.84" stroke="#1e1e1e" stroke-width="0.9"/>
<text x="34" y="341.25" font-size="6.7" text-anchor="end" stroke="#2a2a2a" stroke-width="0.14" textLength="6.8" lengthAdjust="spacingAndGlyphs">40</text>
<line x1="37.3" y1="326.76" x2="40.3" y2="326.76" stroke="#1e1e1e" stroke-width="0.9"/>
<text x="34" y="329.17" font-size="6.7" text-anchor="end" stroke="#2a2a2a" stroke-width="0.14" textLength="6.8" lengthAdjust="spacingAndGlyphs">60</text>
<line x1="37.3" y1="314.68" x2="40.3" y2="314.68" stroke="#1e1e1e" stroke-width="0.9"/>
<text x="34" y="317.09" font-size="6.7" text-anchor="end" stroke="#2a2a2a" stroke-width="0.14" textLength="6.8" lengthAdjust="spacingAndGlyphs">80</text>
<line x1="37.3" y1="302.6" x2="40.3" y2="302.6" stroke="#1e1e1e" stroke-width="0.9"/>
<text x="34" y="305.01" font-size="6.7" text-anchor="end" stroke="#2a2a2a" stroke-width="0.14" textLength="10.2" lengthAdjust="spacingAndGlyphs">100</text>
<line x1="39.8" y1="363" x2="131.65" y2="363" stroke="#1e1e1e" stroke-width="1.3"/>
<line x1="40.3" y1="363" x2="40.3" y2="365.6" stroke="#1e1e1e" stroke-width="0.9"/>
<text x="40.3" y="375.41" font-size="6.7" text-anchor="middle" stroke="#2a2a2a" stroke-width="0.14" textLength="3.4" lengthAdjust="spacingAndGlyphs">0</text>
<line x1="70.55" y1="363" x2="70.55" y2="365.6" stroke="#1e1e1e" stroke-width="0.9"/>
<text x="70.55" y="375.41" font-size="6.7" text-anchor="middle" stroke="#2a2a2a" stroke-width="0.14" textLength="10.2" lengthAdjust="spacingAndGlyphs">100</text>
<line x1="100.8" y1="363" x2="100.8" y2="365.6" stroke="#1e1e1e" stroke-width="0.9"/>
<text x="100.8" y="375.41" font-size="6.7" text-anchor="middle" stroke="#2a2a2a" stroke-width="0.14" textLength="10.2" lengthAdjust="spacingAndGlyphs">200</text>
<line x1="131.05" y1="363" x2="131.05" y2="365.6" stroke="#1e1e1e" stroke-width="0.9"/>
<text x="131.05" y="375.41" font-size="6.7" text-anchor="middle" stroke="#2a2a2a" stroke-width="0.14" textLength="10.2" lengthAdjust="spacingAndGlyphs">300</text>
<text x="86.1" y="388.2" font-size="8.5" text-anchor="middle" stroke="#2a2a2a" stroke-width="0.14" textLength="23.8" lengthAdjust="spacingAndGlyphs">Time (s)</text>
<text x="17.3" y="331.3" font-size="8.5" text-anchor="middle" stroke="#2a2a2a" stroke-width="0.14" textLength="50.6" lengthAdjust="spacingAndGlyphs" transform="rotate(-90 17.3 331.3)">Aggregation (%)</text>
<text x="64.3" y="355.54" font-size="6.5" text-anchor="start" stroke="#2a2a2a" stroke-width="0.14" textLength="40" lengthAdjust="spacingAndGlyphs">0.08U/mL Thr</text>
<line x1="62.5" y1="355.8" x2="46.87" y2="360.53" stroke="#222" stroke-width="0.7"/>
<path d="M44 361.4 L46.51 359.32 L47.24 361.74Z" fill="#222"/>
<text x="130.6" y="359.2" font-size="6.6" text-anchor="end" textLength="20.6" lengthAdjust="spacingAndGlyphs" stroke="#2a2a2a" stroke-width="0.14"><tspan font-style="italic">P</tspan> = .17</text>
<text x="268.2" y="16.6" font-size="12.7" text-anchor="start" font-weight="bold" fill="#000">C</text>
<line x1="320.4" y1="23.5" x2="330.8" y2="23.5" stroke="#1f3b6b" stroke-width="0.9"/>
<circle cx="325.6" cy="23.5" r="1.9" fill="#1f3b6b" stroke="none" stroke-width="0.6"/>
<text x="334.8" y="25.84" font-size="6.5" text-anchor="start" stroke="#2a2a2a" stroke-width="0.14">WT</text>
<line x1="349.2" y1="23.5" x2="359.5" y2="23.5" stroke="#b8163f" stroke-width="0.9"/>
<circle cx="354.35" cy="23.5" r="1.9" fill="#b8163f" stroke="none" stroke-width="0.6"/>
<text x="363.2" y="25.84" font-size="6.5" text-anchor="start" stroke="#2a2a2a" stroke-width="0.14">cKO</text>
<path d="M301.3 93.4 L301.45 93.4 L301.6 93.4 L301.75 93.4 L301.91 93.4 L302.06 93.4 L302.21 93.4 L302.36 93.4 L302.51 93.4 L302.66 93.32 L302.81 93.09 L302.96 92.73 L303.12 92.25 L303.27 91.66 L303.42 90.98 L303.57 90.22 L303.72 89.4 L303.87 88.53 L304.02 87.62 L304.17 86.68 L304.32 85.74 L304.48 84.81 L304.63 83.9 L304.78 83.01 L304.93 82.18 L305.08 81.41 L305.23 80.72 L305.38 80.06 L305.54 79.4 L305.69 78.75 L305.84 78.09 L305.99 77.43 L306.14 76.77 L306.29 76.11 L306.44 75.46 L306.59 74.81 L306.75 74.17 L306.9 73.54 L307.05 72.91 L307.2 72.29 L307.35 71.68 L307.95 69.37 L308.56 67.3 L309.17 65.42 L309.77 63.56 L310.38 61.85 L310.98 60.43 L311.59 59.44 L312.19 58.85 L312.8 58.32 L313.4 57.86 L314 57.47 L314.61 57.16 L315.22 56.95 L315.82 56.86 L316.43 56.87 L317.03 56.91 L317.63 56.98 L318.24 57.09 L318.85 57.22 L319.45 57.37 L320.06 57.54 L320.66 57.73 L321.26 57.94 L321.87 58.16 L322.48 58.39 L323.08 58.62 L323.69 58.86 L324.29 59.11 L324.89 59.35 L325.5 59.6 L326.11 59.83 L326.71 60.06 L327.31 60.28 L327.92 60.48 L328.53 60.68 L329.13 60.88 L329.74 61.09 L330.34 61.3 L330.94 61.52 L331.55 61.73 L333.06 62.29 L334.57 62.85 L336.09 63.42 L337.6 63.99 L339.11 64.55 L340.62 65.1 L342.14 65.64 L343.65 66.15 L345.16 66.64 L346.68 67.1 L348.19 67.56 L349.7 68.01 L351.21 68.45 L352.73 68.88 L354.24 69.29 L355.75 69.68 L357.26 70.04 L358.78 70.38 L360.29 70.69 L361.8 70.97 L363.31 71.25 L364.82 71.51 L366.34 71.76 L367.85 72 L369.36 72.23 L370.88 72.45 L372.39 72.66 L373.9 72.87 L375.41 73.08 L376.93 73.28 L378.44 73.47 L379.95 73.67 L381.46 73.86 L382.98 74.06 L384.49 74.25 L386 74.45 L387.51 74.65 L389.02 74.85 L390.54 75.06 L392.05 75.28 L392.05 82.53 L390.54 82.4 L389.02 82.27 L387.51 82.15 L386 82.03 L384.49 81.9 L382.98 81.78 L381.46 81.66 L379.95 81.53 L378.44 81.41 L376.93 81.29 L375.41 81.16 L373.9 81.04 L372.39 80.91 L370.88 80.78 L369.36 80.66 L367.85 80.53 L366.34 80.39 L364.82 80.26 L363.31 80.12 L361.8 79.98 L360.29 79.84 L358.78 79.69 L357.26 79.54 L355.75 79.38 L354.24 79.22 L352.73 79.05 L351.21 78.89 L349.7 78.72 L348.19 78.56 L346.68 78.4 L345.16 78.24 L343.65 78.06 L342.14 77.87 L340.62 77.66 L339.11 77.46 L337.6 77.26 L336.09 77.07 L334.57 76.89 L333.06 76.74 L331.55 76.62 L330.94 76.58 L330.34 76.55 L329.74 76.52 L329.13 76.5 L328.53 76.49 L327.92 76.49 L327.31 76.49 L326.71 76.49 L326.11 76.49 L325.5 76.49 L324.89 76.49 L324.29 76.49 L323.69 76.49 L323.08 76.49 L322.48 76.49 L321.87 76.49 L321.26 76.49 L320.66 76.49 L320.06 76.49 L319.45 76.49 L318.85 76.49 L318.24 76.49 L317.63 76.49 L317.03 76.49 L316.43 76.49 L315.82 76.49 L315.22 76.56 L314.61 76.72 L314 76.96 L313.4 77.25 L312.8 77.6 L312.19 77.99 L311.59 78.42 L310.98 79.1 L310.38 80.03 L309.77 81.13 L309.17 82.29 L308.56 83.41 L307.95 84.66 L307.35 86.04 L307.2 86.39 L307.05 86.74 L306.9 87.09 L306.75 87.44 L306.59 87.78 L306.44 88.12 L306.29 88.45 L306.14 88.76 L305.99 89.07 L305.84 89.36 L305.69 89.64 L305.54 89.91 L305.38 90.15 L305.23 90.38 L305.08 90.6 L304.93 90.83 L304.78 91.05 L304.63 91.28 L304.48 91.51 L304.32 91.74 L304.17 91.96 L304.02 92.17 L303.87 92.38 L303.72 92.57 L303.57 92.74 L303.42 92.91 L303.27 93.05 L303.12 93.17 L302.96 93.27 L302.81 93.34 L302.66 93.38 L302.51 93.4 L302.36 93.4 L302.21 93.4 L302.06 93.4 L301.91 93.4 L301.75 93.4 L301.6 93.4 L301.45 93.4 L301.3 93.4Z" fill="#b9c4db" stroke="none"/>
<path d="M301.3 93.4 L301.45 93.4 L301.6 93.4 L301.75 93.4 L301.91 93.4 L302.06 93.4 L302.21 93.4 L302.36 93.4 L302.51 93.4 L302.66 93.32 L302.81 93.09 L302.96 92.73 L303.12 92.25 L303.27 91.66 L303.42 90.98 L303.57 90.22 L303.72 89.4 L303.87 88.53 L304.02 87.62 L304.17 86.68 L304.32 85.74 L304.48 84.81 L304.63 83.9 L304.78 83.01 L304.93 82.18 L305.08 81.41 L305.23 80.72 L305.38 80.06 L305.54 79.4 L305.69 78.75 L305.84 78.09 L305.99 77.43 L306.14 76.77 L306.29 76.11 L306.44 75.46 L306.59 74.81 L306.75 74.17 L306.9 73.54 L307.05 72.91 L307.2 72.29 L307.35 71.68 L307.95 69.37 L308.56 67.3 L309.17 65.42 L309.77 63.56 L310.38 61.85 L310.98 60.43 L311.59 59.44 L312.19 58.85 L312.8 58.32 L313.4 57.86 L314 57.47 L314.61 57.16 L315.22 56.95 L315.82 56.86 L316.43 56.87 L317.03 56.91 L317.63 56.98 L318.24 57.09 L318.85 57.22 L319.45 57.37 L320.06 57.54 L320.66 57.73 L321.26 57.94 L321.87 58.16 L322.48 58.39 L323.08 58.62 L323.69 58.86 L324.29 59.11 L324.89 59.35 L325.5 59.6 L326.11 59.83 L326.71 60.06 L327.31 60.28 L327.92 60.48 L328.53 60.68 L329.13 60.88 L329.74 61.09 L330.34 61.3 L330.94 61.52 L331.55 61.73 L333.06 62.29 L334.57 62.85 L336.09 63.42 L337.6 63.99 L339.11 64.55 L340.62 65.1 L342.14 65.64 L343.65 66.15 L345.16 66.64 L346.68 67.1 L348.19 67.56 L349.7 68.01 L351.21 68.45 L352.73 68.88 L354.24 69.29 L355.75 69.68 L357.26 70.04 L358.78 70.38 L360.29 70.69 L361.8 70.97 L363.31 71.25 L364.82 71.51 L366.34 71.76 L367.85 72 L369.36 72.23 L370.88 72.45 L372.39 72.66 L373.9 72.87 L375.41 73.08 L376.93 73.28 L378.44 73.47 L379.95 73.67 L381.46 73.86 L382.98 74.06 L384.49 74.25 L386 74.45 L387.51 74.65 L389.02 74.85 L390.54 75.06 L392.05 75.28" stroke="#7080a6" stroke-width="0.6" fill="none"/>
<path d="M301.3 93.4 L301.45 93.4 L301.6 93.4 L301.75 93.4 L301.91 93.4 L302.06 93.4 L302.21 93.4 L302.36 93.4 L302.51 93.4 L302.66 93.38 L302.81 93.34 L302.96 93.27 L303.12 93.17 L303.27 93.05 L303.42 92.91 L303.57 92.74 L303.72 92.57 L303.87 92.38 L304.02 92.17 L304.17 91.96 L304.32 91.74 L304.48 91.51 L304.63 91.28 L304.78 91.05 L304.93 90.83 L305.08 90.6 L305.23 90.38 L305.38 90.15 L305.54 89.91 L305.69 89.64 L305.84 89.36 L305.99 89.07 L306.14 88.76 L306.29 88.45 L306.44 88.12 L306.59 87.78 L306.75 87.44 L306.9 87.09 L307.05 86.74 L307.2 86.39 L307.35 86.04 L307.95 84.66 L308.56 83.41 L309.17 82.29 L309.77 81.13 L310.38 80.03 L310.98 79.1 L311.59 78.42 L312.19 77.99 L312.8 77.6 L313.4 77.25 L314 76.96 L314.61 76.72 L315.22 76.56 L315.82 76.49 L316.43 76.49 L317.03 76.49 L317.63 76.49 L318.24 76.49 L318.85 76.49 L319.45 76.49 L320.06 76.49 L320.66 76.49 L321.26 76.49 L321.87 76.49 L322.48 76.49 L323.08 76.49 L323.69 76.49 L324.29 76.49 L324.89 76.49 L325.5 76.49 L326.11 76.49 L326.71 76.49 L327.31 76.49 L327.92 76.49 L328.53 76.49 L329.13 76.5 L329.74 76.52 L330.34 76.55 L330.94 76.58 L331.55 76.62 L333.06 76.74 L334.57 76.89 L336.09 77.07 L337.6 77.26 L339.11 77.46 L340.62 77.66 L342.14 77.87 L343.65 78.06 L345.16 78.24 L346.68 78.4 L348.19 78.56 L349.7 78.72 L351.21 78.89 L352.73 79.05 L354.24 79.22 L355.75 79.38 L357.26 79.54 L358.78 79.69 L360.29 79.84 L361.8 79.98 L363.31 80.12 L364.82 80.26 L366.34 80.39 L367.85 80.53 L369.36 80.66 L370.88 80.78 L372.39 80.91 L373.9 81.04 L375.41 81.16 L376.93 81.29 L378.44 81.41 L379.95 81.53 L381.46 81.66 L382.98 81.78 L384.49 81.9 L386 82.03 L387.51 82.15 L389.02 82.27 L390.54 82.4 L392.05 82.53" stroke="#7080a6" stroke-width="0.6" fill="none"/>
<path d="M301.3 93.4 L301.45 93.38 L301.6 93.37 L301.75 93.35 L301.91 93.34 L302.06 93.32 L302.21 93.3 L302.36 93.29 L302.51 93.27 L302.66 93.25 L302.81 93.23 L302.96 93.22 L303.12 93.2 L303.27 93.19 L303.42 93.17 L303.57 93.16 L303.72 93.14 L303.87 93.13 L304.02 93.1 L304.17 93.07 L304.32 93.04 L304.48 92.99 L304.63 92.94 L304.78 92.89 L304.93 92.83 L305.08 92.77 L305.23 92.71 L305.38 92.64 L305.54 92.56 L305.69 92.49 L305.84 92.42 L305.99 92.34 L306.14 92.26 L306.29 92.19 L306.44 92.11 L306.59 92.04 L306.75 91.97 L306.9 91.9 L307.05 91.83 L307.2 91.77 L307.35 91.71 L307.95 91.49 L308.56 91.27 L309.17 91.05 L309.77 90.83 L310.38 90.63 L310.98 90.44 L311.59 90.26 L312.19 90.09 L312.8 89.93 L313.4 89.78 L314 89.63 L314.61 89.48 L315.22 89.34 L315.82 89.2 L316.43 89.07 L317.03 88.94 L317.63 88.82 L318.24 88.7 L318.85 88.59 L319.45 88.49 L320.06 88.39 L320.66 88.29 L321.26 88.19 L321.87 88.09 L322.48 87.99 L323.08 87.89 L323.69 87.8 L324.29 87.71 L324.89 87.63 L325.5 87.56 L326.11 87.5 L326.71 87.46 L327.31 87.43 L327.92 87.42 L328.53 87.42 L329.13 87.43 L329.74 87.43 L330.34 87.43 L330.94 87.43 L331.55 87.43 L333.06 87.44 L334.57 87.46 L336.09 87.47 L337.6 87.49 L339.11 87.51 L340.62 87.53 L342.14 87.55 L343.65 87.58 L345.16 87.61 L346.68 87.64 L348.19 87.71 L349.7 87.8 L351.21 87.92 L352.73 88.05 L354.24 88.18 L355.75 88.32 L357.26 88.45 L358.78 88.57 L360.29 88.68 L361.8 88.77 L363.31 88.86 L364.82 88.95 L366.34 89.04 L367.85 89.12 L369.36 89.21 L370.88 89.29 L372.39 89.37 L373.9 89.45 L375.41 89.53 L376.93 89.6 L378.44 89.68 L379.95 89.76 L381.46 89.83 L382.98 89.91 L384.49 89.99 L386 90.06 L387.51 90.14 L389.02 90.22 L390.54 90.3 L392.05 90.38 L392.05 91.59 L390.54 91.51 L389.02 91.43 L387.51 91.36 L386 91.28 L384.49 91.21 L382.98 91.13 L381.46 91.06 L379.95 90.99 L378.44 90.91 L376.93 90.84 L375.41 90.76 L373.9 90.69 L372.39 90.61 L370.88 90.54 L369.36 90.46 L367.85 90.38 L366.34 90.29 L364.82 90.21 L363.31 90.12 L361.8 90.04 L360.29 89.95 L358.78 89.85 L357.26 89.73 L355.75 89.6 L354.24 89.46 L352.73 89.33 L351.21 89.2 L349.7 89.09 L348.19 89 L346.68 88.94 L345.16 88.9 L343.65 88.88 L342.14 88.86 L340.62 88.83 L339.11 88.81 L337.6 88.8 L336.09 88.78 L334.57 88.77 L333.06 88.76 L331.55 88.75 L330.94 88.75 L330.34 88.75 L329.74 88.75 L329.13 88.75 L328.53 88.75 L327.92 88.75 L327.31 88.76 L326.71 88.78 L326.11 88.83 L325.5 88.88 L324.89 88.95 L324.29 89.03 L323.69 89.12 L323.08 89.22 L322.48 89.31 L321.87 89.42 L321.26 89.52 L320.66 89.62 L320.06 89.71 L319.45 89.81 L318.85 89.92 L318.24 90.03 L317.63 90.15 L317.03 90.27 L316.43 90.4 L315.82 90.53 L315.22 90.67 L314.61 90.81 L314 90.96 L313.4 91.11 L312.8 91.26 L312.19 91.4 L311.59 91.55 L310.98 91.7 L310.38 91.85 L309.77 92.02 L309.17 92.18 L308.56 92.34 L307.95 92.51 L307.35 92.67 L307.2 92.71 L307.05 92.76 L306.9 92.81 L306.75 92.86 L306.59 92.92 L306.44 92.97 L306.29 93.03 L306.14 93.09 L305.99 93.15 L305.84 93.2 L305.69 93.26 L305.54 93.32 L305.38 93.37 L305.23 93.4 L305.08 93.4 L304.93 93.4 L304.78 93.4 L304.63 93.4 L304.48 93.4 L304.32 93.4 L304.17 93.4 L304.02 93.4 L303.87 93.4 L303.72 93.4 L303.57 93.4 L303.42 93.4 L303.27 93.4 L303.12 93.4 L302.96 93.4 L302.81 93.4 L302.66 93.4 L302.51 93.4 L302.36 93.4 L302.21 93.4 L302.06 93.4 L301.91 93.4 L301.75 93.4 L301.6 93.4 L301.45 93.4 L301.3 93.4Z" fill="#dc5f80" stroke="none"/>
<path d="M301.3 93.4 L301.45 93.38 L301.6 93.37 L301.75 93.35 L301.91 93.34 L302.06 93.32 L302.21 93.3 L302.36 93.29 L302.51 93.27 L302.66 93.25 L302.81 93.23 L302.96 93.22 L303.12 93.2 L303.27 93.19 L303.42 93.17 L303.57 93.16 L303.72 93.14 L303.87 93.13 L304.02 93.1 L304.17 93.07 L304.32 93.04 L304.48 92.99 L304.63 92.94 L304.78 92.89 L304.93 92.83 L305.08 92.77 L305.23 92.71 L305.38 92.64 L305.54 92.56 L305.69 92.49 L305.84 92.42 L305.99 92.34 L306.14 92.26 L306.29 92.19 L306.44 92.11 L306.59 92.04 L306.75 91.97 L306.9 91.9 L307.05 91.83 L307.2 91.77 L307.35 91.71 L307.95 91.49 L308.56 91.27 L309.17 91.05 L309.77 90.83 L310.38 90.63 L310.98 90.44 L311.59 90.26 L312.19 90.09 L312.8 89.93 L313.4 89.78 L314 89.63 L314.61 89.48 L315.22 89.34 L315.82 89.2 L316.43 89.07 L317.03 88.94 L317.63 88.82 L318.24 88.7 L318.85 88.59 L319.45 88.49 L320.06 88.39 L320.66 88.29 L321.26 88.19 L321.87 88.09 L322.48 87.99 L323.08 87.89 L323.69 87.8 L324.29 87.71 L324.89 87.63 L325.5 87.56 L326.11 87.5 L326.71 87.46 L327.31 87.43 L327.92 87.42 L328.53 87.42 L329.13 87.43 L329.74 87.43 L330.34 87.43 L330.94 87.43 L331.55 87.43 L333.06 87.44 L334.57 87.46 L336.09 87.47 L337.6 87.49 L339.11 87.51 L340.62 87.53 L342.14 87.55 L343.65 87.58 L345.16 87.61 L346.68 87.64 L348.19 87.71 L349.7 87.8 L351.21 87.92 L352.73 88.05 L354.24 88.18 L355.75 88.32 L357.26 88.45 L358.78 88.57 L360.29 88.68 L361.8 88.77 L363.31 88.86 L364.82 88.95 L366.34 89.04 L367.85 89.12 L369.36 89.21 L370.88 89.29 L372.39 89.37 L373.9 89.45 L375.41 89.53 L376.93 89.6 L378.44 89.68 L379.95 89.76 L381.46 89.83 L382.98 89.91 L384.49 89.99 L386 90.06 L387.51 90.14 L389.02 90.22 L390.54 90.3 L392.05 90.38" stroke="#c21f49" stroke-width="0.6" fill="none"/>
<path d="M301.3 93.4 L301.45 93.4 L301.6 93.4 L301.75 93.4 L301.91 93.4 L302.06 93.4 L302.21 93.4 L302.36 93.4 L302.51 93.4 L302.66 93.4 L302.81 93.4 L302.96 93.4 L303.12 93.4 L303.27 93.4 L303.42 93.4 L303.57 93.4 L303.72 93.4 L303.87 93.4 L304.02 93.4 L304.17 93.4 L304.32 93.4 L304.48 93.4 L304.63 93.4 L304.78 93.4 L304.93 93.4 L305.08 93.4 L305.23 93.4 L305.38 93.37 L305.54 93.32 L305.69 93.26 L305.84 93.2 L305.99 93.15 L306.14 93.09 L306.29 93.03 L306.44 92.97 L306.59 92.92 L306.75 92.86 L306.9 92.81 L307.05 92.76 L307.2 92.71 L307.35 92.67 L307.95 92.51 L308.56 92.34 L309.17 92.18 L309.77 92.02 L310.38 91.85 L310.98 91.7 L311.59 91.55 L312.19 91.4 L312.8 91.26 L313.4 91.11 L314 90.96 L314.61 90.81 L315.22 90.67 L315.82 90.53 L316.43 90.4 L317.03 90.27 L317.63 90.15 L318.24 90.03 L318.85 89.92 L319.45 89.81 L320.06 89.71 L320.66 89.62 L321.26 89.52 L321.87 89.42 L322.48 89.31 L323.08 89.22 L323.69 89.12 L324.29 89.03 L324.89 88.95 L325.5 88.88 L326.11 88.83 L326.71 88.78 L327.31 88.76 L327.92 88.75 L328.53 88.75 L329.13 88.75 L329.74 88.75 L330.34 88.75 L330.94 88.75 L331.55 88.75 L333.06 88.76 L334.57 88.77 L336.09 88.78 L337.6 88.8 L339.11 88.81 L340.62 88.83 L342.14 88.86 L343.65 88.88 L345.16 88.9 L346.68 88.94 L348.19 89 L349.7 89.09 L351.21 89.2 L352.73 89.33 L354.24 89.46 L355.75 89.6 L357.26 89.73 L358.78 89.85 L360.29 89.95 L361.8 90.04 L363.31 90.12 L364.82 90.21 L366.34 90.29 L367.85 90.38 L369.36 90.46 L370.88 90.54 L372.39 90.61 L373.9 90.69 L375.41 90.76 L376.93 90.84 L378.44 90.91 L379.95 90.99 L381.46 91.06 L382.98 91.13 L384.49 91.21 L386 91.28 L387.51 91.36 L389.02 91.43 L390.54 91.51 L392.05 91.59" stroke="#c21f49" stroke-width="0.6" fill="none"/>
<path d="M301.3 93.4 L301.45 93.4 L301.6 93.4 L301.75 93.4 L301.91 93.4 L302.06 93.4 L302.21 93.4 L302.36 93.4 L302.51 93.4 L302.66 93.35 L302.81 93.22 L302.96 93.01 L303.12 92.72 L303.27 92.37 L303.42 91.97 L303.57 91.51 L303.72 91.02 L303.87 90.49 L304.02 89.94 L304.17 89.37 L304.32 88.79 L304.48 88.21 L304.63 87.64 L304.78 87.07 L304.93 86.53 L305.08 86.02 L305.23 85.55 L305.38 85.09 L305.54 84.62 L305.69 84.14 L305.84 83.65 L305.99 83.15 L306.14 82.65 L306.29 82.15 L306.44 81.64 L306.59 81.13 L306.75 80.62 L306.9 80.12 L307.05 79.61 L307.2 79.11 L307.35 78.62 L307.95 76.73 L308.56 75.05 L309.17 73.57 L309.77 72.1 L310.38 70.75 L310.98 69.61 L311.59 68.78 L312.19 68.24 L312.8 67.75 L313.4 67.31 L314 66.94 L314.61 66.64 L315.22 66.44 L315.82 66.34 L316.43 66.35 L317.03 66.37 L317.63 66.42 L318.24 66.48 L318.85 66.56 L319.45 66.66 L320.06 66.77 L320.66 66.89 L321.26 67.02 L321.87 67.16 L322.48 67.3 L323.08 67.45 L323.69 67.6 L324.29 67.76 L324.89 67.91 L325.5 68.07 L326.11 68.22 L326.71 68.36 L327.31 68.5 L327.92 68.64 L328.53 68.77 L329.13 68.9 L329.74 69.03 L330.34 69.17 L330.94 69.32 L331.55 69.46 L333.06 69.83 L334.57 70.21 L336.09 70.59 L337.6 70.97 L339.11 71.35 L340.62 71.72 L342.14 72.08 L343.65 72.42 L345.16 72.74 L346.68 73.04 L348.19 73.33 L349.7 73.61 L351.21 73.88 L352.73 74.15 L354.24 74.4 L355.75 74.65 L357.26 74.88 L358.78 75.11 L360.29 75.32 L361.8 75.53 L363.31 75.73 L364.82 75.92 L366.34 76.11 L367.85 76.29 L369.36 76.46 L370.88 76.64 L372.39 76.8 L373.9 76.97 L375.41 77.13 L376.93 77.29 L378.44 77.45 L379.95 77.61 L381.46 77.77 L382.98 77.93 L384.49 78.09 L386 78.24 L387.51 78.41 L389.02 78.57 L390.54 78.73 L392.05 78.9" stroke="#1f3b6b" stroke-width="0.9" fill="none" stroke-opacity="0.85"/>
<path d="M301.3 93.4 L301.45 93.4 L301.6 93.4 L301.75 93.4 L301.91 93.4 L302.06 93.4 L302.21 93.4 L302.36 93.4 L302.51 93.4 L302.66 93.4 L302.81 93.4 L302.96 93.4 L303.12 93.4 L303.27 93.4 L303.42 93.4 L303.57 93.4 L303.72 93.4 L303.87 93.4 L304.02 93.38 L304.17 93.36 L304.32 93.34 L304.48 93.3 L304.63 93.27 L304.78 93.22 L304.93 93.17 L305.08 93.12 L305.23 93.06 L305.38 93 L305.54 92.94 L305.69 92.88 L305.84 92.81 L305.99 92.74 L306.14 92.68 L306.29 92.61 L306.44 92.54 L306.59 92.48 L306.75 92.41 L306.9 92.35 L307.05 92.3 L307.2 92.24 L307.35 92.19 L307.95 92 L308.56 91.81 L309.17 91.61 L309.77 91.42 L310.38 91.24 L310.98 91.07 L311.59 90.9 L312.19 90.75 L312.8 90.59 L313.4 90.44 L314 90.29 L314.61 90.15 L315.22 90.01 L315.82 89.87 L316.43 89.74 L317.03 89.61 L317.63 89.48 L318.24 89.37 L318.85 89.25 L319.45 89.15 L320.06 89.05 L320.66 88.95 L321.26 88.85 L321.87 88.75 L322.48 88.65 L323.08 88.55 L323.69 88.46 L324.29 88.37 L324.89 88.29 L325.5 88.22 L326.11 88.16 L326.71 88.12 L327.31 88.09 L327.92 88.08 L328.53 88.09 L329.13 88.09 L329.74 88.09 L330.34 88.09 L330.94 88.09 L331.55 88.09 L333.06 88.1 L334.57 88.11 L336.09 88.13 L337.6 88.14 L339.11 88.16 L340.62 88.18 L342.14 88.2 L343.65 88.23 L345.16 88.26 L346.68 88.29 L348.19 88.35 L349.7 88.45 L351.21 88.56 L352.73 88.69 L354.24 88.82 L355.75 88.96 L357.26 89.09 L358.78 89.21 L360.29 89.31 L361.8 89.4 L363.31 89.49 L364.82 89.58 L366.34 89.67 L367.85 89.75 L369.36 89.83 L370.88 89.91 L372.39 89.99 L373.9 90.07 L375.41 90.15 L376.93 90.22 L378.44 90.3 L379.95 90.37 L381.46 90.45 L382.98 90.52 L384.49 90.6 L386 90.67 L387.51 90.75 L389.02 90.83 L390.54 90.9 L392.05 90.98" stroke="#b8163f" stroke-width="1.1" fill="none"/>
<line x1="301.3" y1="93.9" x2="301.3" y2="30.4" stroke="#1e1e1e" stroke-width="1.3"/>
<line x1="298.3" y1="93.4" x2="301.3" y2="93.4" stroke="#1e1e1e" stroke-width="0.9"/>
<text x="295" y="95.81" font-size="6.7" text-anchor="end" stroke="#2a2a2a" stroke-width="0.14" textLength="3.4" lengthAdjust="spacingAndGlyphs">0</text>
<line x1="298.3" y1="81.32" x2="301.3" y2="81.32" stroke="#1e1e1e" stroke-width="0.9"/>
<text x="295" y="83.73" font-size="6.7" text-anchor="end" stroke="#2a2a2a" stroke-width="0.14" textLength="6.8" lengthAdjust="spacingAndGlyphs">20</text>
<line x1="298.3" y1="69.24" x2="301.3" y2="69.24" stroke="#1e1e1e" stroke-width="0.9"/>
<text x="295" y="71.65" font-size="6.7" text-anchor="end" stroke="#2a2a2a" stroke-width="0.14" textLength="6.8" lengthAdjust="spacingAndGlyphs">40</text>
<line x1="298.3" y1="57.16" x2="301.3" y2="57.16" stroke="#1e1e1e" stroke-width="0.9"/>
<text x="295" y="59.57" font-size="6.7" text-anchor="end" stroke="#2a2a2a" stroke-width="0.14" textLength="6.8" lengthAdjust="spacingAndGlyphs">60</text>
<line x1="298.3" y1="45.08" x2="301.3" y2="45.08" stroke="#1e1e1e" stroke-width="0.9"/>
<text x="295" y="47.49" font-size="6.7" text-anchor="end" stroke="#2a2a2a" stroke-width="0.14" textLength="6.8" lengthAdjust="spacingAndGlyphs">80</text>
<line x1="298.3" y1="33" x2="301.3" y2="33" stroke="#1e1e1e" stroke-width="0.9"/>
<text x="295" y="35.41" font-size="6.7" text-anchor="end" stroke="#2a2a2a" stroke-width="0.14" textLength="10.2" lengthAdjust="spacingAndGlyphs">100</text>
<line x1="300.8" y1="93.4" x2="392.65" y2="93.4" stroke="#1e1e1e" stroke-width="1.3"/>
<line x1="301.3" y1="93.4" x2="301.3" y2="96" stroke="#1e1e1e" stroke-width="0.9"/>
<text x="301.3" y="105.81" font-size="6.7" text-anchor="middle" stroke="#2a2a2a" stroke-width="0.14" textLength="3.4" lengthAdjust="spacingAndGlyphs">0</text>
<line x1="331.55" y1="93.4" x2="331.55" y2="96" stroke="#1e1e1e" stroke-width="0.9"/>
<text x="331.55" y="105.81" font-size="6.7" text-anchor="middle" stroke="#2a2a2a" stroke-width="0.14" textLength="10.2" lengthAdjust="spacingAndGlyphs">100</text>
<line x1="361.8" y1="93.4" x2="361.8" y2="96" stroke="#1e1e1e" stroke-width="0.9"/>
<text x="361.8" y="105.81" font-size="6.7" text-anchor="middle" stroke="#2a2a2a" stroke-width="0.14" textLength="10.2" lengthAdjust="spacingAndGlyphs">200</text>
<line x1="392.05" y1="93.4" x2="392.05" y2="96" stroke="#1e1e1e" stroke-width="0.9"/>
<text x="392.05" y="105.81" font-size="6.7" text-anchor="middle" stroke="#2a2a2a" stroke-width="0.14" textLength="10.2" lengthAdjust="spacingAndGlyphs">300</text>
<text x="347.1" y="118.6" font-size="8.5" text-anchor="middle" stroke="#2a2a2a" stroke-width="0.14" textLength="23.8" lengthAdjust="spacingAndGlyphs">Time (s)</text>
<text x="279" y="62.3" font-size="8.5" text-anchor="middle" stroke="#2a2a2a" stroke-width="0.14" textLength="59.4" lengthAdjust="spacingAndGlyphs" transform="rotate(-90 279 62.3)">ATP secretion (A.U.)</text>
<text x="303.4" y="52.74" font-size="6.5" text-anchor="start" stroke="#2a2a2a" stroke-width="0.14" textLength="40.5" lengthAdjust="spacingAndGlyphs">0.02U/mL Thr</text>
<line x1="306.9" y1="54.5" x2="303.5" y2="88.02" stroke="#222" stroke-width="0.7"/>
<path d="M303.2 91 L302.25 87.89 L304.76 88.14Z" fill="#222"/>
<text x="387.5" y="63.9" font-size="6.6" text-anchor="end" textLength="23.2" lengthAdjust="spacingAndGlyphs" stroke="#2a2a2a" stroke-width="0.14">*<tspan font-style="italic">P</tspan> = .04</text>
<text x="268.2" y="151.4" font-size="12.7" text-anchor="start" font-weight="bold" fill="#000">G</text>
<line x1="320.4" y1="158.3" x2="330.8" y2="158.3" stroke="#1f3b6b" stroke-width="0.9"/>
<circle cx="325.6" cy="158.3" r="1.9" fill="#1f3b6b" stroke="none" stroke-width="0.6"/>
<text x="334.8" y="160.64" font-size="6.5" text-anchor="start" stroke="#2a2a2a" stroke-width="0.14">WT</text>
<line x1="349.2" y1="158.3" x2="359.5" y2="158.3" stroke="#b8163f" stroke-width="0.9"/>
<circle cx="354.35" cy="158.3" r="1.9" fill="#b8163f" stroke="none" stroke-width="0.6"/>
<text x="363.2" y="160.64" font-size="6.5" text-anchor="start" stroke="#2a2a2a" stroke-width="0.14">cKO</text>
<path d="M301.3 228.2 L301.45 226.27 L301.6 224.29 L301.75 222.3 L301.91 220.38 L302.06 218.56 L302.21 216.93 L302.36 215.41 L302.51 213.92 L302.66 212.47 L302.81 211.06 L302.96 209.69 L303.12 208.36 L303.27 207.08 L303.42 205.84 L303.57 204.66 L303.72 203.53 L303.87 202.46 L304.02 201.45 L304.17 200.5 L304.32 199.61 L304.48 198.76 L304.63 197.92 L304.78 197.09 L304.93 196.28 L305.08 195.48 L305.23 194.7 L305.38 193.94 L305.54 193.21 L305.69 192.51 L305.84 191.83 L305.99 191.19 L306.14 190.59 L306.29 190.02 L306.44 189.49 L306.59 189 L306.75 188.56 L306.9 188.16 L307.05 187.82 L307.2 187.53 L307.35 187.27 L307.95 186.3 L308.56 185.45 L309.17 184.71 L309.77 184.07 L310.38 183.55 L310.98 183.13 L311.59 182.82 L312.19 182.6 L312.8 182.4 L313.4 182.23 L314 182.09 L314.61 181.98 L315.22 181.91 L315.82 181.89 L316.43 181.91 L317.03 181.94 L317.63 182 L318.24 182.07 L318.85 182.16 L319.45 182.26 L320.06 182.38 L320.66 182.51 L321.26 182.66 L321.87 182.82 L322.48 182.99 L323.08 183.17 L323.69 183.37 L324.29 183.57 L324.89 183.77 L325.5 183.99 L326.11 184.21 L326.71 184.43 L327.31 184.66 L327.92 184.89 L328.53 185.12 L329.13 185.35 L329.74 185.59 L330.34 185.82 L330.94 186.05 L331.55 186.28 L333.06 186.83 L334.57 187.34 L336.09 187.81 L337.6 188.3 L339.11 188.81 L340.62 189.33 L342.14 189.86 L343.65 190.41 L345.16 190.95 L346.68 191.5 L348.19 192.05 L349.7 192.6 L351.21 193.14 L352.73 193.66 L354.24 194.18 L355.75 194.67 L357.26 195.15 L358.78 195.6 L360.29 196.03 L361.8 196.43 L363.31 196.79 L364.82 197.13 L366.34 197.45 L367.85 197.76 L369.36 198.05 L370.88 198.34 L372.39 198.61 L373.9 198.87 L375.41 199.13 L376.93 199.38 L378.44 199.62 L379.95 199.86 L381.46 200.1 L382.98 200.34 L384.49 200.58 L386 200.82 L387.51 201.06 L389.02 201.31 L390.54 201.56 L392.05 201.83 L392.05 207.87 L390.54 207.71 L389.02 207.56 L387.51 207.42 L386 207.28 L384.49 207.14 L382.98 207.01 L381.46 206.87 L379.95 206.74 L378.44 206.6 L376.93 206.46 L375.41 206.32 L373.9 206.16 L372.39 206.01 L370.88 205.84 L369.36 205.67 L367.85 205.48 L366.34 205.28 L364.82 205.07 L363.31 204.85 L361.8 204.59 L360.29 204.3 L358.78 203.96 L357.26 203.6 L355.75 203.2 L354.24 202.78 L352.73 202.34 L351.21 201.87 L349.7 201.4 L348.19 200.91 L346.68 200.41 L345.16 199.91 L343.65 199.41 L342.14 198.92 L340.62 198.43 L339.11 197.95 L337.6 197.49 L336.09 197.05 L334.57 196.62 L333.06 196.15 L331.55 195.65 L330.94 195.44 L330.34 195.23 L329.74 195.01 L329.13 194.8 L328.53 194.58 L327.92 194.36 L327.31 194.15 L326.71 193.94 L326.11 193.73 L325.5 193.52 L324.89 193.32 L324.29 193.13 L323.69 192.94 L323.08 192.76 L322.48 192.59 L321.87 192.43 L321.26 192.28 L320.66 192.14 L320.06 192.02 L319.45 191.9 L318.85 191.8 L318.24 191.72 L317.63 191.65 L317.03 191.6 L316.43 191.57 L315.82 191.56 L315.22 191.58 L314.61 191.64 L314 191.75 L313.4 191.9 L312.8 192.07 L312.19 192.26 L311.59 192.47 L310.98 192.75 L310.38 193.11 L309.77 193.56 L309.17 194.09 L308.56 194.7 L307.95 195.39 L307.35 196.18 L307.2 196.39 L307.05 196.62 L306.9 196.88 L306.75 197.18 L306.59 197.5 L306.44 197.85 L306.29 198.24 L306.14 198.65 L305.99 199.08 L305.84 199.54 L305.69 200.03 L305.54 200.53 L305.38 201.06 L305.23 201.61 L305.08 202.17 L304.93 202.76 L304.78 203.36 L304.63 203.97 L304.48 204.6 L304.32 205.25 L304.17 205.93 L304.02 206.68 L303.87 207.49 L303.72 208.36 L303.57 209.29 L303.42 210.26 L303.27 211.28 L303.12 212.34 L302.96 213.44 L302.81 214.57 L302.66 215.73 L302.51 216.92 L302.36 218.12 L302.21 219.34 L302.06 220.65 L301.91 222.07 L301.75 223.58 L301.6 225.14 L301.45 226.69 L301.3 228.2Z" fill="#8a9dc8" stroke="none"/>
<path d="M301.3 228.2 L301.45 226.27 L301.6 224.29 L301.75 222.3 L301.91 220.38 L302.06 218.56 L302.21 216.93 L302.36 215.41 L302.51 213.92 L302.66 212.47 L302.81 211.06 L302.96 209.69 L303.12 208.36 L303.27 207.08 L303.42 205.84 L303.57 204.66 L303.72 203.53 L303.87 202.46 L304.02 201.45 L304.17 200.5 L304.32 199.61 L304.48 198.76 L304.63 197.92 L304.78 197.09 L304.93 196.28 L305.08 195.48 L305.23 194.7 L305.38 193.94 L305.54 193.21 L305.69 192.51 L305.84 191.83 L305.99 191.19 L306.14 190.59 L306.29 190.02 L306.44 189.49 L306.59 189 L306.75 188.56 L306.9 188.16 L307.05 187.82 L307.2 187.53 L307.35 187.27 L307.95 186.3 L308.56 185.45 L309.17 184.71 L309.77 184.07 L310.38 183.55 L310.98 183.13 L311.59 182.82 L312.19 182.6 L312.8 182.4 L313.4 182.23 L314 182.09 L314.61 181.98 L315.22 181.91 L315.82 181.89 L316.43 181.91 L317.03 181.94 L317.63 182 L318.24 182.07 L318.85 182.16 L319.45 182.26 L320.06 182.38 L320.66 182.51 L321.26 182.66 L321.87 182.82 L322.48 182.99 L323.08 183.17 L323.69 183.37 L324.29 183.57 L324.89 183.77 L325.5 183.99 L326.11 184.21 L326.71 184.43 L327.31 184.66 L327.92 184.89 L328.53 185.12 L329.13 185.35 L329.74 185.59 L330.34 185.82 L330.94 186.05 L331.55 186.28 L333.06 186.83 L334.57 187.34 L336.09 187.81 L337.6 188.3 L339.11 188.81 L340.62 189.33 L342.14 189.86 L343.65 190.41 L345.16 190.95 L346.68 191.5 L348.19 192.05 L349.7 192.6 L351.21 193.14 L352.73 193.66 L354.24 194.18 L355.75 194.67 L357.26 195.15 L358.78 195.6 L360.29 196.03 L361.8 196.43 L363.31 196.79 L364.82 197.13 L366.34 197.45 L367.85 197.76 L369.36 198.05 L370.88 198.34 L372.39 198.61 L373.9 198.87 L375.41 199.13 L376.93 199.38 L378.44 199.62 L379.95 199.86 L381.46 200.1 L382.98 200.34 L384.49 200.58 L386 200.82 L387.51 201.06 L389.02 201.31 L390.54 201.56 L392.05 201.83" stroke="#3d5688" stroke-width="0.6" fill="none"/>
<path d="M301.3 228.2 L301.45 226.69 L301.6 225.14 L301.75 223.58 L301.91 222.07 L302.06 220.65 L302.21 219.34 L302.36 218.12 L302.51 216.92 L302.66 215.73 L302.81 214.57 L302.96 213.44 L303.12 212.34 L303.27 211.28 L303.42 210.26 L303.57 209.29 L303.72 208.36 L303.87 207.49 L304.02 206.68 L304.17 205.93 L304.32 205.25 L304.48 204.6 L304.63 203.97 L304.78 203.36 L304.93 202.76 L305.08 202.17 L305.23 201.61 L305.38 201.06 L305.54 200.53 L305.69 200.03 L305.84 199.54 L305.99 199.08 L306.14 198.65 L306.29 198.24 L306.44 197.85 L306.59 197.5 L306.75 197.18 L306.9 196.88 L307.05 196.62 L307.2 196.39 L307.35 196.18 L307.95 195.39 L308.56 194.7 L309.17 194.09 L309.77 193.56 L310.38 193.11 L310.98 192.75 L311.59 192.47 L312.19 192.26 L312.8 192.07 L313.4 191.9 L314 191.75 L314.61 191.64 L315.22 191.58 L315.82 191.56 L316.43 191.57 L317.03 191.6 L317.63 191.65 L318.24 191.72 L318.85 191.8 L319.45 191.9 L320.06 192.02 L320.66 192.14 L321.26 192.28 L321.87 192.43 L322.48 192.59 L323.08 192.76 L323.69 192.94 L324.29 193.13 L324.89 193.32 L325.5 193.52 L326.11 193.73 L326.71 193.94 L327.31 194.15 L327.92 194.36 L328.53 194.58 L329.13 194.8 L329.74 195.01 L330.34 195.23 L330.94 195.44 L331.55 195.65 L333.06 196.15 L334.57 196.62 L336.09 197.05 L337.6 197.49 L339.11 197.95 L340.62 198.43 L342.14 198.92 L343.65 199.41 L345.16 199.91 L346.68 200.41 L348.19 200.91 L349.7 201.4 L351.21 201.87 L352.73 202.34 L354.24 202.78 L355.75 203.2 L357.26 203.6 L358.78 203.96 L360.29 204.3 L361.8 204.59 L363.31 204.85 L364.82 205.07 L366.34 205.28 L367.85 205.48 L369.36 205.67 L370.88 205.84 L372.39 206.01 L373.9 206.16 L375.41 206.32 L376.93 206.46 L378.44 206.6 L379.95 206.74 L381.46 206.87 L382.98 207.01 L384.49 207.14 L386 207.28 L387.51 207.42 L389.02 207.56 L390.54 207.71 L392.05 207.87" stroke="#3d5688" stroke-width="0.6" fill="none"/>
<path d="M301.3 228.2 L301.45 227.29 L301.6 226.32 L301.75 225.36 L301.91 224.45 L302.06 223.63 L302.21 222.97 L302.36 222.4 L302.51 221.87 L302.66 221.36 L302.81 220.88 L302.96 220.43 L303.12 220 L303.27 219.59 L303.42 219.21 L303.57 218.85 L303.72 218.51 L303.87 218.19 L304.02 217.89 L304.17 217.6 L304.32 217.33 L304.48 217.07 L304.63 216.82 L304.78 216.57 L304.93 216.34 L305.08 216.11 L305.23 215.89 L305.38 215.68 L305.54 215.47 L305.69 215.27 L305.84 215.08 L305.99 214.9 L306.14 214.72 L306.29 214.56 L306.44 214.4 L306.59 214.24 L306.75 214.1 L306.9 213.96 L307.05 213.83 L307.2 213.7 L307.35 213.58 L307.95 213.1 L308.56 212.63 L309.17 212.17 L309.77 211.73 L310.38 211.32 L310.98 210.94 L311.59 210.59 L312.19 210.3 L312.8 210.05 L313.4 209.86 L314 209.74 L314.61 209.68 L315.22 209.68 L315.82 209.68 L316.43 209.69 L317.03 209.7 L317.63 209.71 L318.24 209.73 L318.85 209.75 L319.45 209.77 L320.06 209.8 L320.66 209.83 L321.26 209.85 L321.87 209.89 L322.48 209.92 L323.08 209.96 L323.69 209.99 L324.29 210.03 L324.89 210.07 L325.5 210.12 L326.11 210.16 L326.71 210.2 L327.31 210.25 L327.92 210.3 L328.53 210.34 L329.13 210.39 L329.74 210.44 L330.34 210.49 L330.94 210.54 L331.55 210.59 L333.06 210.71 L334.57 210.84 L336.09 210.96 L337.6 211.1 L339.11 211.25 L340.62 211.42 L342.14 211.59 L343.65 211.78 L345.16 211.98 L346.68 212.18 L348.19 212.39 L349.7 212.61 L351.21 212.82 L352.73 213.04 L354.24 213.26 L355.75 213.48 L357.26 213.7 L358.78 213.91 L360.29 214.12 L361.8 214.32 L363.31 214.51 L364.82 214.7 L366.34 214.88 L367.85 215.06 L369.36 215.25 L370.88 215.43 L372.39 215.61 L373.9 215.79 L375.41 215.97 L376.93 216.15 L378.44 216.33 L379.95 216.5 L381.46 216.68 L382.98 216.86 L384.49 217.04 L386 217.22 L387.51 217.39 L389.02 217.57 L390.54 217.75 L392.05 217.93 L392.05 222.04 L390.54 221.92 L389.02 221.8 L387.51 221.68 L386 221.57 L384.49 221.45 L382.98 221.33 L381.46 221.22 L379.95 221.1 L378.44 220.98 L376.93 220.87 L375.41 220.75 L373.9 220.63 L372.39 220.51 L370.88 220.39 L369.36 220.26 L367.85 220.14 L366.34 220.01 L364.82 219.88 L363.31 219.74 L361.8 219.6 L360.29 219.46 L358.78 219.3 L357.26 219.13 L355.75 218.97 L354.24 218.79 L352.73 218.62 L351.21 218.44 L349.7 218.27 L348.19 218.1 L346.68 217.93 L345.16 217.76 L343.65 217.61 L342.14 217.46 L340.62 217.32 L339.11 217.19 L337.6 217.08 L336.09 216.98 L334.57 216.89 L333.06 216.81 L331.55 216.72 L330.94 216.69 L330.34 216.66 L329.74 216.62 L329.13 216.59 L328.53 216.56 L327.92 216.53 L327.31 216.49 L326.71 216.46 L326.11 216.43 L325.5 216.41 L324.89 216.38 L324.29 216.35 L323.69 216.33 L323.08 216.3 L322.48 216.28 L321.87 216.26 L321.26 216.23 L320.66 216.22 L320.06 216.2 L319.45 216.18 L318.85 216.17 L318.24 216.15 L317.63 216.14 L317.03 216.14 L316.43 216.13 L315.82 216.12 L315.22 216.12 L314.61 216.12 L314 216.17 L313.4 216.29 L312.8 216.45 L312.19 216.67 L311.59 216.92 L310.98 217.21 L310.38 217.53 L309.77 217.86 L309.17 218.21 L308.56 218.56 L307.95 218.91 L307.35 219.26 L307.2 219.34 L307.05 219.42 L306.9 219.51 L306.75 219.59 L306.59 219.67 L306.44 219.76 L306.29 219.84 L306.14 219.93 L305.99 220.03 L305.84 220.12 L305.69 220.22 L305.54 220.32 L305.38 220.43 L305.23 220.54 L305.08 220.66 L304.93 220.78 L304.78 220.92 L304.63 221.05 L304.48 221.2 L304.32 221.35 L304.17 221.53 L304.02 221.72 L303.87 221.94 L303.72 222.18 L303.57 222.43 L303.42 222.71 L303.27 223 L303.12 223.31 L302.96 223.63 L302.81 223.96 L302.66 224.3 L302.51 224.66 L302.36 225.02 L302.21 225.38 L302.06 225.78 L301.91 226.23 L301.75 226.71 L301.6 227.22 L301.45 227.72 L301.3 228.2Z" fill="#e9758f" stroke="none"/>
<path d="M301.3 228.2 L301.45 227.29 L301.6 226.32 L301.75 225.36 L301.91 224.45 L302.06 223.63 L302.21 222.97 L302.36 222.4 L302.51 221.87 L302.66 221.36 L302.81 220.88 L302.96 220.43 L303.12 220 L303.27 219.59 L303.42 219.21 L303.57 218.85 L303.72 218.51 L303.87 218.19 L304.02 217.89 L304.17 217.6 L304.32 217.33 L304.48 217.07 L304.63 216.82 L304.78 216.57 L304.93 216.34 L305.08 216.11 L305.23 215.89 L305.38 215.68 L305.54 215.47 L305.69 215.27 L305.84 215.08 L305.99 214.9 L306.14 214.72 L306.29 214.56 L306.44 214.4 L306.59 214.24 L306.75 214.1 L306.9 213.96 L307.05 213.83 L307.2 213.7 L307.35 213.58 L307.95 213.1 L308.56 212.63 L309.17 212.17 L309.77 211.73 L310.38 211.32 L310.98 210.94 L311.59 210.59 L312.19 210.3 L312.8 210.05 L313.4 209.86 L314 209.74 L314.61 209.68 L315.22 209.68 L315.82 209.68 L316.43 209.69 L317.03 209.7 L317.63 209.71 L318.24 209.73 L318.85 209.75 L319.45 209.77 L320.06 209.8 L320.66 209.83 L321.26 209.85 L321.87 209.89 L322.48 209.92 L323.08 209.96 L323.69 209.99 L324.29 210.03 L324.89 210.07 L325.5 210.12 L326.11 210.16 L326.71 210.2 L327.31 210.25 L327.92 210.3 L328.53 210.34 L329.13 210.39 L329.74 210.44 L330.34 210.49 L330.94 210.54 L331.55 210.59 L333.06 210.71 L334.57 210.84 L336.09 210.96 L337.6 211.1 L339.11 211.25 L340.62 211.42 L342.14 211.59 L343.65 211.78 L345.16 211.98 L346.68 212.18 L348.19 212.39 L349.7 212.61 L351.21 212.82 L352.73 213.04 L354.24 213.26 L355.75 213.48 L357.26 213.7 L358.78 213.91 L360.29 214.12 L361.8 214.32 L363.31 214.51 L364.82 214.7 L366.34 214.88 L367.85 215.06 L369.36 215.25 L370.88 215.43 L372.39 215.61 L373.9 215.79 L375.41 215.97 L376.93 216.15 L378.44 216.33 L379.95 216.5 L381.46 216.68 L382.98 216.86 L384.49 217.04 L386 217.22 L387.51 217.39 L389.02 217.57 L390.54 217.75 L392.05 217.93" stroke="#c22a50" stroke-width="0.6" fill="none"/>
<path d="M301.3 228.2 L301.45 227.72 L301.6 227.22 L301.75 226.71 L301.91 226.23 L302.06 225.78 L302.21 225.38 L302.36 225.02 L302.51 224.66 L302.66 224.3 L302.81 223.96 L302.96 223.63 L303.12 223.31 L303.27 223 L303.42 222.71 L303.57 222.43 L303.72 222.18 L303.87 221.94 L304.02 221.72 L304.17 221.53 L304.32 221.35 L304.48 221.2 L304.63 221.05 L304.78 220.92 L304.93 220.78 L305.08 220.66 L305.23 220.54 L305.38 220.43 L305.54 220.32 L305.69 220.22 L305.84 220.12 L305.99 220.03 L306.14 219.93 L306.29 219.84 L306.44 219.76 L306.59 219.67 L306.75 219.59 L306.9 219.51 L307.05 219.42 L307.2 219.34 L307.35 219.26 L307.95 218.91 L308.56 218.56 L309.17 218.21 L309.77 217.86 L310.38 217.53 L310.98 217.21 L311.59 216.92 L312.19 216.67 L312.8 216.45 L313.4 216.29 L314 216.17 L314.61 216.12 L315.22 216.12 L315.82 216.12 L316.43 216.13 L317.03 216.14 L317.63 216.14 L318.24 216.15 L318.85 216.17 L319.45 216.18 L320.06 216.2 L320.66 216.22 L321.26 216.23 L321.87 216.26 L322.48 216.28 L323.08 216.3 L323.69 216.33 L324.29 216.35 L324.89 216.38 L325.5 216.41 L326.11 216.43 L326.71 216.46 L327.31 216.49 L327.92 216.53 L328.53 216.56 L329.13 216.59 L329.74 216.62 L330.34 216.66 L330.94 216.69 L331.55 216.72 L333.06 216.81 L334.57 216.89 L336.09 216.98 L337.6 217.08 L339.11 217.19 L340.62 217.32 L342.14 217.46 L343.65 217.61 L345.16 217.76 L346.68 217.93 L348.19 218.1 L349.7 218.27 L351.21 218.44 L352.73 218.62 L354.24 218.79 L355.75 218.97 L357.26 219.13 L358.78 219.3 L360.29 219.46 L361.8 219.6 L363.31 219.74 L364.82 219.88 L366.34 220.01 L367.85 220.14 L369.36 220.26 L370.88 220.39 L372.39 220.51 L373.9 220.63 L375.41 220.75 L376.93 220.87 L378.44 220.98 L379.95 221.1 L381.46 221.22 L382.98 221.33 L384.49 221.45 L386 221.57 L387.51 221.68 L389.02 221.8 L390.54 221.92 L392.05 222.04" stroke="#c22a50" stroke-width="0.6" fill="none"/>
<path d="M301.3 228.2 L301.45 226.48 L301.6 224.71 L301.75 222.94 L301.91 221.23 L302.06 219.61 L302.21 218.13 L302.36 216.76 L302.51 215.42 L302.66 214.1 L302.81 212.82 L302.96 211.56 L303.12 210.35 L303.27 209.18 L303.42 208.05 L303.57 206.98 L303.72 205.95 L303.87 204.98 L304.02 204.07 L304.17 203.22 L304.32 202.43 L304.48 201.68 L304.63 200.95 L304.78 200.22 L304.93 199.52 L305.08 198.83 L305.23 198.15 L305.38 197.5 L305.54 196.87 L305.69 196.27 L305.84 195.69 L305.99 195.14 L306.14 194.62 L306.29 194.13 L306.44 193.67 L306.59 193.25 L306.75 192.87 L306.9 192.52 L307.05 192.22 L307.2 191.96 L307.35 191.73 L307.95 190.85 L308.56 190.07 L309.17 189.39 L309.77 188.81 L310.38 188.33 L310.98 187.94 L311.59 187.64 L312.19 187.43 L312.8 187.24 L313.4 187.06 L314 186.92 L314.61 186.81 L315.22 186.74 L315.82 186.73 L316.43 186.74 L317.03 186.77 L317.63 186.82 L318.24 186.89 L318.85 186.97 L319.45 187.07 L320.06 187.18 L320.66 187.3 L321.26 187.44 L321.87 187.59 L322.48 187.75 L323.08 187.92 L323.69 188.1 L324.29 188.28 L324.89 188.48 L325.5 188.67 L326.11 188.88 L326.71 189.09 L327.31 189.3 L327.92 189.51 L328.53 189.73 L329.13 189.95 L329.74 190.16 L330.34 190.38 L330.94 190.59 L331.55 190.8 L333.06 191.31 L334.57 191.78 L336.09 192.22 L337.6 192.67 L339.11 193.14 L340.62 193.62 L342.14 194.11 L343.65 194.62 L345.16 195.12 L346.68 195.63 L348.19 196.14 L349.7 196.64 L351.21 197.13 L352.73 197.61 L354.24 198.08 L355.75 198.53 L357.26 198.96 L358.78 199.37 L360.29 199.75 L361.8 200.1 L363.31 200.42 L364.82 200.71 L366.34 200.98 L367.85 201.25 L369.36 201.5 L370.88 201.74 L372.39 201.97 L373.9 202.19 L375.41 202.4 L376.93 202.61 L378.44 202.81 L379.95 203.01 L381.46 203.21 L382.98 203.41 L384.49 203.61 L386 203.8 L387.51 204.01 L389.02 204.21 L390.54 204.43 L392.05 204.64" stroke="#1f3b6b" stroke-width="0.9" fill="none" stroke-opacity="0.85"/>
<path d="M301.3 228.2 L301.45 227.5 L301.6 226.77 L301.75 226.04 L301.91 225.34 L302.06 224.71 L302.21 224.17 L302.36 223.71 L302.51 223.26 L302.66 222.83 L302.81 222.42 L302.96 222.02 L303.12 221.65 L303.27 221.29 L303.42 220.96 L303.57 220.64 L303.72 220.34 L303.87 220.06 L304.02 219.8 L304.17 219.56 L304.32 219.34 L304.48 219.13 L304.63 218.93 L304.78 218.74 L304.93 218.56 L305.08 218.38 L305.23 218.21 L305.38 218.05 L305.54 217.9 L305.69 217.75 L305.84 217.6 L305.99 217.46 L306.14 217.33 L306.29 217.2 L306.44 217.08 L306.59 216.96 L306.75 216.85 L306.9 216.73 L307.05 216.63 L307.2 216.52 L307.35 216.42 L307.95 216.01 L308.56 215.59 L309.17 215.18 L309.77 214.79 L310.38 214.42 L310.98 214.07 L311.59 213.75 L312.19 213.48 L312.8 213.25 L313.4 213.07 L314 212.95 L314.61 212.9 L315.22 212.9 L315.82 212.9 L316.43 212.91 L317.03 212.91 L317.63 212.92 L318.24 212.93 L318.85 212.95 L319.45 212.96 L320.06 212.97 L320.66 212.99 L321.26 213.01 L321.87 213.03 L322.48 213.05 L323.08 213.08 L323.69 213.1 L324.29 213.13 L324.89 213.15 L325.5 213.18 L326.11 213.21 L326.71 213.24 L327.31 213.27 L327.92 213.3 L328.53 213.33 L329.13 213.36 L329.74 213.4 L330.34 213.43 L330.94 213.46 L331.55 213.5 L333.06 213.58 L334.57 213.67 L336.09 213.76 L337.6 213.87 L339.11 213.99 L340.62 214.13 L342.14 214.28 L343.65 214.45 L345.16 214.62 L346.68 214.8 L348.19 214.99 L349.7 215.19 L351.21 215.39 L352.73 215.59 L354.24 215.79 L355.75 215.99 L357.26 216.19 L358.78 216.39 L360.29 216.57 L361.8 216.75 L363.31 216.93 L364.82 217.09 L366.34 217.25 L367.85 217.42 L369.36 217.58 L370.88 217.74 L372.39 217.9 L373.9 218.06 L375.41 218.22 L376.93 218.37 L378.44 218.53 L379.95 218.69 L381.46 218.84 L382.98 219 L384.49 219.16 L386 219.31 L387.51 219.47 L389.02 219.63 L390.54 219.79 L392.05 219.95" stroke="#b8163f" stroke-width="1.1" fill="none"/>
<line x1="301.3" y1="228.7" x2="301.3" y2="165.2" stroke="#1e1e1e" stroke-width="1.3"/>
<line x1="298.3" y1="228.2" x2="301.3" y2="228.2" stroke="#1e1e1e" stroke-width="0.9"/>
<text x="295" y="230.61" font-size="6.7" text-anchor="end" stroke="#2a2a2a" stroke-width="0.14" textLength="3.4" lengthAdjust="spacingAndGlyphs">0</text>
<line x1="298.3" y1="208.07" x2="301.3" y2="208.07" stroke="#1e1e1e" stroke-width="0.9"/>
<text x="295" y="210.48" font-size="6.7" text-anchor="end" stroke="#2a2a2a" stroke-width="0.14" textLength="6.8" lengthAdjust="spacingAndGlyphs">50</text>
<line x1="298.3" y1="187.93" x2="301.3" y2="187.93" stroke="#1e1e1e" stroke-width="0.9"/>
<text x="295" y="190.35" font-size="6.7" text-anchor="end" stroke="#2a2a2a" stroke-width="0.14" textLength="10.2" lengthAdjust="spacingAndGlyphs">100</text>
<line x1="298.3" y1="167.8" x2="301.3" y2="167.8" stroke="#1e1e1e" stroke-width="0.9"/>
<text x="295" y="170.21" font-size="6.7" text-anchor="end" stroke="#2a2a2a" stroke-width="0.14" textLength="10.2" lengthAdjust="spacingAndGlyphs">150</text>
<line x1="300.8" y1="228.2" x2="392.65" y2="228.2" stroke="#1e1e1e" stroke-width="1.3"/>
<line x1="301.3" y1="228.2" x2="301.3" y2="230.8" stroke="#1e1e1e" stroke-width="0.9"/>
<text x="301.3" y="240.61" font-size="6.7" text-anchor="middle" stroke="#2a2a2a" stroke-width="0.14" textLength="3.4" lengthAdjust="spacingAndGlyphs">0</text>
<line x1="331.55" y1="228.2" x2="331.55" y2="230.8" stroke="#1e1e1e" stroke-width="0.9"/>
<text x="331.55" y="240.61" font-size="6.7" text-anchor="middle" stroke="#2a2a2a" stroke-width="0.14" textLength="10.2" lengthAdjust="spacingAndGlyphs">100</text>
<line x1="361.8" y1="228.2" x2="361.8" y2="230.8" stroke="#1e1e1e" stroke-width="0.9"/>
<text x="361.8" y="240.61" font-size="6.7" text-anchor="middle" stroke="#2a2a2a" stroke-width="0.14" textLength="10.2" lengthAdjust="spacingAndGlyphs">200</text>
<line x1="392.05" y1="228.2" x2="392.05" y2="230.8" stroke="#1e1e1e" stroke-width="0.9"/>
<text x="392.05" y="240.61" font-size="6.7" text-anchor="middle" stroke="#2a2a2a" stroke-width="0.14" textLength="10.2" lengthAdjust="spacingAndGlyphs">300</text>
<text x="347.1" y="253.4" font-size="8.5" text-anchor="middle" stroke="#2a2a2a" stroke-width="0.14" textLength="23.8" lengthAdjust="spacingAndGlyphs">Time (s)</text>
<text x="279" y="197.1" font-size="8.5" text-anchor="middle" stroke="#2a2a2a" stroke-width="0.14" textLength="59.4" lengthAdjust="spacingAndGlyphs" transform="rotate(-90 279 197.1)">ATP secretion (A.U.)</text>
<text x="326" y="226.64" font-size="6.5" text-anchor="start" stroke="#2a2a2a" stroke-width="0.14" textLength="40.7" lengthAdjust="spacingAndGlyphs">0.06U/mL Thr</text>
<line x1="324.1" y1="223.2" x2="306.55" y2="226.37" stroke="#222" stroke-width="0.7"/>
<path d="M303.6 226.9 L306.33 225.13 L306.78 227.61Z" fill="#222"/>
<text x="390.3" y="213.9" font-size="6.6" text-anchor="end" textLength="29.8" lengthAdjust="spacingAndGlyphs" stroke="#2a2a2a" stroke-width="0.14">**<tspan font-style="italic">P</tspan> = .005</text>
<text x="268.2" y="286.2" font-size="12.7" text-anchor="start" font-weight="bold" fill="#000">K</text>
<line x1="320.4" y1="293.1" x2="330.8" y2="293.1" stroke="#1f3b6b" stroke-width="0.9"/>
<circle cx="325.6" cy="293.1" r="1.9" fill="#1f3b6b" stroke="none" stroke-width="0.6"/>
<text x="334.8" y="295.44" font-size="6.5" text-anchor="start" stroke="#2a2a2a" stroke-width="0.14">WT</text>
<line x1="349.2" y1="293.1" x2="359.5" y2="293.1" stroke="#b8163f" stroke-width="0.9"/>
<circle cx="354.35" cy="293.1" r="1.9" fill="#b8163f" stroke="none" stroke-width="0.6"/>
<text x="363.2" y="295.44" font-size="6.5" text-anchor="start" stroke="#2a2a2a" stroke-width="0.14">cKO</text>
<path d="M301.3 363 L301.45 357.65 L301.6 352.07 L301.75 346.91 L301.91 342.83 L302.06 339.59 L302.21 336.54 L302.36 333.72 L302.51 331.17 L302.66 328.92 L302.81 327.01 L302.96 325.47 L303.12 324.34 L303.27 323.46 L303.42 322.64 L303.57 321.88 L303.72 321.17 L303.87 320.51 L304.02 319.9 L304.17 319.34 L304.32 318.83 L304.48 318.36 L304.63 317.92 L304.78 317.52 L304.93 317.16 L305.08 316.82 L305.23 316.52 L305.38 316.24 L305.54 315.97 L305.69 315.72 L305.84 315.47 L305.99 315.23 L306.14 315 L306.29 314.78 L306.44 314.56 L306.59 314.36 L306.75 314.16 L306.9 313.97 L307.05 313.79 L307.2 313.62 L307.35 313.45 L307.95 312.87 L308.56 312.42 L309.17 312.08 L309.77 311.82 L310.38 311.62 L310.98 311.54 L311.59 311.55 L312.19 311.58 L312.8 311.63 L313.4 311.69 L314 311.77 L314.61 311.87 L315.22 311.98 L315.82 312.11 L316.43 312.26 L317.03 312.41 L317.63 312.58 L318.24 312.76 L318.85 312.95 L319.45 313.15 L320.06 313.37 L320.66 313.59 L321.26 313.81 L321.87 314.05 L322.48 314.29 L323.08 314.54 L323.69 314.79 L324.29 315.05 L324.89 315.32 L325.5 315.58 L326.11 315.85 L326.71 316.12 L327.31 316.39 L327.92 316.66 L328.53 316.92 L329.13 317.19 L329.74 317.46 L330.34 317.72 L330.94 317.98 L331.55 318.24 L333.06 318.85 L334.57 319.42 L336.09 319.95 L337.6 320.5 L339.11 321.06 L340.62 321.64 L342.14 322.23 L343.65 322.82 L345.16 323.43 L346.68 324.03 L348.19 324.64 L349.7 325.24 L351.21 325.84 L352.73 326.42 L354.24 327 L355.75 327.56 L357.26 328.1 L358.78 328.62 L360.29 329.12 L361.8 329.58 L363.31 330.02 L364.82 330.43 L366.34 330.83 L367.85 331.21 L369.36 331.58 L370.88 331.94 L372.39 332.28 L373.9 332.62 L375.41 332.94 L376.93 333.27 L378.44 333.58 L379.95 333.89 L381.46 334.2 L382.98 334.51 L384.49 334.82 L386 335.13 L387.51 335.45 L389.02 335.77 L390.54 336.09 L392.05 336.42 L392.05 341.74 L390.54 341.39 L389.02 341.05 L387.51 340.72 L386 340.39 L384.49 340.06 L382.98 339.73 L381.46 339.41 L379.95 339.08 L378.44 338.75 L376.93 338.42 L375.41 338.09 L373.9 337.74 L372.39 337.4 L370.88 337.04 L369.36 336.67 L367.85 336.3 L366.34 335.91 L364.82 335.51 L363.31 335.1 L361.8 334.66 L360.29 334.2 L358.78 333.71 L357.26 333.2 L355.75 332.68 L354.24 332.14 L352.73 331.59 L351.21 331.03 L349.7 330.46 L348.19 329.88 L346.68 329.31 L345.16 328.74 L343.65 328.17 L342.14 327.61 L340.62 327.05 L339.11 326.51 L337.6 325.99 L336.09 325.48 L334.57 324.99 L333.06 324.48 L331.55 323.93 L330.94 323.71 L330.34 323.48 L329.74 323.26 L329.13 323.03 L328.53 322.8 L327.92 322.57 L327.31 322.34 L326.71 322.11 L326.11 321.88 L325.5 321.65 L324.89 321.43 L324.29 321.21 L323.69 320.99 L323.08 320.78 L322.48 320.57 L321.87 320.37 L321.26 320.17 L320.66 319.99 L320.06 319.8 L319.45 319.63 L318.85 319.46 L318.24 319.3 L317.63 319.16 L317.03 319.02 L316.43 318.89 L315.82 318.77 L315.22 318.67 L314.61 318.57 L314 318.49 L313.4 318.43 L312.8 318.37 L312.19 318.34 L311.59 318.31 L310.98 318.3 L310.38 318.37 L309.77 318.53 L309.17 318.73 L308.56 318.97 L307.95 319.31 L307.35 319.74 L307.2 319.86 L307.05 319.99 L306.9 320.12 L306.75 320.26 L306.59 320.41 L306.44 320.56 L306.29 320.72 L306.14 320.89 L305.99 321.06 L305.84 321.24 L305.69 321.43 L305.54 321.62 L305.38 321.82 L305.23 322.03 L305.08 322.27 L304.93 322.53 L304.78 322.82 L304.63 323.14 L304.48 323.5 L304.32 323.89 L304.17 324.33 L304.02 324.8 L303.87 325.32 L303.72 325.89 L303.57 326.51 L303.42 327.18 L303.27 327.91 L303.12 328.69 L302.96 329.68 L302.81 331 L302.66 332.63 L302.51 334.54 L302.36 336.71 L302.21 339.11 L302.06 341.72 L301.91 344.51 L301.75 348.15 L301.6 352.87 L301.45 358.04 L301.3 363Z" fill="#aab7d2" stroke="none"/>
<path d="M301.3 363 L301.45 357.65 L301.6 352.07 L301.75 346.91 L301.91 342.83 L302.06 339.59 L302.21 336.54 L302.36 333.72 L302.51 331.17 L302.66 328.92 L302.81 327.01 L302.96 325.47 L303.12 324.34 L303.27 323.46 L303.42 322.64 L303.57 321.88 L303.72 321.17 L303.87 320.51 L304.02 319.9 L304.17 319.34 L304.32 318.83 L304.48 318.36 L304.63 317.92 L304.78 317.52 L304.93 317.16 L305.08 316.82 L305.23 316.52 L305.38 316.24 L305.54 315.97 L305.69 315.72 L305.84 315.47 L305.99 315.23 L306.14 315 L306.29 314.78 L306.44 314.56 L306.59 314.36 L306.75 314.16 L306.9 313.97 L307.05 313.79 L307.2 313.62 L307.35 313.45 L307.95 312.87 L308.56 312.42 L309.17 312.08 L309.77 311.82 L310.38 311.62 L310.98 311.54 L311.59 311.55 L312.19 311.58 L312.8 311.63 L313.4 311.69 L314 311.77 L314.61 311.87 L315.22 311.98 L315.82 312.11 L316.43 312.26 L317.03 312.41 L317.63 312.58 L318.24 312.76 L318.85 312.95 L319.45 313.15 L320.06 313.37 L320.66 313.59 L321.26 313.81 L321.87 314.05 L322.48 314.29 L323.08 314.54 L323.69 314.79 L324.29 315.05 L324.89 315.32 L325.5 315.58 L326.11 315.85 L326.71 316.12 L327.31 316.39 L327.92 316.66 L328.53 316.92 L329.13 317.19 L329.74 317.46 L330.34 317.72 L330.94 317.98 L331.55 318.24 L333.06 318.85 L334.57 319.42 L336.09 319.95 L337.6 320.5 L339.11 321.06 L340.62 321.64 L342.14 322.23 L343.65 322.82 L345.16 323.43 L346.68 324.03 L348.19 324.64 L349.7 325.24 L351.21 325.84 L352.73 326.42 L354.24 327 L355.75 327.56 L357.26 328.1 L358.78 328.62 L360.29 329.12 L361.8 329.58 L363.31 330.02 L364.82 330.43 L366.34 330.83 L367.85 331.21 L369.36 331.58 L370.88 331.94 L372.39 332.28 L373.9 332.62 L375.41 332.94 L376.93 333.27 L378.44 333.58 L379.95 333.89 L381.46 334.2 L382.98 334.51 L384.49 334.82 L386 335.13 L387.51 335.45 L389.02 335.77 L390.54 336.09 L392.05 336.42" stroke="#4f6590" stroke-width="0.6" fill="none"/>
<path d="M301.3 363 L301.45 358.04 L301.6 352.87 L301.75 348.15 L301.91 344.51 L302.06 341.72 L302.21 339.11 L302.36 336.71 L302.51 334.54 L302.66 332.63 L302.81 331 L302.96 329.68 L303.12 328.69 L303.27 327.91 L303.42 327.18 L303.57 326.51 L303.72 325.89 L303.87 325.32 L304.02 324.8 L304.17 324.33 L304.32 323.89 L304.48 323.5 L304.63 323.14 L304.78 322.82 L304.93 322.53 L305.08 322.27 L305.23 322.03 L305.38 321.82 L305.54 321.62 L305.69 321.43 L305.84 321.24 L305.99 321.06 L306.14 320.89 L306.29 320.72 L306.44 320.56 L306.59 320.41 L306.75 320.26 L306.9 320.12 L307.05 319.99 L307.2 319.86 L307.35 319.74 L307.95 319.31 L308.56 318.97 L309.17 318.73 L309.77 318.53 L310.38 318.37 L310.98 318.3 L311.59 318.31 L312.19 318.34 L312.8 318.37 L313.4 318.43 L314 318.49 L314.61 318.57 L315.22 318.67 L315.82 318.77 L316.43 318.89 L317.03 319.02 L317.63 319.16 L318.24 319.3 L318.85 319.46 L319.45 319.63 L320.06 319.8 L320.66 319.99 L321.26 320.17 L321.87 320.37 L322.48 320.57 L323.08 320.78 L323.69 320.99 L324.29 321.21 L324.89 321.43 L325.5 321.65 L326.11 321.88 L326.71 322.11 L327.31 322.34 L327.92 322.57 L328.53 322.8 L329.13 323.03 L329.74 323.26 L330.34 323.48 L330.94 323.71 L331.55 323.93 L333.06 324.48 L334.57 324.99 L336.09 325.48 L337.6 325.99 L339.11 326.51 L340.62 327.05 L342.14 327.61 L343.65 328.17 L345.16 328.74 L346.68 329.31 L348.19 329.88 L349.7 330.46 L351.21 331.03 L352.73 331.59 L354.24 332.14 L355.75 332.68 L357.26 333.2 L358.78 333.71 L360.29 334.2 L361.8 334.66 L363.31 335.1 L364.82 335.51 L366.34 335.91 L367.85 336.3 L369.36 336.67 L370.88 337.04 L372.39 337.4 L373.9 337.74 L375.41 338.09 L376.93 338.42 L378.44 338.75 L379.95 339.08 L381.46 339.41 L382.98 339.73 L384.49 340.06 L386 340.39 L387.51 340.72 L389.02 341.05 L390.54 341.39 L392.05 341.74" stroke="#4f6590" stroke-width="0.6" fill="none"/>
<path d="M301.3 363 L301.45 361.1 L301.6 359.1 L301.75 357.29 L301.91 355.97 L302.06 355.05 L302.21 354.25 L302.36 353.54 L302.51 352.91 L302.66 352.36 L302.81 351.86 L302.96 351.4 L303.12 350.97 L303.27 350.55 L303.42 350.15 L303.57 349.75 L303.72 349.37 L303.87 349.01 L304.02 348.65 L304.17 348.32 L304.32 347.99 L304.48 347.69 L304.63 347.4 L304.78 347.13 L304.93 346.88 L305.08 346.65 L305.23 346.44 L305.38 346.24 L305.54 346.06 L305.69 345.89 L305.84 345.72 L305.99 345.56 L306.14 345.4 L306.29 345.24 L306.44 345.1 L306.59 344.95 L306.75 344.81 L306.9 344.68 L307.05 344.55 L307.2 344.43 L307.35 344.31 L307.95 343.88 L308.56 343.52 L309.17 343.24 L309.77 343 L310.38 342.77 L310.98 342.58 L311.59 342.42 L312.19 342.31 L312.8 342.27 L313.4 342.27 L314 342.28 L314.61 342.3 L315.22 342.31 L315.82 342.34 L316.43 342.37 L317.03 342.4 L317.63 342.44 L318.24 342.48 L318.85 342.52 L319.45 342.57 L320.06 342.62 L320.66 342.68 L321.26 342.74 L321.87 342.8 L322.48 342.86 L323.08 342.92 L323.69 342.99 L324.29 343.06 L324.89 343.13 L325.5 343.2 L326.11 343.27 L326.71 343.34 L327.31 343.41 L327.92 343.49 L328.53 343.56 L329.13 343.63 L329.74 343.71 L330.34 343.78 L330.94 343.85 L331.55 343.92 L333.06 344.09 L334.57 344.25 L336.09 344.39 L337.6 344.54 L339.11 344.69 L340.62 344.83 L342.14 344.98 L343.65 345.13 L345.16 345.28 L346.68 345.43 L348.19 345.58 L349.7 345.73 L351.21 345.88 L352.73 346.04 L354.24 346.19 L355.75 346.35 L357.26 346.5 L358.78 346.66 L360.29 346.81 L361.8 346.97 L363.31 347.13 L364.82 347.29 L366.34 347.45 L367.85 347.61 L369.36 347.78 L370.88 347.94 L372.39 348.11 L373.9 348.27 L375.41 348.44 L376.93 348.61 L378.44 348.78 L379.95 348.95 L381.46 349.12 L382.98 349.28 L384.49 349.45 L386 349.62 L387.51 349.79 L389.02 349.96 L390.54 350.13 L392.05 350.29 L392.05 352.03 L390.54 351.87 L389.02 351.7 L387.51 351.54 L386 351.37 L384.49 351.2 L382.98 351.04 L381.46 350.87 L379.95 350.7 L378.44 350.54 L376.93 350.37 L375.41 350.2 L373.9 350.04 L372.39 349.87 L370.88 349.71 L369.36 349.55 L367.85 349.39 L366.34 349.23 L364.82 349.07 L363.31 348.91 L361.8 348.76 L360.29 348.6 L358.78 348.45 L357.26 348.29 L355.75 348.14 L354.24 347.99 L352.73 347.83 L351.21 347.68 L349.7 347.53 L348.19 347.38 L346.68 347.23 L345.16 347.09 L343.65 346.94 L342.14 346.79 L340.62 346.65 L339.11 346.5 L337.6 346.36 L336.09 346.21 L334.57 346.07 L333.06 345.91 L331.55 345.75 L330.94 345.68 L330.34 345.61 L329.74 345.53 L329.13 345.46 L328.53 345.39 L327.92 345.32 L327.31 345.24 L326.71 345.17 L326.11 345.1 L325.5 345.03 L324.89 344.96 L324.29 344.89 L323.69 344.82 L323.08 344.75 L322.48 344.69 L321.87 344.63 L321.26 344.57 L320.66 344.51 L320.06 344.46 L319.45 344.41 L318.85 344.36 L318.24 344.31 L317.63 344.27 L317.03 344.24 L316.43 344.2 L315.82 344.17 L315.22 344.15 L314.61 344.13 L314 344.12 L313.4 344.11 L312.8 344.11 L312.19 344.15 L311.59 344.25 L310.98 344.41 L310.38 344.61 L309.77 344.83 L309.17 345.07 L308.56 345.33 L307.95 345.67 L307.35 346.07 L307.2 346.18 L307.05 346.3 L306.9 346.42 L306.75 346.54 L306.59 346.67 L306.44 346.8 L306.29 346.94 L306.14 347.08 L305.99 347.23 L305.84 347.38 L305.69 347.54 L305.54 347.7 L305.38 347.87 L305.23 348.04 L305.08 348.24 L304.93 348.46 L304.78 348.69 L304.63 348.95 L304.48 349.22 L304.32 349.51 L304.17 349.81 L304.02 350.13 L303.87 350.46 L303.72 350.81 L303.57 351.17 L303.42 351.54 L303.27 351.93 L303.12 352.32 L302.96 352.72 L302.81 353.11 L302.66 353.53 L302.51 353.98 L302.36 354.48 L302.21 355.06 L302.06 355.73 L301.91 356.5 L301.75 357.68 L301.6 359.35 L301.45 361.22 L301.3 363Z" fill="#c8304f" stroke="none"/>
<path d="M301.3 363 L301.45 361.1 L301.6 359.1 L301.75 357.29 L301.91 355.97 L302.06 355.05 L302.21 354.25 L302.36 353.54 L302.51 352.91 L302.66 352.36 L302.81 351.86 L302.96 351.4 L303.12 350.97 L303.27 350.55 L303.42 350.15 L303.57 349.75 L303.72 349.37 L303.87 349.01 L304.02 348.65 L304.17 348.32 L304.32 347.99 L304.48 347.69 L304.63 347.4 L304.78 347.13 L304.93 346.88 L305.08 346.65 L305.23 346.44 L305.38 346.24 L305.54 346.06 L305.69 345.89 L305.84 345.72 L305.99 345.56 L306.14 345.4 L306.29 345.24 L306.44 345.1 L306.59 344.95 L306.75 344.81 L306.9 344.68 L307.05 344.55 L307.2 344.43 L307.35 344.31 L307.95 343.88 L308.56 343.52 L309.17 343.24 L309.77 343 L310.38 342.77 L310.98 342.58 L311.59 342.42 L312.19 342.31 L312.8 342.27 L313.4 342.27 L314 342.28 L314.61 342.3 L315.22 342.31 L315.82 342.34 L316.43 342.37 L317.03 342.4 L317.63 342.44 L318.24 342.48 L318.85 342.52 L319.45 342.57 L320.06 342.62 L320.66 342.68 L321.26 342.74 L321.87 342.8 L322.48 342.86 L323.08 342.92 L323.69 342.99 L324.29 343.06 L324.89 343.13 L325.5 343.2 L326.11 343.27 L326.71 343.34 L327.31 343.41 L327.92 343.49 L328.53 343.56 L329.13 343.63 L329.74 343.71 L330.34 343.78 L330.94 343.85 L331.55 343.92 L333.06 344.09 L334.57 344.25 L336.09 344.39 L337.6 344.54 L339.11 344.69 L340.62 344.83 L342.14 344.98 L343.65 345.13 L345.16 345.28 L346.68 345.43 L348.19 345.58 L349.7 345.73 L351.21 345.88 L352.73 346.04 L354.24 346.19 L355.75 346.35 L357.26 346.5 L358.78 346.66 L360.29 346.81 L361.8 346.97 L363.31 347.13 L364.82 347.29 L366.34 347.45 L367.85 347.61 L369.36 347.78 L370.88 347.94 L372.39 348.11 L373.9 348.27 L375.41 348.44 L376.93 348.61 L378.44 348.78 L379.95 348.95 L381.46 349.12 L382.98 349.28 L384.49 349.45 L386 349.62 L387.51 349.79 L389.02 349.96 L390.54 350.13 L392.05 350.29" stroke="#b0143c" stroke-width="0.6" fill="none"/>
<path d="M301.3 363 L301.45 361.22 L301.6 359.35 L301.75 357.68 L301.91 356.5 L302.06 355.73 L302.21 355.06 L302.36 354.48 L302.51 353.98 L302.66 353.53 L302.81 353.11 L302.96 352.72 L303.12 352.32 L303.27 351.93 L303.42 351.54 L303.57 351.17 L303.72 350.81 L303.87 350.46 L304.02 350.13 L304.17 349.81 L304.32 349.51 L304.48 349.22 L304.63 348.95 L304.78 348.69 L304.93 348.46 L305.08 348.24 L305.23 348.04 L305.38 347.87 L305.54 347.7 L305.69 347.54 L305.84 347.38 L305.99 347.23 L306.14 347.08 L306.29 346.94 L306.44 346.8 L306.59 346.67 L306.75 346.54 L306.9 346.42 L307.05 346.3 L307.2 346.18 L307.35 346.07 L307.95 345.67 L308.56 345.33 L309.17 345.07 L309.77 344.83 L310.38 344.61 L310.98 344.41 L311.59 344.25 L312.19 344.15 L312.8 344.11 L313.4 344.11 L314 344.12 L314.61 344.13 L315.22 344.15 L315.82 344.17 L316.43 344.2 L317.03 344.24 L317.63 344.27 L318.24 344.31 L318.85 344.36 L319.45 344.41 L320.06 344.46 L320.66 344.51 L321.26 344.57 L321.87 344.63 L322.48 344.69 L323.08 344.75 L323.69 344.82 L324.29 344.89 L324.89 344.96 L325.5 345.03 L326.11 345.1 L326.71 345.17 L327.31 345.24 L327.92 345.32 L328.53 345.39 L329.13 345.46 L329.74 345.53 L330.34 345.61 L330.94 345.68 L331.55 345.75 L333.06 345.91 L334.57 346.07 L336.09 346.21 L337.6 346.36 L339.11 346.5 L340.62 346.65 L342.14 346.79 L343.65 346.94 L345.16 347.09 L346.68 347.23 L348.19 347.38 L349.7 347.53 L351.21 347.68 L352.73 347.83 L354.24 347.99 L355.75 348.14 L357.26 348.29 L358.78 348.45 L360.29 348.6 L361.8 348.76 L363.31 348.91 L364.82 349.07 L366.34 349.23 L367.85 349.39 L369.36 349.55 L370.88 349.71 L372.39 349.87 L373.9 350.04 L375.41 350.2 L376.93 350.37 L378.44 350.54 L379.95 350.7 L381.46 350.87 L382.98 351.04 L384.49 351.2 L386 351.37 L387.51 351.54 L389.02 351.7 L390.54 351.87 L392.05 352.03" stroke="#b0143c" stroke-width="0.6" fill="none"/>
<path d="M301.3 363 L301.45 357.84 L301.6 352.47 L301.75 347.53 L301.91 343.67 L302.06 340.65 L302.21 337.82 L302.36 335.22 L302.51 332.86 L302.66 330.78 L302.81 329.01 L302.96 327.58 L303.12 326.52 L303.27 325.68 L303.42 324.91 L303.57 324.19 L303.72 323.53 L303.87 322.92 L304.02 322.35 L304.17 321.84 L304.32 321.36 L304.48 320.93 L304.63 320.53 L304.78 320.17 L304.93 319.84 L305.08 319.55 L305.23 319.28 L305.38 319.03 L305.54 318.8 L305.69 318.57 L305.84 318.36 L305.99 318.15 L306.14 317.95 L306.29 317.75 L306.44 317.56 L306.59 317.38 L306.75 317.21 L306.9 317.05 L307.05 316.89 L307.2 316.74 L307.35 316.59 L307.95 316.09 L308.56 315.69 L309.17 315.4 L309.77 315.17 L310.38 314.99 L310.98 314.92 L311.59 314.93 L312.19 314.96 L312.8 315 L313.4 315.06 L314 315.13 L314.61 315.22 L315.22 315.33 L315.82 315.44 L316.43 315.57 L317.03 315.71 L317.63 315.87 L318.24 316.03 L318.85 316.21 L319.45 316.39 L320.06 316.58 L320.66 316.79 L321.26 316.99 L321.87 317.21 L322.48 317.43 L323.08 317.66 L323.69 317.89 L324.29 318.13 L324.89 318.37 L325.5 318.62 L326.11 318.86 L326.71 319.11 L327.31 319.36 L327.92 319.61 L328.53 319.86 L329.13 320.11 L329.74 320.36 L330.34 320.6 L330.94 320.84 L331.55 321.08 L333.06 321.66 L334.57 322.21 L336.09 322.72 L337.6 323.24 L339.11 323.79 L340.62 324.34 L342.14 324.92 L343.65 325.5 L345.16 326.08 L346.68 326.67 L348.19 327.26 L349.7 327.85 L351.21 328.43 L352.73 329.01 L354.24 329.57 L355.75 330.12 L357.26 330.65 L358.78 331.17 L360.29 331.66 L361.8 332.12 L363.31 332.56 L364.82 332.97 L366.34 333.37 L367.85 333.76 L369.36 334.13 L370.88 334.49 L372.39 334.84 L373.9 335.18 L375.41 335.52 L376.93 335.84 L378.44 336.17 L379.95 336.49 L381.46 336.81 L382.98 337.12 L384.49 337.44 L386 337.76 L387.51 338.08 L389.02 338.41 L390.54 338.74 L392.05 339.08" stroke="#1f3b6b" stroke-width="0.9" fill="none" stroke-opacity="0.85"/>
<path d="M301.3 363 L301.45 361.16 L301.6 359.23 L301.75 357.49 L301.91 356.24 L302.06 355.39 L302.21 354.65 L302.36 354.01 L302.51 353.45 L302.66 352.94 L302.81 352.49 L302.96 352.06 L303.12 351.64 L303.27 351.24 L303.42 350.84 L303.57 350.46 L303.72 350.09 L303.87 349.73 L304.02 349.39 L304.17 349.06 L304.32 348.75 L304.48 348.45 L304.63 348.18 L304.78 347.91 L304.93 347.67 L305.08 347.44 L305.23 347.24 L305.38 347.05 L305.54 346.88 L305.69 346.71 L305.84 346.55 L305.99 346.39 L306.14 346.24 L306.29 346.09 L306.44 345.95 L306.59 345.81 L306.75 345.68 L306.9 345.55 L307.05 345.42 L307.2 345.3 L307.35 345.19 L307.95 344.77 L308.56 344.43 L309.17 344.16 L309.77 343.92 L310.38 343.69 L310.98 343.49 L311.59 343.33 L312.19 343.23 L312.8 343.19 L313.4 343.19 L314 343.2 L314.61 343.21 L315.22 343.23 L315.82 343.26 L316.43 343.28 L317.03 343.32 L317.63 343.35 L318.24 343.4 L318.85 343.44 L319.45 343.49 L320.06 343.54 L320.66 343.59 L321.26 343.65 L321.87 343.71 L322.48 343.77 L323.08 343.84 L323.69 343.9 L324.29 343.97 L324.89 344.04 L325.5 344.11 L326.11 344.18 L326.71 344.26 L327.31 344.33 L327.92 344.4 L328.53 344.48 L329.13 344.55 L329.74 344.62 L330.34 344.69 L330.94 344.76 L331.55 344.83 L333.06 345 L334.57 345.16 L336.09 345.3 L337.6 345.45 L339.11 345.59 L340.62 345.74 L342.14 345.89 L343.65 346.03 L345.16 346.18 L346.68 346.33 L348.19 346.48 L349.7 346.63 L351.21 346.78 L352.73 346.94 L354.24 347.09 L355.75 347.24 L357.26 347.4 L358.78 347.55 L360.29 347.71 L361.8 347.86 L363.31 348.02 L364.82 348.18 L366.34 348.34 L367.85 348.5 L369.36 348.66 L370.88 348.83 L372.39 348.99 L373.9 349.16 L375.41 349.32 L376.93 349.49 L378.44 349.66 L379.95 349.82 L381.46 349.99 L382.98 350.16 L384.49 350.33 L386 350.5 L387.51 350.66 L389.02 350.83 L390.54 351 L392.05 351.16" stroke="#b8163f" stroke-width="1.1" fill="none"/>
<line x1="301.3" y1="363.5" x2="301.3" y2="300" stroke="#1e1e1e" stroke-width="1.3"/>
<line x1="298.3" y1="363" x2="301.3" y2="363" stroke="#1e1e1e" stroke-width="0.9"/>
<text x="295" y="365.41" font-size="6.7" text-anchor="end" stroke="#2a2a2a" stroke-width="0.14" textLength="3.4" lengthAdjust="spacingAndGlyphs">0</text>
<line x1="298.3" y1="350.92" x2="301.3" y2="350.92" stroke="#1e1e1e" stroke-width="0.9"/>
<text x="295" y="353.33" font-size="6.7" text-anchor="end" stroke="#2a2a2a" stroke-width="0.14" textLength="6.8" lengthAdjust="spacingAndGlyphs">50</text>
<line x1="298.3" y1="338.84" x2="301.3" y2="338.84" stroke="#1e1e1e" stroke-width="0.9"/>
<text x="295" y="341.25" font-size="6.7" text-anchor="end" stroke="#2a2a2a" stroke-width="0.14" textLength="10.2" lengthAdjust="spacingAndGlyphs">100</text>
<line x1="298.3" y1="326.76" x2="301.3" y2="326.76" stroke="#1e1e1e" stroke-width="0.9"/>
<text x="295" y="329.17" font-size="6.7" text-anchor="end" stroke="#2a2a2a" stroke-width="0.14" textLength="10.2" lengthAdjust="spacingAndGlyphs">150</text>
<line x1="298.3" y1="314.68" x2="301.3" y2="314.68" stroke="#1e1e1e" stroke-width="0.9"/>
<text x="295" y="317.09" font-size="6.7" text-anchor="end" stroke="#2a2a2a" stroke-width="0.14" textLength="10.2" lengthAdjust="spacingAndGlyphs">200</text>
<line x1="298.3" y1="302.6" x2="301.3" y2="302.6" stroke="#1e1e1e" stroke-width="0.9"/>
<text x="295" y="305.01" font-size="6.7" text-anchor="end" stroke="#2a2a2a" stroke-width="0.14" textLength="10.2" lengthAdjust="spacingAndGlyphs">250</text>
<line x1="300.8" y1="363" x2="392.65" y2="363" stroke="#1e1e1e" stroke-width="1.3"/>
<line x1="301.3" y1="363" x2="301.3" y2="365.6" stroke="#1e1e1e" stroke-width="0.9"/>
<text x="301.3" y="375.41" font-size="6.7" text-anchor="middle" stroke="#2a2a2a" stroke-width="0.14" textLength="3.4" lengthAdjust="spacingAndGlyphs">0</text>
<line x1="331.55" y1="363" x2="331.55" y2="365.6" stroke="#1e1e1e" stroke-width="0.9"/>
<text x="331.55" y="375.41" font-size="6.7" text-anchor="middle" stroke="#2a2a2a" stroke-width="0.14" textLength="10.2" lengthAdjust="spacingAndGlyphs">100</text>
<line x1="361.8" y1="363" x2="361.8" y2="365.6" stroke="#1e1e1e" stroke-width="0.9"/>
<text x="361.8" y="375.41" font-size="6.7" text-anchor="middle" stroke="#2a2a2a" stroke-width="0.14" textLength="10.2" lengthAdjust="spacingAndGlyphs">200</text>
<line x1="392.05" y1="363" x2="392.05" y2="365.6" stroke="#1e1e1e" stroke-width="0.9"/>
<text x="392.05" y="375.41" font-size="6.7" text-anchor="middle" stroke="#2a2a2a" stroke-width="0.14" textLength="10.2" lengthAdjust="spacingAndGlyphs">300</text>
<text x="347.1" y="388.2" font-size="8.5" text-anchor="middle" stroke="#2a2a2a" stroke-width="0.14" textLength="23.8" lengthAdjust="spacingAndGlyphs">Time (s)</text>
<text x="279" y="331.9" font-size="8.5" text-anchor="middle" stroke="#2a2a2a" stroke-width="0.14" textLength="59.4" lengthAdjust="spacingAndGlyphs" transform="rotate(-90 279 331.9)">ATP secretion (A.U.)</text>
<text x="309.6" y="354.24" font-size="6.5" text-anchor="start" stroke="#2a2a2a" stroke-width="0.14" textLength="41" lengthAdjust="spacingAndGlyphs">0.08U/mL Thr</text>
<line x1="318.5" y1="356" x2="306.02" y2="360.57" stroke="#222" stroke-width="0.7"/>
<path d="M303.2 361.6 L305.58 359.39 L306.45 361.75Z" fill="#222"/>
<text x="391.3" y="358.3" font-size="6.6" text-anchor="end" textLength="31.7" lengthAdjust="spacingAndGlyphs" stroke="#2a2a2a" stroke-width="0.14">***<tspan font-style="italic">P</tspan> &lt; .001</text>
<text x="151.9" y="16.6" font-size="12.7" text-anchor="start" font-weight="bold" fill="#000">B</text>
<rect x="198.1" y="91.75" width="8.4" height="1.6" fill="#7a9bc5"/>
<line x1="202.3" y1="90.55" x2="202.3" y2="92.95" stroke="#2f5d99" stroke-width="0.7"/>
<line x1="200.8" y1="90.55" x2="203.8" y2="90.55" stroke="#2f5d99" stroke-width="0.7"/>
<circle cx="200.8" cy="92.15" r="1.65" fill="none" stroke="#2f5d99" stroke-width="0.7"/>
<circle cx="202.3" cy="89.75" r="1.65" fill="none" stroke="#2f5d99" stroke-width="0.7"/>
<circle cx="204.1" cy="92.55" r="1.65" fill="none" stroke="#2f5d99" stroke-width="0.7"/>
<circle cx="199.5" cy="92.95" r="1.65" fill="none" stroke="#2f5d99" stroke-width="0.7"/>
<circle cx="205.1" cy="92.75" r="1.65" fill="none" stroke="#2f5d99" stroke-width="0.7"/>
<rect x="211.7" y="45.31" width="8.4" height="48.04" fill="#7a9bc5"/>
<line x1="215.9" y1="42.11" x2="215.9" y2="48.51" stroke="#2f5d99" stroke-width="0.7"/>
<line x1="214.4" y1="42.11" x2="217.4" y2="42.11" stroke="#2f5d99" stroke-width="0.7"/>
<circle cx="215.9" cy="39.3" r="1.65" fill="none" stroke="#2f5d99" stroke-width="0.7"/>
<circle cx="213.4" cy="44.11" r="1.65" fill="none" stroke="#2f5d99" stroke-width="0.7"/>
<circle cx="216.9" cy="44.51" r="1.65" fill="none" stroke="#2f5d99" stroke-width="0.7"/>
<circle cx="218.9" cy="45.31" r="1.65" fill="none" stroke="#2f5d99" stroke-width="0.7"/>
<circle cx="214.9" cy="46.11" r="1.65" fill="none" stroke="#2f5d99" stroke-width="0.7"/>
<circle cx="215.9" cy="51.31" r="1.65" fill="none" stroke="#2f5d99" stroke-width="0.7"/>
<rect x="225.3" y="92.15" width="8.4" height="1.2" fill="#e67a8e"/>
<circle cx="226.5" cy="92.75" r="1.65" fill="none" stroke="#c62a4c" stroke-width="0.7"/>
<circle cx="228.5" cy="92.75" r="1.65" fill="none" stroke="#c62a4c" stroke-width="0.7"/>
<circle cx="230.5" cy="92.75" r="1.65" fill="none" stroke="#c62a4c" stroke-width="0.7"/>
<circle cx="232.5" cy="92.75" r="1.65" fill="none" stroke="#c62a4c" stroke-width="0.7"/>
<rect x="238.9" y="59.32" width="8.4" height="34.03" fill="#e67a8e"/>
<line x1="243.1" y1="58.52" x2="243.1" y2="60.12" stroke="#c62a4c" stroke-width="0.7"/>
<line x1="241.6" y1="58.52" x2="244.6" y2="58.52" stroke="#c62a4c" stroke-width="0.7"/>
<circle cx="240.1" cy="58.92" r="1.65" fill="none" stroke="#c62a4c" stroke-width="0.7"/>
<circle cx="242.1" cy="58.52" r="1.65" fill="none" stroke="#c62a4c" stroke-width="0.7"/>
<circle cx="244.1" cy="59.32" r="1.65" fill="none" stroke="#c62a4c" stroke-width="0.7"/>
<circle cx="246.1" cy="58.92" r="1.65" fill="none" stroke="#c62a4c" stroke-width="0.7"/>
<path d="M202.3 79.2 L202.3 33.9 L243.4 33.9 L243.4 55.3" stroke="#5e5e5e" stroke-width="0.8" fill="none"/>
<path d="M214.7 33.9 L217.1 33.9 L215.9 35.5Z" fill="#555"/>
<path d="M229.2 87.3 L229.2 55.3 L243.4 55.3 L243.4 57" stroke="#5e5e5e" stroke-width="0.8" fill="none"/>
<text x="209.2" y="34.64" font-size="7.6" text-anchor="middle" fill="#333" stroke="#333" stroke-width="0.14" textLength="9.3" lengthAdjust="spacingAndGlyphs">***</text>
<text x="230" y="34.64" font-size="7.6" text-anchor="middle" fill="#333" stroke="#333" stroke-width="0.14" textLength="6" lengthAdjust="spacingAndGlyphs">**</text>
<text x="235.9" y="56.04" font-size="7.6" text-anchor="middle" fill="#333" stroke="#333" stroke-width="0.14" textLength="9.3" lengthAdjust="spacingAndGlyphs">***</text>
<line x1="193.3" y1="93.85" x2="193.3" y2="30.7" stroke="#1e1e1e" stroke-width="1.3"/>
<line x1="190.3" y1="93.35" x2="193.3" y2="93.35" stroke="#1e1e1e" stroke-width="0.9"/>
<text x="187" y="95.76" font-size="6.7" text-anchor="end" stroke="#2a2a2a" stroke-width="0.14" textLength="3.4" lengthAdjust="spacingAndGlyphs">0</text>
<line x1="190.3" y1="73.33" x2="193.3" y2="73.33" stroke="#1e1e1e" stroke-width="0.9"/>
<text x="187" y="75.75" font-size="6.7" text-anchor="end" stroke="#2a2a2a" stroke-width="0.14" textLength="13.6" lengthAdjust="spacingAndGlyphs">5000</text>
<line x1="190.3" y1="53.32" x2="193.3" y2="53.32" stroke="#1e1e1e" stroke-width="0.9"/>
<text x="187" y="55.73" font-size="6.7" text-anchor="end" stroke="#2a2a2a" stroke-width="0.14" textLength="17" lengthAdjust="spacingAndGlyphs">10000</text>
<line x1="190.3" y1="33.3" x2="193.3" y2="33.3" stroke="#1e1e1e" stroke-width="0.9"/>
<text x="187" y="35.71" font-size="6.7" text-anchor="end" stroke="#2a2a2a" stroke-width="0.14" textLength="17" lengthAdjust="spacingAndGlyphs">15000</text>
<line x1="192.8" y1="93.35" x2="251.6" y2="93.35" stroke="#1e1e1e" stroke-width="1.3"/>
<line x1="202.3" y1="93.35" x2="202.3" y2="95.95" stroke="#1e1e1e" stroke-width="0.9"/>
<line x1="215.9" y1="93.35" x2="215.9" y2="95.95" stroke="#1e1e1e" stroke-width="0.9"/>
<line x1="229.5" y1="93.35" x2="229.5" y2="95.95" stroke="#1e1e1e" stroke-width="0.9"/>
<line x1="243.1" y1="93.35" x2="243.1" y2="95.95" stroke="#1e1e1e" stroke-width="0.9"/>
<text x="162.9" y="63" font-size="8.5" text-anchor="middle" stroke="#2a2a2a" stroke-width="0.14" textLength="50.3" lengthAdjust="spacingAndGlyphs" transform="rotate(-90 162.9 63)">P-selectin (MFI)</text>
<text x="201.9" y="103.05" font-size="6.7" text-anchor="end" stroke="#2a2a2a" stroke-width="0.14" transform="rotate(-45 201.9 103.05)">WT ctrl</text>
<text x="215.5" y="103.05" font-size="6.7" text-anchor="end" stroke="#2a2a2a" stroke-width="0.14" transform="rotate(-45 215.5 103.05)">WT + Thr</text>
<text x="229.1" y="103.05" font-size="6.7" text-anchor="end" stroke="#2a2a2a" stroke-width="0.14" transform="rotate(-45 229.1 103.05)">cKO ctrl</text>
<text x="242.7" y="103.05" font-size="6.7" text-anchor="end" stroke="#2a2a2a" stroke-width="0.14" transform="rotate(-45 242.7 103.05)">cKO + Thr</text>
<text x="413.2" y="16.6" font-size="12.7" text-anchor="start" font-weight="bold" fill="#000">D</text>
<rect x="459" y="87.07" width="8.4" height="6.43" fill="#7a9bc5"/>
<line x1="463.2" y1="85.06" x2="463.2" y2="89.08" stroke="#2f5d99" stroke-width="0.7"/>
<line x1="461.7" y1="85.06" x2="464.7" y2="85.06" stroke="#2f5d99" stroke-width="0.7"/>
<circle cx="460.2" cy="84.66" r="1.65" fill="none" stroke="#2f5d99" stroke-width="0.7"/>
<circle cx="462.2" cy="85.06" r="1.65" fill="none" stroke="#2f5d99" stroke-width="0.7"/>
<circle cx="464.7" cy="84.66" r="1.65" fill="none" stroke="#2f5d99" stroke-width="0.7"/>
<circle cx="466.2" cy="85.46" r="1.65" fill="none" stroke="#2f5d99" stroke-width="0.7"/>
<circle cx="463.2" cy="91.09" r="1.65" fill="none" stroke="#2f5d99" stroke-width="0.7"/>
<rect x="472.6" y="53.3" width="8.4" height="40.2" fill="#7a9bc5"/>
<line x1="476.8" y1="47.27" x2="476.8" y2="59.33" stroke="#2f5d99" stroke-width="0.7"/>
<line x1="475.3" y1="47.27" x2="478.3" y2="47.27" stroke="#2f5d99" stroke-width="0.7"/>
<circle cx="476.8" cy="41.24" r="1.65" fill="none" stroke="#2f5d99" stroke-width="0.7"/>
<circle cx="473.8" cy="51.29" r="1.65" fill="none" stroke="#2f5d99" stroke-width="0.7"/>
<circle cx="476.8" cy="50.08" r="1.65" fill="none" stroke="#2f5d99" stroke-width="0.7"/>
<circle cx="479.8" cy="53.3" r="1.65" fill="none" stroke="#2f5d99" stroke-width="0.7"/>
<circle cx="476.8" cy="56.11" r="1.65" fill="none" stroke="#2f5d99" stroke-width="0.7"/>
<circle cx="476.8" cy="62.14" r="1.65" fill="none" stroke="#2f5d99" stroke-width="0.7"/>
<rect x="486.2" y="89.48" width="8.4" height="4.02" fill="#e67a8e"/>
<line x1="490.4" y1="87.07" x2="490.4" y2="91.89" stroke="#c62a4c" stroke-width="0.7"/>
<line x1="488.9" y1="87.07" x2="491.9" y2="87.07" stroke="#c62a4c" stroke-width="0.7"/>
<circle cx="487.4" cy="86.26" r="1.65" fill="none" stroke="#c62a4c" stroke-width="0.7"/>
<circle cx="493.4" cy="85.06" r="1.65" fill="none" stroke="#c62a4c" stroke-width="0.7"/>
<circle cx="490.4" cy="89.48" r="1.65" fill="none" stroke="#c62a4c" stroke-width="0.7"/>
<circle cx="489.4" cy="92.29" r="1.65" fill="none" stroke="#c62a4c" stroke-width="0.7"/>
<circle cx="491.4" cy="91.89" r="1.65" fill="none" stroke="#c62a4c" stroke-width="0.7"/>
<rect x="499.9" y="73.4" width="8.4" height="20.1" fill="#e67a8e"/>
<line x1="504.1" y1="70.59" x2="504.1" y2="76.21" stroke="#c62a4c" stroke-width="0.7"/>
<line x1="502.6" y1="70.59" x2="505.6" y2="70.59" stroke="#c62a4c" stroke-width="0.7"/>
<circle cx="504.1" cy="68.17" r="1.65" fill="none" stroke="#c62a4c" stroke-width="0.7"/>
<circle cx="504.1" cy="72.19" r="1.65" fill="none" stroke="#c62a4c" stroke-width="0.7"/>
<circle cx="504.1" cy="74.61" r="1.65" fill="none" stroke="#c62a4c" stroke-width="0.7"/>
<circle cx="504.1" cy="75.81" r="1.65" fill="none" stroke="#c62a4c" stroke-width="0.7"/>
<path d="M463.2 80.6 L463.2 37.2 L504.2 37.2 L504.2 64.4" stroke="#5e5e5e" stroke-width="0.8" fill="none"/>
<path d="M475.6 37.2 L478 37.2 L476.8 38.8Z" fill="#555"/>
<path d="M490.2 84.6 L490.2 64.4 L504.2 64.4 L504.2 66" stroke="#5e5e5e" stroke-width="0.8" fill="none"/>
<text x="469.2" y="37.64" font-size="7.6" text-anchor="middle" fill="#333" stroke="#333" stroke-width="0.14" textLength="9.3" lengthAdjust="spacingAndGlyphs">***</text>
<text x="490.8" y="37.64" font-size="7.6" text-anchor="middle" fill="#333" stroke="#333" stroke-width="0.14" textLength="6" lengthAdjust="spacingAndGlyphs">**</text>
<text x="496.8" y="64.54" font-size="7.6" text-anchor="middle" fill="#333" stroke="#333" stroke-width="0.14" textLength="6" lengthAdjust="spacingAndGlyphs">**</text>
<line x1="454.1" y1="94" x2="454.1" y2="30.6" stroke="#1e1e1e" stroke-width="1.3"/>
<line x1="451.1" y1="93.5" x2="454.1" y2="93.5" stroke="#1e1e1e" stroke-width="0.9"/>
<text x="447.8" y="95.91" font-size="6.7" text-anchor="end" stroke="#2a2a2a" stroke-width="0.14" textLength="3.4" lengthAdjust="spacingAndGlyphs">0</text>
<line x1="451.1" y1="73.4" x2="454.1" y2="73.4" stroke="#1e1e1e" stroke-width="0.9"/>
<text x="447.8" y="75.81" font-size="6.7" text-anchor="end" stroke="#2a2a2a" stroke-width="0.14" textLength="13.6" lengthAdjust="spacingAndGlyphs">5000</text>
<line x1="451.1" y1="53.3" x2="454.1" y2="53.3" stroke="#1e1e1e" stroke-width="0.9"/>
<text x="447.8" y="55.71" font-size="6.7" text-anchor="end" stroke="#2a2a2a" stroke-width="0.14" textLength="17" lengthAdjust="spacingAndGlyphs">10000</text>
<line x1="451.1" y1="33.2" x2="454.1" y2="33.2" stroke="#1e1e1e" stroke-width="0.9"/>
<text x="447.8" y="35.61" font-size="6.7" text-anchor="end" stroke="#2a2a2a" stroke-width="0.14" textLength="17" lengthAdjust="spacingAndGlyphs">15000</text>
<line x1="453.6" y1="93.5" x2="512.4" y2="93.5" stroke="#1e1e1e" stroke-width="1.3"/>
<line x1="463.2" y1="93.5" x2="463.2" y2="96.1" stroke="#1e1e1e" stroke-width="0.9"/>
<line x1="476.8" y1="93.5" x2="476.8" y2="96.1" stroke="#1e1e1e" stroke-width="0.9"/>
<line x1="490.4" y1="93.5" x2="490.4" y2="96.1" stroke="#1e1e1e" stroke-width="0.9"/>
<line x1="504.1" y1="93.5" x2="504.1" y2="96.1" stroke="#1e1e1e" stroke-width="0.9"/>
<text x="423.9" y="62" font-size="8.5" text-anchor="middle" stroke="#2a2a2a" stroke-width="0.14" textLength="36" lengthAdjust="spacingAndGlyphs" transform="rotate(-90 423.9 62)">CD63 (MFI)</text>
<text x="462.8" y="103.2" font-size="6.7" text-anchor="end" stroke="#2a2a2a" stroke-width="0.14" transform="rotate(-45 462.8 103.2)">WT ctrl</text>
<text x="476.4" y="103.2" font-size="6.7" text-anchor="end" stroke="#2a2a2a" stroke-width="0.14" transform="rotate(-45 476.4 103.2)">WT + Thr</text>
<text x="490" y="103.2" font-size="6.7" text-anchor="end" stroke="#2a2a2a" stroke-width="0.14" transform="rotate(-45 490 103.2)">cKO ctrl</text>
<text x="503.7" y="103.2" font-size="6.7" text-anchor="end" stroke="#2a2a2a" stroke-width="0.14" transform="rotate(-45 503.7 103.2)">cKO + Thr</text>
<text x="152.4" y="151.4" font-size="12.7" text-anchor="start" font-weight="bold" fill="#000">F</text>
<rect x="198.1" y="227.2" width="8.4" height="1.2" fill="#7a9bc5"/>
<line x1="202.3" y1="226.7" x2="202.3" y2="228.16" stroke="#2f5d99" stroke-width="0.7"/>
<line x1="200.8" y1="226.7" x2="203.8" y2="226.7" stroke="#2f5d99" stroke-width="0.7"/>
<circle cx="199.8" cy="227.67" r="1.65" fill="none" stroke="#2f5d99" stroke-width="0.7"/>
<circle cx="202.3" cy="226.22" r="1.65" fill="none" stroke="#2f5d99" stroke-width="0.7"/>
<circle cx="204.8" cy="227.92" r="1.65" fill="none" stroke="#2f5d99" stroke-width="0.7"/>
<circle cx="202.3" cy="228.16" r="1.65" fill="none" stroke="#2f5d99" stroke-width="0.7"/>
<rect x="211.7" y="188.89" width="8.4" height="39.51" fill="#7a9bc5"/>
<line x1="215.9" y1="184.77" x2="215.9" y2="193.01" stroke="#2f5d99" stroke-width="0.7"/>
<line x1="214.4" y1="184.77" x2="217.4" y2="184.77" stroke="#2f5d99" stroke-width="0.7"/>
<circle cx="215.9" cy="177.5" r="1.65" fill="none" stroke="#2f5d99" stroke-width="0.7"/>
<circle cx="212.9" cy="187.19" r="1.65" fill="none" stroke="#2f5d99" stroke-width="0.7"/>
<circle cx="217.9" cy="188.4" r="1.65" fill="none" stroke="#2f5d99" stroke-width="0.7"/>
<circle cx="219.4" cy="189.62" r="1.65" fill="none" stroke="#2f5d99" stroke-width="0.7"/>
<circle cx="215.9" cy="193.98" r="1.65" fill="none" stroke="#2f5d99" stroke-width="0.7"/>
<rect x="225.3" y="227.2" width="8.4" height="1.2" fill="#e67a8e"/>
<circle cx="226.5" cy="227.92" r="1.65" fill="none" stroke="#c62a4c" stroke-width="0.7"/>
<circle cx="228.5" cy="227.92" r="1.65" fill="none" stroke="#c62a4c" stroke-width="0.7"/>
<circle cx="230.5" cy="227.92" r="1.65" fill="none" stroke="#c62a4c" stroke-width="0.7"/>
<circle cx="232.5" cy="227.92" r="1.65" fill="none" stroke="#c62a4c" stroke-width="0.7"/>
<rect x="238.9" y="194.46" width="8.4" height="33.94" fill="#e67a8e"/>
<line x1="243.1" y1="190.34" x2="243.1" y2="198.58" stroke="#c62a4c" stroke-width="0.7"/>
<line x1="241.6" y1="190.34" x2="244.6" y2="190.34" stroke="#c62a4c" stroke-width="0.7"/>
<circle cx="243.1" cy="187.92" r="1.65" fill="none" stroke="#c62a4c" stroke-width="0.7"/>
<circle cx="240.1" cy="193.98" r="1.65" fill="none" stroke="#c62a4c" stroke-width="0.7"/>
<circle cx="243.1" cy="194.46" r="1.65" fill="none" stroke="#c62a4c" stroke-width="0.7"/>
<circle cx="246.1" cy="193.98" r="1.65" fill="none" stroke="#c62a4c" stroke-width="0.7"/>
<circle cx="243.1" cy="200.04" r="1.65" fill="none" stroke="#c62a4c" stroke-width="0.7"/>
<path d="M202 223.6 L202 173.8 L243.6 173.8 L243.6 185.7" stroke="#5e5e5e" stroke-width="0.8" fill="none"/>
<path d="M214.7 173.8 L217.1 173.8 L215.9 175.4Z" fill="#555"/>
<path d="M228.5 222.3 L228.5 185.7 L243.6 185.7 L243.6 187.5" stroke="#5e5e5e" stroke-width="0.8" fill="none"/>
<text x="209.2" y="175.04" font-size="7.6" text-anchor="middle" fill="#333" stroke="#333" stroke-width="0.14" textLength="9.3" lengthAdjust="spacingAndGlyphs">***</text>
<text x="230.1" y="172.42" font-size="7" text-anchor="middle" fill="#333" stroke="#333" stroke-width="0.14">ns</text>
<text x="236.1" y="186.74" font-size="7.6" text-anchor="middle" fill="#333" stroke="#333" stroke-width="0.14" textLength="9.3" lengthAdjust="spacingAndGlyphs">***</text>
<line x1="193.3" y1="228.9" x2="193.3" y2="165.2" stroke="#1e1e1e" stroke-width="1.3"/>
<line x1="190.3" y1="228.4" x2="193.3" y2="228.4" stroke="#1e1e1e" stroke-width="0.9"/>
<text x="187" y="230.81" font-size="6.7" text-anchor="end" stroke="#2a2a2a" stroke-width="0.14" textLength="3.4" lengthAdjust="spacingAndGlyphs">0</text>
<line x1="190.3" y1="216.28" x2="193.3" y2="216.28" stroke="#1e1e1e" stroke-width="0.9"/>
<text x="187" y="218.69" font-size="6.7" text-anchor="end" stroke="#2a2a2a" stroke-width="0.14" textLength="13.6" lengthAdjust="spacingAndGlyphs">5000</text>
<line x1="190.3" y1="204.16" x2="193.3" y2="204.16" stroke="#1e1e1e" stroke-width="0.9"/>
<text x="187" y="206.57" font-size="6.7" text-anchor="end" stroke="#2a2a2a" stroke-width="0.14" textLength="17" lengthAdjust="spacingAndGlyphs">10000</text>
<line x1="190.3" y1="192.04" x2="193.3" y2="192.04" stroke="#1e1e1e" stroke-width="0.9"/>
<text x="187" y="194.45" font-size="6.7" text-anchor="end" stroke="#2a2a2a" stroke-width="0.14" textLength="17" lengthAdjust="spacingAndGlyphs">15000</text>
<line x1="190.3" y1="179.92" x2="193.3" y2="179.92" stroke="#1e1e1e" stroke-width="0.9"/>
<text x="187" y="182.33" font-size="6.7" text-anchor="end" stroke="#2a2a2a" stroke-width="0.14" textLength="17" lengthAdjust="spacingAndGlyphs">20000</text>
<line x1="190.3" y1="167.8" x2="193.3" y2="167.8" stroke="#1e1e1e" stroke-width="0.9"/>
<text x="187" y="170.21" font-size="6.7" text-anchor="end" stroke="#2a2a2a" stroke-width="0.14" textLength="17" lengthAdjust="spacingAndGlyphs">25000</text>
<line x1="192.8" y1="228.4" x2="251.6" y2="228.4" stroke="#1e1e1e" stroke-width="1.3"/>
<line x1="202.3" y1="228.4" x2="202.3" y2="231" stroke="#1e1e1e" stroke-width="0.9"/>
<line x1="215.9" y1="228.4" x2="215.9" y2="231" stroke="#1e1e1e" stroke-width="0.9"/>
<line x1="229.5" y1="228.4" x2="229.5" y2="231" stroke="#1e1e1e" stroke-width="0.9"/>
<line x1="243.1" y1="228.4" x2="243.1" y2="231" stroke="#1e1e1e" stroke-width="0.9"/>
<text x="162.9" y="197.8" font-size="8.5" text-anchor="middle" stroke="#2a2a2a" stroke-width="0.14" textLength="50.3" lengthAdjust="spacingAndGlyphs" transform="rotate(-90 162.9 197.8)">P-selectin (MFI)</text>
<text x="201.9" y="238.1" font-size="6.7" text-anchor="end" stroke="#2a2a2a" stroke-width="0.14" transform="rotate(-45 201.9 238.1)">WT ctrl</text>
<text x="215.5" y="238.1" font-size="6.7" text-anchor="end" stroke="#2a2a2a" stroke-width="0.14" transform="rotate(-45 215.5 238.1)">WT + Thr</text>
<text x="229.1" y="238.1" font-size="6.7" text-anchor="end" stroke="#2a2a2a" stroke-width="0.14" transform="rotate(-45 229.1 238.1)">cKO ctrl</text>
<text x="242.7" y="238.1" font-size="6.7" text-anchor="end" stroke="#2a2a2a" stroke-width="0.14" transform="rotate(-45 242.7 238.1)">cKO + Thr</text>
<text x="413.2" y="151.4" font-size="12.7" text-anchor="start" font-weight="bold" fill="#000">H</text>
<rect x="459" y="223.55" width="8.4" height="4.85" fill="#7a9bc5"/>
<line x1="463.2" y1="222.04" x2="463.2" y2="225.07" stroke="#2f5d99" stroke-width="0.7"/>
<line x1="461.7" y1="222.04" x2="464.7" y2="222.04" stroke="#2f5d99" stroke-width="0.7"/>
<circle cx="460.2" cy="221.13" r="1.65" fill="none" stroke="#2f5d99" stroke-width="0.7"/>
<circle cx="462.2" cy="221.43" r="1.65" fill="none" stroke="#2f5d99" stroke-width="0.7"/>
<circle cx="464.2" cy="221.13" r="1.65" fill="none" stroke="#2f5d99" stroke-width="0.7"/>
<circle cx="466.2" cy="221.43" r="1.65" fill="none" stroke="#2f5d99" stroke-width="0.7"/>
<circle cx="463.2" cy="225.37" r="1.65" fill="none" stroke="#2f5d99" stroke-width="0.7"/>
<rect x="472.6" y="188.1" width="8.4" height="40.3" fill="#7a9bc5"/>
<line x1="476.8" y1="180.53" x2="476.8" y2="195.68" stroke="#2f5d99" stroke-width="0.7"/>
<line x1="475.3" y1="180.53" x2="478.3" y2="180.53" stroke="#2f5d99" stroke-width="0.7"/>
<circle cx="476.8" cy="173.86" r="1.65" fill="none" stroke="#2f5d99" stroke-width="0.7"/>
<circle cx="473.8" cy="183.56" r="1.65" fill="none" stroke="#2f5d99" stroke-width="0.7"/>
<circle cx="480.3" cy="185.98" r="1.65" fill="none" stroke="#2f5d99" stroke-width="0.7"/>
<circle cx="476.8" cy="193.86" r="1.65" fill="none" stroke="#2f5d99" stroke-width="0.7"/>
<circle cx="476.8" cy="206.58" r="1.65" fill="none" stroke="#2f5d99" stroke-width="0.7"/>
<rect x="486.2" y="225.67" width="8.4" height="2.73" fill="#e67a8e"/>
<line x1="490.4" y1="223.55" x2="490.4" y2="227.79" stroke="#c62a4c" stroke-width="0.7"/>
<line x1="488.9" y1="223.55" x2="491.9" y2="223.55" stroke="#c62a4c" stroke-width="0.7"/>
<circle cx="487.9" cy="221.73" r="1.65" fill="none" stroke="#c62a4c" stroke-width="0.7"/>
<circle cx="493.4" cy="220.52" r="1.65" fill="none" stroke="#c62a4c" stroke-width="0.7"/>
<circle cx="490.4" cy="225.37" r="1.65" fill="none" stroke="#c62a4c" stroke-width="0.7"/>
<circle cx="488.4" cy="226.89" r="1.65" fill="none" stroke="#c62a4c" stroke-width="0.7"/>
<circle cx="492.4" cy="227.19" r="1.65" fill="none" stroke="#c62a4c" stroke-width="0.7"/>
<rect x="499.9" y="198.4" width="8.4" height="30" fill="#e67a8e"/>
<line x1="504.1" y1="195.37" x2="504.1" y2="201.43" stroke="#c62a4c" stroke-width="0.7"/>
<line x1="502.6" y1="195.37" x2="505.6" y2="195.37" stroke="#c62a4c" stroke-width="0.7"/>
<circle cx="504.1" cy="190.22" r="1.65" fill="none" stroke="#c62a4c" stroke-width="0.7"/>
<circle cx="501.1" cy="195.98" r="1.65" fill="none" stroke="#c62a4c" stroke-width="0.7"/>
<circle cx="504.1" cy="198.1" r="1.65" fill="none" stroke="#c62a4c" stroke-width="0.7"/>
<circle cx="507.1" cy="198.71" r="1.65" fill="none" stroke="#c62a4c" stroke-width="0.7"/>
<circle cx="504.1" cy="200.22" r="1.65" fill="none" stroke="#c62a4c" stroke-width="0.7"/>
<path d="M463.2 218.3 L463.2 170.9 L504.2 170.9 L504.2 186.2" stroke="#5e5e5e" stroke-width="0.8" fill="none"/>
<path d="M490.1 218.3 L490.1 186.2 L504.2 186.2 L504.2 188" stroke="#5e5e5e" stroke-width="0.8" fill="none"/>
<text x="469.9" y="171.94" font-size="7.6" text-anchor="middle" fill="#333" stroke="#333" stroke-width="0.14" textLength="6" lengthAdjust="spacingAndGlyphs">**</text>
<text x="490.8" y="169.72" font-size="7" text-anchor="middle" fill="#333" stroke="#333" stroke-width="0.14">ns</text>
<text x="496.8" y="187.44" font-size="7.6" text-anchor="middle" fill="#333" stroke="#333" stroke-width="0.14" textLength="9.3" lengthAdjust="spacingAndGlyphs">***</text>
<line x1="454.1" y1="228.9" x2="454.1" y2="165.2" stroke="#1e1e1e" stroke-width="1.3"/>
<line x1="451.1" y1="228.4" x2="454.1" y2="228.4" stroke="#1e1e1e" stroke-width="0.9"/>
<text x="447.8" y="230.81" font-size="6.7" text-anchor="end" stroke="#2a2a2a" stroke-width="0.14" textLength="3.4" lengthAdjust="spacingAndGlyphs">0</text>
<line x1="451.1" y1="213.25" x2="454.1" y2="213.25" stroke="#1e1e1e" stroke-width="0.9"/>
<text x="447.8" y="215.66" font-size="6.7" text-anchor="end" stroke="#2a2a2a" stroke-width="0.14" textLength="13.6" lengthAdjust="spacingAndGlyphs">5000</text>
<line x1="451.1" y1="198.1" x2="454.1" y2="198.1" stroke="#1e1e1e" stroke-width="0.9"/>
<text x="447.8" y="200.51" font-size="6.7" text-anchor="end" stroke="#2a2a2a" stroke-width="0.14" textLength="17" lengthAdjust="spacingAndGlyphs">10000</text>
<line x1="451.1" y1="182.95" x2="454.1" y2="182.95" stroke="#1e1e1e" stroke-width="0.9"/>
<text x="447.8" y="185.36" font-size="6.7" text-anchor="end" stroke="#2a2a2a" stroke-width="0.14" textLength="17" lengthAdjust="spacingAndGlyphs">15000</text>
<line x1="451.1" y1="167.8" x2="454.1" y2="167.8" stroke="#1e1e1e" stroke-width="0.9"/>
<text x="447.8" y="170.21" font-size="6.7" text-anchor="end" stroke="#2a2a2a" stroke-width="0.14" textLength="17" lengthAdjust="spacingAndGlyphs">20000</text>
<line x1="453.6" y1="228.4" x2="512.4" y2="228.4" stroke="#1e1e1e" stroke-width="1.3"/>
<line x1="463.2" y1="228.4" x2="463.2" y2="231" stroke="#1e1e1e" stroke-width="0.9"/>
<line x1="476.8" y1="228.4" x2="476.8" y2="231" stroke="#1e1e1e" stroke-width="0.9"/>
<line x1="490.4" y1="228.4" x2="490.4" y2="231" stroke="#1e1e1e" stroke-width="0.9"/>
<line x1="504.1" y1="228.4" x2="504.1" y2="231" stroke="#1e1e1e" stroke-width="0.9"/>
<text x="423.9" y="196.8" font-size="8.5" text-anchor="middle" stroke="#2a2a2a" stroke-width="0.14" textLength="36" lengthAdjust="spacingAndGlyphs" transform="rotate(-90 423.9 196.8)">CD63 (MFI)</text>
<text x="462.8" y="238.1" font-size="6.7" text-anchor="end" stroke="#2a2a2a" stroke-width="0.14" transform="rotate(-45 462.8 238.1)">WT ctrl</text>
<text x="476.4" y="238.1" font-size="6.7" text-anchor="end" stroke="#2a2a2a" stroke-width="0.14" transform="rotate(-45 476.4 238.1)">WT + Thr</text>
<text x="490" y="238.1" font-size="6.7" text-anchor="end" stroke="#2a2a2a" stroke-width="0.14" transform="rotate(-45 490 238.1)">cKO ctrl</text>
<text x="503.7" y="238.1" font-size="6.7" text-anchor="end" stroke="#2a2a2a" stroke-width="0.14" transform="rotate(-45 503.7 238.1)">cKO + Thr</text>
<text x="151.9" y="286.2" font-size="12.7" text-anchor="start" font-weight="bold" fill="#000">J</text>
<rect x="198.1" y="362.14" width="8.4" height="1.21" fill="#7a9bc5"/>
<line x1="202.3" y1="361.17" x2="202.3" y2="363.11" stroke="#2f5d99" stroke-width="0.7"/>
<line x1="200.8" y1="361.17" x2="203.8" y2="361.17" stroke="#2f5d99" stroke-width="0.7"/>
<circle cx="202.3" cy="358.99" r="1.65" fill="none" stroke="#2f5d99" stroke-width="0.7"/>
<circle cx="200.3" cy="362.38" r="1.65" fill="none" stroke="#2f5d99" stroke-width="0.7"/>
<circle cx="204.3" cy="362.62" r="1.65" fill="none" stroke="#2f5d99" stroke-width="0.7"/>
<rect x="211.7" y="323.87" width="8.4" height="39.48" fill="#7a9bc5"/>
<line x1="215.9" y1="319.03" x2="215.9" y2="328.72" stroke="#2f5d99" stroke-width="0.7"/>
<line x1="214.4" y1="319.03" x2="217.4" y2="319.03" stroke="#2f5d99" stroke-width="0.7"/>
<circle cx="215.9" cy="315.64" r="1.65" fill="none" stroke="#2f5d99" stroke-width="0.7"/>
<circle cx="215.9" cy="318.3" r="1.65" fill="none" stroke="#2f5d99" stroke-width="0.7"/>
<circle cx="212.9" cy="328.47" r="1.65" fill="none" stroke="#2f5d99" stroke-width="0.7"/>
<circle cx="218.9" cy="328.47" r="1.65" fill="none" stroke="#2f5d99" stroke-width="0.7"/>
<circle cx="215.9" cy="325.81" r="1.65" fill="none" stroke="#2f5d99" stroke-width="0.7"/>
<rect x="225.3" y="362.15" width="8.4" height="1.2" fill="#e67a8e"/>
<line x1="229.5" y1="361.65" x2="229.5" y2="363.11" stroke="#c62a4c" stroke-width="0.7"/>
<line x1="228" y1="361.65" x2="231" y2="361.65" stroke="#c62a4c" stroke-width="0.7"/>
<circle cx="229.5" cy="361.17" r="1.65" fill="none" stroke="#c62a4c" stroke-width="0.7"/>
<circle cx="227.5" cy="362.62" r="1.65" fill="none" stroke="#c62a4c" stroke-width="0.7"/>
<circle cx="231.5" cy="362.62" r="1.65" fill="none" stroke="#c62a4c" stroke-width="0.7"/>
<rect x="238.9" y="318.06" width="8.4" height="45.29" fill="#e67a8e"/>
<line x1="243.1" y1="315.64" x2="243.1" y2="320.48" stroke="#c62a4c" stroke-width="0.7"/>
<line x1="241.6" y1="315.64" x2="244.6" y2="315.64" stroke="#c62a4c" stroke-width="0.7"/>
<circle cx="243.1" cy="313.21" r="1.65" fill="none" stroke="#c62a4c" stroke-width="0.7"/>
<circle cx="240.1" cy="317.57" r="1.65" fill="none" stroke="#c62a4c" stroke-width="0.7"/>
<circle cx="246.1" cy="317.57" r="1.65" fill="none" stroke="#c62a4c" stroke-width="0.7"/>
<circle cx="243.1" cy="320.97" r="1.65" fill="none" stroke="#c62a4c" stroke-width="0.7"/>
<path d="M202.2 349.2 L202.2 303.5 L243.5 303.5 L243.5 309.9" stroke="#5e5e5e" stroke-width="0.8" fill="none"/>
<path d="M214.7 303.5 L217.1 303.5 L215.9 305.1Z" fill="#555"/>
<path d="M228.5 358 L228.5 309.9 L243.5 309.9 L243.5 311.5" stroke="#5e5e5e" stroke-width="0.8" fill="none"/>
<text x="209.2" y="304.24" font-size="7.6" text-anchor="middle" fill="#333" stroke="#333" stroke-width="0.14" textLength="9.3" lengthAdjust="spacingAndGlyphs">***</text>
<text x="230.1" y="302.02" font-size="7" text-anchor="middle" fill="#333" stroke="#333" stroke-width="0.14">ns</text>
<text x="235.9" y="310.94" font-size="7.6" text-anchor="middle" fill="#333" stroke="#333" stroke-width="0.14" textLength="9.3" lengthAdjust="spacingAndGlyphs">***</text>
<line x1="193.3" y1="363.85" x2="193.3" y2="300.2" stroke="#1e1e1e" stroke-width="1.3"/>
<line x1="190.3" y1="363.35" x2="193.3" y2="363.35" stroke="#1e1e1e" stroke-width="0.9"/>
<text x="187" y="365.76" font-size="6.7" text-anchor="end" stroke="#2a2a2a" stroke-width="0.14" textLength="3.4" lengthAdjust="spacingAndGlyphs">0</text>
<line x1="190.3" y1="351.24" x2="193.3" y2="351.24" stroke="#1e1e1e" stroke-width="0.9"/>
<text x="187" y="353.65" font-size="6.7" text-anchor="end" stroke="#2a2a2a" stroke-width="0.14" textLength="13.6" lengthAdjust="spacingAndGlyphs">5000</text>
<line x1="190.3" y1="339.13" x2="193.3" y2="339.13" stroke="#1e1e1e" stroke-width="0.9"/>
<text x="187" y="341.54" font-size="6.7" text-anchor="end" stroke="#2a2a2a" stroke-width="0.14" textLength="17" lengthAdjust="spacingAndGlyphs">10000</text>
<line x1="190.3" y1="327.02" x2="193.3" y2="327.02" stroke="#1e1e1e" stroke-width="0.9"/>
<text x="187" y="329.43" font-size="6.7" text-anchor="end" stroke="#2a2a2a" stroke-width="0.14" textLength="17" lengthAdjust="spacingAndGlyphs">15000</text>
<line x1="190.3" y1="314.91" x2="193.3" y2="314.91" stroke="#1e1e1e" stroke-width="0.9"/>
<text x="187" y="317.32" font-size="6.7" text-anchor="end" stroke="#2a2a2a" stroke-width="0.14" textLength="17" lengthAdjust="spacingAndGlyphs">20000</text>
<line x1="190.3" y1="302.8" x2="193.3" y2="302.8" stroke="#1e1e1e" stroke-width="0.9"/>
<text x="187" y="305.21" font-size="6.7" text-anchor="end" stroke="#2a2a2a" stroke-width="0.14" textLength="17" lengthAdjust="spacingAndGlyphs">25000</text>
<line x1="192.8" y1="363.35" x2="251.6" y2="363.35" stroke="#1e1e1e" stroke-width="1.3"/>
<line x1="202.3" y1="363.35" x2="202.3" y2="365.95" stroke="#1e1e1e" stroke-width="0.9"/>
<line x1="215.9" y1="363.35" x2="215.9" y2="365.95" stroke="#1e1e1e" stroke-width="0.9"/>
<line x1="229.5" y1="363.35" x2="229.5" y2="365.95" stroke="#1e1e1e" stroke-width="0.9"/>
<line x1="243.1" y1="363.35" x2="243.1" y2="365.95" stroke="#1e1e1e" stroke-width="0.9"/>
<text x="162.9" y="332.6" font-size="8.5" text-anchor="middle" stroke="#2a2a2a" stroke-width="0.14" textLength="50.3" lengthAdjust="spacingAndGlyphs" transform="rotate(-90 162.9 332.6)">P-selectin (MFI)</text>
<text x="201.9" y="373.05" font-size="6.7" text-anchor="end" stroke="#2a2a2a" stroke-width="0.14" transform="rotate(-45 201.9 373.05)">WT ctrl</text>
<text x="215.5" y="373.05" font-size="6.7" text-anchor="end" stroke="#2a2a2a" stroke-width="0.14" transform="rotate(-45 215.5 373.05)">WT + Thr</text>
<text x="229.1" y="373.05" font-size="6.7" text-anchor="end" stroke="#2a2a2a" stroke-width="0.14" transform="rotate(-45 229.1 373.05)">cKO ctrl</text>
<text x="242.7" y="373.05" font-size="6.7" text-anchor="end" stroke="#2a2a2a" stroke-width="0.14" transform="rotate(-45 242.7 373.05)">cKO + Thr</text>
<text x="413.2" y="286.2" font-size="12.7" text-anchor="start" font-weight="bold" fill="#000">L</text>
<rect x="459" y="359.72" width="8.4" height="3.63" fill="#7a9bc5"/>
<line x1="463.2" y1="358.91" x2="463.2" y2="360.52" stroke="#2f5d99" stroke-width="0.7"/>
<line x1="461.7" y1="358.91" x2="464.7" y2="358.91" stroke="#2f5d99" stroke-width="0.7"/>
<circle cx="460.2" cy="359.11" r="1.65" fill="none" stroke="#2f5d99" stroke-width="0.7"/>
<circle cx="462.2" cy="359.72" r="1.65" fill="none" stroke="#2f5d99" stroke-width="0.7"/>
<circle cx="464.2" cy="359.31" r="1.65" fill="none" stroke="#2f5d99" stroke-width="0.7"/>
<circle cx="466.2" cy="358.1" r="1.65" fill="none" stroke="#2f5d99" stroke-width="0.7"/>
<circle cx="463.2" cy="360.93" r="1.65" fill="none" stroke="#2f5d99" stroke-width="0.7"/>
<rect x="472.6" y="331.66" width="8.4" height="31.69" fill="#7a9bc5"/>
<line x1="476.8" y1="330.05" x2="476.8" y2="333.28" stroke="#2f5d99" stroke-width="0.7"/>
<line x1="475.3" y1="330.05" x2="478.3" y2="330.05" stroke="#2f5d99" stroke-width="0.7"/>
<circle cx="473.8" cy="331.46" r="1.65" fill="none" stroke="#2f5d99" stroke-width="0.7"/>
<circle cx="475.8" cy="330.65" r="1.65" fill="none" stroke="#2f5d99" stroke-width="0.7"/>
<circle cx="477.8" cy="329.44" r="1.65" fill="none" stroke="#2f5d99" stroke-width="0.7"/>
<circle cx="479.8" cy="328.03" r="1.65" fill="none" stroke="#2f5d99" stroke-width="0.7"/>
<rect x="486.2" y="362.14" width="8.4" height="1.21" fill="#e67a8e"/>
<line x1="490.4" y1="361.53" x2="490.4" y2="362.74" stroke="#c62a4c" stroke-width="0.7"/>
<line x1="488.9" y1="361.53" x2="491.9" y2="361.53" stroke="#c62a4c" stroke-width="0.7"/>
<circle cx="488.4" cy="361.94" r="1.65" fill="none" stroke="#c62a4c" stroke-width="0.7"/>
<circle cx="490.4" cy="361.53" r="1.65" fill="none" stroke="#c62a4c" stroke-width="0.7"/>
<circle cx="492.9" cy="360.93" r="1.65" fill="none" stroke="#c62a4c" stroke-width="0.7"/>
<rect x="499.9" y="324.8" width="8.4" height="38.55" fill="#e67a8e"/>
<line x1="504.1" y1="314.71" x2="504.1" y2="334.89" stroke="#c62a4c" stroke-width="0.7"/>
<line x1="502.6" y1="314.71" x2="505.6" y2="314.71" stroke="#c62a4c" stroke-width="0.7"/>
<circle cx="504.1" cy="314.3" r="1.65" fill="none" stroke="#c62a4c" stroke-width="0.7"/>
<circle cx="504.1" cy="316.93" r="1.65" fill="none" stroke="#c62a4c" stroke-width="0.7"/>
<circle cx="504.1" cy="327.63" r="1.65" fill="none" stroke="#c62a4c" stroke-width="0.7"/>
<circle cx="504.1" cy="335.09" r="1.65" fill="none" stroke="#c62a4c" stroke-width="0.7"/>
<path d="M463.2 349.2 L463.2 305.5 L504.2 305.5 L504.2 311.8" stroke="#5e5e5e" stroke-width="0.8" fill="none"/>
<path d="M475.6 305.5 L478 305.5 L476.8 307.1Z" fill="#555"/>
<path d="M490.1 361.3 L490.1 311.8 L504.2 311.8 L504.2 313.5" stroke="#5e5e5e" stroke-width="0.8" fill="none"/>
<text x="469.9" y="306.54" font-size="7.6" text-anchor="middle" fill="#333" stroke="#333" stroke-width="0.14" textLength="9.3" lengthAdjust="spacingAndGlyphs">***</text>
<text x="490.8" y="304.32" font-size="7" text-anchor="middle" fill="#333" stroke="#333" stroke-width="0.14">ns</text>
<text x="496.8" y="312.94" font-size="7.6" text-anchor="middle" fill="#333" stroke="#333" stroke-width="0.14" textLength="9.3" lengthAdjust="spacingAndGlyphs">***</text>
<line x1="454.1" y1="363.85" x2="454.1" y2="300.2" stroke="#1e1e1e" stroke-width="1.3"/>
<line x1="451.1" y1="363.35" x2="454.1" y2="363.35" stroke="#1e1e1e" stroke-width="0.9"/>
<text x="447.8" y="365.76" font-size="6.7" text-anchor="end" stroke="#2a2a2a" stroke-width="0.14" textLength="3.4" lengthAdjust="spacingAndGlyphs">0</text>
<line x1="451.1" y1="343.17" x2="454.1" y2="343.17" stroke="#1e1e1e" stroke-width="0.9"/>
<text x="447.8" y="345.58" font-size="6.7" text-anchor="end" stroke="#2a2a2a" stroke-width="0.14" textLength="17" lengthAdjust="spacingAndGlyphs">10000</text>
<line x1="451.1" y1="322.98" x2="454.1" y2="322.98" stroke="#1e1e1e" stroke-width="0.9"/>
<text x="447.8" y="325.4" font-size="6.7" text-anchor="end" stroke="#2a2a2a" stroke-width="0.14" textLength="17" lengthAdjust="spacingAndGlyphs">20000</text>
<line x1="451.1" y1="302.8" x2="454.1" y2="302.8" stroke="#1e1e1e" stroke-width="0.9"/>
<text x="447.8" y="305.21" font-size="6.7" text-anchor="end" stroke="#2a2a2a" stroke-width="0.14" textLength="17" lengthAdjust="spacingAndGlyphs">30000</text>
<line x1="453.6" y1="363.35" x2="512.4" y2="363.35" stroke="#1e1e1e" stroke-width="1.3"/>
<line x1="463.2" y1="363.35" x2="463.2" y2="365.95" stroke="#1e1e1e" stroke-width="0.9"/>
<line x1="476.8" y1="363.35" x2="476.8" y2="365.95" stroke="#1e1e1e" stroke-width="0.9"/>
<line x1="490.4" y1="363.35" x2="490.4" y2="365.95" stroke="#1e1e1e" stroke-width="0.9"/>
<line x1="504.1" y1="363.35" x2="504.1" y2="365.95" stroke="#1e1e1e" stroke-width="0.9"/>
<text x="423.9" y="331.6" font-size="8.5" text-anchor="middle" stroke="#2a2a2a" stroke-width="0.14" textLength="36" lengthAdjust="spacingAndGlyphs" transform="rotate(-90 423.9 331.6)">CD63 (MFI)</text>
<text x="462.8" y="373.05" font-size="6.7" text-anchor="end" stroke="#2a2a2a" stroke-width="0.14" transform="rotate(-45 462.8 373.05)">WT ctrl</text>
<text x="476.4" y="373.05" font-size="6.7" text-anchor="end" stroke="#2a2a2a" stroke-width="0.14" transform="rotate(-45 476.4 373.05)">WT + Thr</text>
<text x="490" y="373.05" font-size="6.7" text-anchor="end" stroke="#2a2a2a" stroke-width="0.14" transform="rotate(-45 490 373.05)">cKO ctrl</text>
<text x="503.7" y="373.05" font-size="6.7" text-anchor="end" stroke="#2a2a2a" stroke-width="0.14" transform="rotate(-45 503.7 373.05)">cKO + Thr</text>
<text x="6.9" y="421.3" font-size="12.7" text-anchor="start" font-weight="bold" fill="#000">M</text>
<rect x="49.4" y="499.49" width="8.4" height="1.26" fill="#7a9bc5"/>
<line x1="53.6" y1="498.85" x2="53.6" y2="500.12" stroke="#2f5d99" stroke-width="0.7"/>
<line x1="52.1" y1="498.85" x2="55.1" y2="498.85" stroke="#2f5d99" stroke-width="0.7"/>
<circle cx="50.6" cy="499.17" r="1.65" fill="none" stroke="#2f5d99" stroke-width="0.7"/>
<circle cx="52.6" cy="498.54" r="1.65" fill="none" stroke="#2f5d99" stroke-width="0.7"/>
<circle cx="54.6" cy="499.49" r="1.65" fill="none" stroke="#2f5d99" stroke-width="0.7"/>
<circle cx="56.6" cy="498.85" r="1.65" fill="none" stroke="#2f5d99" stroke-width="0.7"/>
<rect x="63.6" y="453.19" width="8.4" height="47.56" fill="#7a9bc5"/>
<line x1="67.8" y1="451.29" x2="67.8" y2="455.08" stroke="#2f5d99" stroke-width="0.7"/>
<line x1="66.3" y1="451.29" x2="69.3" y2="451.29" stroke="#2f5d99" stroke-width="0.7"/>
<circle cx="64.8" cy="452.05" r="1.65" fill="none" stroke="#2f5d99" stroke-width="0.7"/>
<circle cx="66.8" cy="453.94" r="1.65" fill="none" stroke="#2f5d99" stroke-width="0.7"/>
<circle cx="68.8" cy="452.36" r="1.65" fill="none" stroke="#2f5d99" stroke-width="0.7"/>
<circle cx="70.8" cy="455.21" r="1.65" fill="none" stroke="#2f5d99" stroke-width="0.7"/>
<circle cx="67.8" cy="454.26" r="1.65" fill="none" stroke="#2f5d99" stroke-width="0.7"/>
<rect x="77.7" y="499.17" width="8.4" height="1.58" fill="#e67a8e"/>
<line x1="81.9" y1="498.54" x2="81.9" y2="499.8" stroke="#c62a4c" stroke-width="0.7"/>
<line x1="80.4" y1="498.54" x2="83.4" y2="498.54" stroke="#c62a4c" stroke-width="0.7"/>
<circle cx="78.9" cy="498.85" r="1.65" fill="none" stroke="#c62a4c" stroke-width="0.7"/>
<circle cx="80.9" cy="498.54" r="1.65" fill="none" stroke="#c62a4c" stroke-width="0.7"/>
<circle cx="82.9" cy="499.17" r="1.65" fill="none" stroke="#c62a4c" stroke-width="0.7"/>
<circle cx="84.9" cy="498.85" r="1.65" fill="none" stroke="#c62a4c" stroke-width="0.7"/>
<rect x="92.2" y="460.9" width="8.4" height="39.85" fill="#e67a8e"/>
<line x1="96.4" y1="459.95" x2="96.4" y2="461.85" stroke="#c62a4c" stroke-width="0.7"/>
<line x1="94.9" y1="459.95" x2="97.9" y2="459.95" stroke="#c62a4c" stroke-width="0.7"/>
<circle cx="93.4" cy="462.17" r="1.65" fill="none" stroke="#c62a4c" stroke-width="0.7"/>
<circle cx="95.4" cy="460.9" r="1.65" fill="none" stroke="#c62a4c" stroke-width="0.7"/>
<circle cx="97.4" cy="460.27" r="1.65" fill="none" stroke="#c62a4c" stroke-width="0.7"/>
<circle cx="99.4" cy="461.22" r="1.65" fill="none" stroke="#c62a4c" stroke-width="0.7"/>
<path d="M53.6 490.7 L53.6 447.6 L96.5 447.6 L96.5 457" stroke="#5e5e5e" stroke-width="0.8" fill="none"/>
<path d="M66.6 447.6 L69 447.6 L67.8 449.2Z" fill="#555"/>
<path d="M81.6 495.4 L81.6 457 L96.5 457 L96.5 459" stroke="#5e5e5e" stroke-width="0.8" fill="none"/>
<text x="60.5" y="448.64" font-size="7.6" text-anchor="middle" fill="#333" stroke="#333" stroke-width="0.14" textLength="9.3" lengthAdjust="spacingAndGlyphs">***</text>
<text x="82.4" y="448.64" font-size="7.6" text-anchor="middle" fill="#333" stroke="#333" stroke-width="0.14" textLength="9.3" lengthAdjust="spacingAndGlyphs">***</text>
<text x="89.1" y="458.04" font-size="7.6" text-anchor="middle" fill="#333" stroke="#333" stroke-width="0.14" textLength="9.3" lengthAdjust="spacingAndGlyphs">***</text>
<line x1="44.3" y1="501.25" x2="44.3" y2="434.9" stroke="#1e1e1e" stroke-width="1.3"/>
<line x1="41.3" y1="500.75" x2="44.3" y2="500.75" stroke="#1e1e1e" stroke-width="0.9"/>
<text x="38" y="503.16" font-size="6.7" text-anchor="end" stroke="#2a2a2a" stroke-width="0.14" textLength="3.4" lengthAdjust="spacingAndGlyphs">0</text>
<line x1="41.3" y1="488.1" x2="44.3" y2="488.1" stroke="#1e1e1e" stroke-width="0.9"/>
<text x="38" y="490.51" font-size="6.7" text-anchor="end" stroke="#2a2a2a" stroke-width="0.14" textLength="10.2" lengthAdjust="spacingAndGlyphs">200</text>
<line x1="41.3" y1="475.45" x2="44.3" y2="475.45" stroke="#1e1e1e" stroke-width="0.9"/>
<text x="38" y="477.86" font-size="6.7" text-anchor="end" stroke="#2a2a2a" stroke-width="0.14" textLength="10.2" lengthAdjust="spacingAndGlyphs">400</text>
<line x1="41.3" y1="462.8" x2="44.3" y2="462.8" stroke="#1e1e1e" stroke-width="0.9"/>
<text x="38" y="465.21" font-size="6.7" text-anchor="end" stroke="#2a2a2a" stroke-width="0.14" textLength="10.2" lengthAdjust="spacingAndGlyphs">600</text>
<line x1="41.3" y1="450.15" x2="44.3" y2="450.15" stroke="#1e1e1e" stroke-width="0.9"/>
<text x="38" y="452.56" font-size="6.7" text-anchor="end" stroke="#2a2a2a" stroke-width="0.14" textLength="10.2" lengthAdjust="spacingAndGlyphs">800</text>
<line x1="41.3" y1="437.5" x2="44.3" y2="437.5" stroke="#1e1e1e" stroke-width="0.9"/>
<text x="38" y="439.91" font-size="6.7" text-anchor="end" stroke="#2a2a2a" stroke-width="0.14" textLength="13.6" lengthAdjust="spacingAndGlyphs">1000</text>
<line x1="43.8" y1="500.75" x2="106" y2="500.75" stroke="#1e1e1e" stroke-width="1.3"/>
<line x1="53.6" y1="500.75" x2="53.6" y2="503.35" stroke="#1e1e1e" stroke-width="0.9"/>
<line x1="67.8" y1="500.75" x2="67.8" y2="503.35" stroke="#1e1e1e" stroke-width="0.9"/>
<line x1="81.9" y1="500.75" x2="81.9" y2="503.35" stroke="#1e1e1e" stroke-width="0.9"/>
<line x1="96.4" y1="500.75" x2="96.4" y2="503.35" stroke="#1e1e1e" stroke-width="0.9"/>
<text x="18" y="468.1" font-size="8.5" text-anchor="middle" stroke="#2a2a2a" stroke-width="0.14" textLength="56.4" lengthAdjust="spacingAndGlyphs" transform="rotate(-90 18 468.1)">Serotonin (ng/mL)</text>
<text x="53.2" y="510.45" font-size="6.7" text-anchor="end" stroke="#2a2a2a" stroke-width="0.14" transform="rotate(-45 53.2 510.45)">WT ctrl</text>
<text x="67.4" y="510.45" font-size="6.7" text-anchor="end" stroke="#2a2a2a" stroke-width="0.14" transform="rotate(-45 67.4 510.45)">WT + Thr</text>
<text x="81.5" y="510.45" font-size="6.7" text-anchor="end" stroke="#2a2a2a" stroke-width="0.14" transform="rotate(-45 81.5 510.45)">cKO ctrl</text>
<text x="96" y="510.45" font-size="6.7" text-anchor="end" stroke="#2a2a2a" stroke-width="0.14" transform="rotate(-45 96 510.45)">cKO + Thr</text>
<text x="43" y="430.2" font-size="7.1" text-anchor="start" stroke="#2a2a2a" stroke-width="0.14" textLength="63.9" lengthAdjust="spacingAndGlyphs">5-HT at 0.08U/mL Thr</text>
<text x="256.8" y="558.7" font-size="12.7" text-anchor="start" font-weight="bold" fill="#000">S</text>
<rect x="304.6" y="608.04" width="10.8" height="42.96" fill="#9ccff1"/>
<line x1="310" y1="605.02" x2="310" y2="611.05" stroke="#4f9fdc" stroke-width="0.7"/>
<line x1="308.5" y1="605.02" x2="311.5" y2="605.02" stroke="#4f9fdc" stroke-width="0.7"/>
<circle cx="310" cy="600.5" r="1.65" fill="none" stroke="#4f9fdc" stroke-width="0.7"/>
<circle cx="307.5" cy="605.78" r="1.65" fill="none" stroke="#4f9fdc" stroke-width="0.7"/>
<circle cx="312.5" cy="605.78" r="1.65" fill="none" stroke="#4f9fdc" stroke-width="0.7"/>
<circle cx="307" cy="608.79" r="1.65" fill="none" stroke="#4f9fdc" stroke-width="0.7"/>
<circle cx="310" cy="607.28" r="1.65" fill="none" stroke="#4f9fdc" stroke-width="0.7"/>
<circle cx="310" cy="614.82" r="1.65" fill="none" stroke="#4f9fdc" stroke-width="0.7"/>
<rect x="322" y="639.17" width="10.8" height="11.83" fill="#f7c07a"/>
<line x1="327.4" y1="636.9" x2="327.4" y2="641.43" stroke="#ee9a3a" stroke-width="0.7"/>
<line x1="325.9" y1="636.9" x2="328.9" y2="636.9" stroke="#ee9a3a" stroke-width="0.7"/>
<circle cx="327.4" cy="634.42" r="1.65" fill="none" stroke="#ee9a3a" stroke-width="0.7"/>
<circle cx="327.4" cy="637.43" r="1.65" fill="none" stroke="#ee9a3a" stroke-width="0.7"/>
<circle cx="327.4" cy="640.45" r="1.65" fill="none" stroke="#ee9a3a" stroke-width="0.7"/>
<circle cx="327.4" cy="642.71" r="1.65" fill="none" stroke="#ee9a3a" stroke-width="0.7"/>
<path d="M310 596.8 L310 595.1 L327.6 595.1 L327.6 631" stroke="#333" stroke-width="0.8" fill="none"/>
<text x="319" y="595.94" font-size="7.6" text-anchor="middle" fill="#333" stroke="#333" stroke-width="0.14" textLength="9.3" lengthAdjust="spacingAndGlyphs">***</text>
<line x1="298.4" y1="651.5" x2="298.4" y2="588.1" stroke="#1e1e1e" stroke-width="1.3"/>
<line x1="295.4" y1="651" x2="298.4" y2="651" stroke="#1e1e1e" stroke-width="0.9"/>
<text x="292.1" y="653.41" font-size="6.7" text-anchor="end" stroke="#2a2a2a" stroke-width="0.14" textLength="3.4" lengthAdjust="spacingAndGlyphs">0</text>
<line x1="295.4" y1="635.92" x2="298.4" y2="635.92" stroke="#1e1e1e" stroke-width="0.9"/>
<text x="292.1" y="638.34" font-size="6.7" text-anchor="end" stroke="#2a2a2a" stroke-width="0.14" textLength="6.8" lengthAdjust="spacingAndGlyphs">20</text>
<line x1="295.4" y1="620.85" x2="298.4" y2="620.85" stroke="#1e1e1e" stroke-width="0.9"/>
<text x="292.1" y="623.26" font-size="6.7" text-anchor="end" stroke="#2a2a2a" stroke-width="0.14" textLength="6.8" lengthAdjust="spacingAndGlyphs">40</text>
<line x1="295.4" y1="605.78" x2="298.4" y2="605.78" stroke="#1e1e1e" stroke-width="0.9"/>
<text x="292.1" y="608.19" font-size="6.7" text-anchor="end" stroke="#2a2a2a" stroke-width="0.14" textLength="6.8" lengthAdjust="spacingAndGlyphs">60</text>
<line x1="295.4" y1="590.7" x2="298.4" y2="590.7" stroke="#1e1e1e" stroke-width="0.9"/>
<text x="292.1" y="593.11" font-size="6.7" text-anchor="end" stroke="#2a2a2a" stroke-width="0.14" textLength="6.8" lengthAdjust="spacingAndGlyphs">80</text>
<line x1="297.9" y1="651" x2="338.1" y2="651" stroke="#1e1e1e" stroke-width="1.3"/>
<line x1="310" y1="651" x2="310" y2="653.6" stroke="#1e1e1e" stroke-width="0.9"/>
<line x1="327.4" y1="651" x2="327.4" y2="653.6" stroke="#1e1e1e" stroke-width="0.9"/>
<text x="268.6" y="621" font-size="8.5" text-anchor="middle" stroke="#2a2a2a" stroke-width="0.14" textLength="36.8" lengthAdjust="spacingAndGlyphs" transform="rotate(-90 268.6 621)">% Inhibition</text>
<text x="309.6" y="660.7" font-size="6.7" text-anchor="end" stroke="#2a2a2a" stroke-width="0.14" transform="rotate(-45 309.6 660.7)">ATP</text>
<text x="327" y="660.7" font-size="6.7" text-anchor="end" stroke="#2a2a2a" stroke-width="0.14" transform="rotate(-45 327 660.7)">Serotonin</text>
<text x="280.1" y="621" font-size="8.5" text-anchor="middle" stroke="#2a2a2a" stroke-width="0.14" textLength="45.4" lengthAdjust="spacingAndGlyphs" transform="rotate(-90 280.1 621)">(relative to WT)</text>
<text x="134.4" y="421.3" font-size="12.7" text-anchor="start" font-weight="bold" fill="#000">N</text>
<line x1="169.5" y1="427.5" x2="179.9" y2="427.5" stroke="#3a64a0" stroke-width="0.9"/>
<circle cx="174.7" cy="427.5" r="1.9" fill="#1f3b6b" stroke="none" stroke-width="0.6"/>
<text x="182.9" y="429.84" font-size="6.5" text-anchor="start" stroke="#2a2a2a" stroke-width="0.14">WT</text>
<line x1="198.1" y1="427.5" x2="208.5" y2="427.5" stroke="#c8203f" stroke-width="0.9"/>
<circle cx="203.3" cy="427.5" r="1.9" fill="#b8163f" stroke="none" stroke-width="0.6"/>
<text x="211.1" y="429.84" font-size="6.5" text-anchor="start" stroke="#2a2a2a" stroke-width="0.14">cKO</text>
<path d="M168 500.7 L181.6 489.31 L209.1 473.35 L223 450.06" stroke="#3a64a0" stroke-width="0.9" fill="none"/>
<line x1="181.6" y1="485.25" x2="181.6" y2="493.36" stroke="#1f3b6b" stroke-width="0.6"/>
<line x1="180.4" y1="485.25" x2="182.8" y2="485.25" stroke="#1f3b6b" stroke-width="0.6"/>
<line x1="180.4" y1="493.36" x2="182.8" y2="493.36" stroke="#1f3b6b" stroke-width="0.6"/>
<line x1="209.1" y1="469.81" x2="209.1" y2="476.9" stroke="#1f3b6b" stroke-width="0.6"/>
<line x1="207.9" y1="469.81" x2="210.3" y2="469.81" stroke="#1f3b6b" stroke-width="0.6"/>
<line x1="207.9" y1="476.9" x2="210.3" y2="476.9" stroke="#1f3b6b" stroke-width="0.6"/>
<line x1="223" y1="446.77" x2="223" y2="453.35" stroke="#1f3b6b" stroke-width="0.6"/>
<line x1="221.8" y1="446.77" x2="224.2" y2="446.77" stroke="#1f3b6b" stroke-width="0.6"/>
<line x1="221.8" y1="453.35" x2="224.2" y2="453.35" stroke="#1f3b6b" stroke-width="0.6"/>
<circle cx="181.6" cy="489.31" r="1.35" fill="#1f3b6b" stroke="none" stroke-width="0.6"/>
<circle cx="209.1" cy="473.35" r="1.35" fill="#1f3b6b" stroke="none" stroke-width="0.6"/>
<circle cx="223" cy="450.06" r="1.35" fill="#1f3b6b" stroke="none" stroke-width="0.6"/>
<path d="M168 500.7 L181.6 498.93 L209.1 491.08 L223 479.43" stroke="#c8203f" stroke-width="0.9" fill="none"/>
<line x1="181.6" y1="498.17" x2="181.6" y2="499.69" stroke="#b8163f" stroke-width="0.6"/>
<line x1="180.4" y1="498.17" x2="182.8" y2="498.17" stroke="#b8163f" stroke-width="0.6"/>
<line x1="180.4" y1="499.69" x2="182.8" y2="499.69" stroke="#b8163f" stroke-width="0.6"/>
<line x1="209.1" y1="489.56" x2="209.1" y2="492.6" stroke="#b8163f" stroke-width="0.6"/>
<line x1="207.9" y1="489.56" x2="210.3" y2="489.56" stroke="#b8163f" stroke-width="0.6"/>
<line x1="207.9" y1="492.6" x2="210.3" y2="492.6" stroke="#b8163f" stroke-width="0.6"/>
<line x1="223" y1="478.92" x2="223" y2="479.94" stroke="#b8163f" stroke-width="0.6"/>
<line x1="221.8" y1="478.92" x2="224.2" y2="478.92" stroke="#b8163f" stroke-width="0.6"/>
<line x1="221.8" y1="479.94" x2="224.2" y2="479.94" stroke="#b8163f" stroke-width="0.6"/>
<circle cx="181.6" cy="498.93" r="1.35" fill="#b8163f" stroke="none" stroke-width="0.6"/>
<circle cx="209.1" cy="491.08" r="1.35" fill="#b8163f" stroke="none" stroke-width="0.6"/>
<circle cx="223" cy="479.43" r="1.35" fill="#b8163f" stroke="none" stroke-width="0.6"/>
<text x="181.6" y="484.12" font-size="7" text-anchor="middle" stroke="#2a2a2a" stroke-width="0.14">ns</text>
<text x="209.1" y="470.14" font-size="7.6" text-anchor="middle" fill="#333" stroke="#333" stroke-width="0.14" textLength="2.7" lengthAdjust="spacingAndGlyphs">*</text>
<text x="223" y="447.34" font-size="7.6" text-anchor="middle" fill="#333" stroke="#333" stroke-width="0.14" textLength="9.3" lengthAdjust="spacingAndGlyphs">***</text>
<line x1="168" y1="501.2" x2="168" y2="434.8" stroke="#1e1e1e" stroke-width="1.3"/>
<line x1="165" y1="500.7" x2="168" y2="500.7" stroke="#1e1e1e" stroke-width="0.9"/>
<text x="161.7" y="503.11" font-size="6.7" text-anchor="end" stroke="#2a2a2a" stroke-width="0.14" textLength="3.4" lengthAdjust="spacingAndGlyphs">0</text>
<line x1="165" y1="488.04" x2="168" y2="488.04" stroke="#1e1e1e" stroke-width="0.9"/>
<text x="161.7" y="490.45" font-size="6.7" text-anchor="end" stroke="#2a2a2a" stroke-width="0.14" textLength="6.8" lengthAdjust="spacingAndGlyphs">50</text>
<line x1="165" y1="475.38" x2="168" y2="475.38" stroke="#1e1e1e" stroke-width="0.9"/>
<text x="161.7" y="477.79" font-size="6.7" text-anchor="end" stroke="#2a2a2a" stroke-width="0.14" textLength="10.2" lengthAdjust="spacingAndGlyphs">100</text>
<line x1="165" y1="462.72" x2="168" y2="462.72" stroke="#1e1e1e" stroke-width="0.9"/>
<text x="161.7" y="465.13" font-size="6.7" text-anchor="end" stroke="#2a2a2a" stroke-width="0.14" textLength="10.2" lengthAdjust="spacingAndGlyphs">150</text>
<line x1="165" y1="450.06" x2="168" y2="450.06" stroke="#1e1e1e" stroke-width="0.9"/>
<text x="161.7" y="452.47" font-size="6.7" text-anchor="end" stroke="#2a2a2a" stroke-width="0.14" textLength="10.2" lengthAdjust="spacingAndGlyphs">200</text>
<line x1="165" y1="437.4" x2="168" y2="437.4" stroke="#1e1e1e" stroke-width="0.9"/>
<text x="161.7" y="439.81" font-size="6.7" text-anchor="end" stroke="#2a2a2a" stroke-width="0.14" textLength="10.2" lengthAdjust="spacingAndGlyphs">250</text>
<line x1="167.5" y1="500.7" x2="226.6" y2="500.7" stroke="#1e1e1e" stroke-width="1.3"/>
<line x1="168" y1="500.7" x2="168" y2="503.3" stroke="#1e1e1e" stroke-width="0.9"/>
<text x="168" y="513.11" font-size="6.7" text-anchor="middle" stroke="#2a2a2a" stroke-width="0.14" textLength="3.4" lengthAdjust="spacingAndGlyphs">0</text>
<line x1="181.6" y1="500.7" x2="181.6" y2="503.3" stroke="#1e1e1e" stroke-width="0.9"/>
<text x="181.6" y="513.11" font-size="6.7" text-anchor="middle" stroke="#2a2a2a" stroke-width="0.14" textLength="8.55" lengthAdjust="spacingAndGlyphs">.02</text>
<line x1="195.4" y1="500.7" x2="195.4" y2="503.3" stroke="#1e1e1e" stroke-width="0.9"/>
<text x="195.4" y="513.11" font-size="6.7" text-anchor="middle" stroke="#2a2a2a" stroke-width="0.14" textLength="8.55" lengthAdjust="spacingAndGlyphs">.04</text>
<line x1="209.1" y1="500.7" x2="209.1" y2="503.3" stroke="#1e1e1e" stroke-width="0.9"/>
<text x="209.1" y="513.11" font-size="6.7" text-anchor="middle" stroke="#2a2a2a" stroke-width="0.14" textLength="8.55" lengthAdjust="spacingAndGlyphs">.06</text>
<line x1="223" y1="500.7" x2="223" y2="503.3" stroke="#1e1e1e" stroke-width="0.9"/>
<text x="223" y="513.11" font-size="6.7" text-anchor="middle" stroke="#2a2a2a" stroke-width="0.14" textLength="8.55" lengthAdjust="spacingAndGlyphs">.08</text>
<text x="195.9" y="525.6" font-size="8.5" text-anchor="middle" stroke="#2a2a2a" stroke-width="0.14" textLength="52.5" lengthAdjust="spacingAndGlyphs">Thrombin (U/mL)</text>
<text x="145.7" y="467.5" font-size="8.5" text-anchor="middle" stroke="#2a2a2a" stroke-width="0.14" textLength="59.8" lengthAdjust="spacingAndGlyphs" transform="rotate(-90 145.7 467.5)">ATP secretion (A.U.)</text>
<text x="257.4" y="421.3" font-size="12.7" text-anchor="start" font-weight="bold" fill="#000">O</text>
<line x1="300" y1="427.5" x2="310.4" y2="427.5" stroke="#3a64a0" stroke-width="0.9"/>
<circle cx="305.2" cy="427.5" r="1.9" fill="#1f3b6b" stroke="none" stroke-width="0.6"/>
<text x="313.4" y="429.84" font-size="6.5" text-anchor="start" stroke="#2a2a2a" stroke-width="0.14">WT</text>
<line x1="328.6" y1="427.5" x2="339" y2="427.5" stroke="#c8203f" stroke-width="0.9"/>
<circle cx="333.8" cy="427.5" r="1.9" fill="#b8163f" stroke="none" stroke-width="0.6"/>
<text x="341.6" y="429.84" font-size="6.5" text-anchor="start" stroke="#2a2a2a" stroke-width="0.14">cKO</text>
<path d="M298.5 500.7 L312.2 468.8 L340.2 457.15 L353.9 459.18" stroke="#3a64a0" stroke-width="0.9" fill="none"/>
<line x1="312.2" y1="468.04" x2="312.2" y2="469.56" stroke="#1f3b6b" stroke-width="0.6"/>
<line x1="311" y1="468.04" x2="313.4" y2="468.04" stroke="#1f3b6b" stroke-width="0.6"/>
<line x1="311" y1="469.56" x2="313.4" y2="469.56" stroke="#1f3b6b" stroke-width="0.6"/>
<line x1="340.2" y1="455.38" x2="340.2" y2="458.92" stroke="#1f3b6b" stroke-width="0.6"/>
<line x1="339" y1="455.38" x2="341.4" y2="455.38" stroke="#1f3b6b" stroke-width="0.6"/>
<line x1="339" y1="458.92" x2="341.4" y2="458.92" stroke="#1f3b6b" stroke-width="0.6"/>
<line x1="353.9" y1="457.15" x2="353.9" y2="461.2" stroke="#1f3b6b" stroke-width="0.6"/>
<line x1="352.7" y1="457.15" x2="355.1" y2="457.15" stroke="#1f3b6b" stroke-width="0.6"/>
<line x1="352.7" y1="461.2" x2="355.1" y2="461.2" stroke="#1f3b6b" stroke-width="0.6"/>
<circle cx="312.2" cy="468.8" r="1.35" fill="#1f3b6b" stroke="none" stroke-width="0.6"/>
<circle cx="340.2" cy="457.15" r="1.35" fill="#1f3b6b" stroke="none" stroke-width="0.6"/>
<circle cx="353.9" cy="459.18" r="1.35" fill="#1f3b6b" stroke="none" stroke-width="0.6"/>
<path d="M298.5 500.7 L312.2 478.67 L340.2 463.23 L353.9 453.6" stroke="#c8203f" stroke-width="0.9" fill="none"/>
<line x1="312.2" y1="478.17" x2="312.2" y2="479.18" stroke="#b8163f" stroke-width="0.6"/>
<line x1="311" y1="478.17" x2="313.4" y2="478.17" stroke="#b8163f" stroke-width="0.6"/>
<line x1="311" y1="479.18" x2="313.4" y2="479.18" stroke="#b8163f" stroke-width="0.6"/>
<line x1="340.2" y1="462.47" x2="340.2" y2="463.99" stroke="#b8163f" stroke-width="0.6"/>
<line x1="339" y1="462.47" x2="341.4" y2="462.47" stroke="#b8163f" stroke-width="0.6"/>
<line x1="339" y1="463.99" x2="341.4" y2="463.99" stroke="#b8163f" stroke-width="0.6"/>
<line x1="353.9" y1="451.83" x2="353.9" y2="455.38" stroke="#b8163f" stroke-width="0.6"/>
<line x1="352.7" y1="451.83" x2="355.1" y2="451.83" stroke="#b8163f" stroke-width="0.6"/>
<line x1="352.7" y1="455.38" x2="355.1" y2="455.38" stroke="#b8163f" stroke-width="0.6"/>
<circle cx="312.2" cy="478.67" r="1.35" fill="#b8163f" stroke="none" stroke-width="0.6"/>
<circle cx="340.2" cy="463.23" r="1.35" fill="#b8163f" stroke="none" stroke-width="0.6"/>
<circle cx="353.9" cy="453.6" r="1.35" fill="#b8163f" stroke="none" stroke-width="0.6"/>
<text x="312.2" y="466.74" font-size="7.6" text-anchor="middle" fill="#333" stroke="#333" stroke-width="0.14" textLength="9.3" lengthAdjust="spacingAndGlyphs">***</text>
<text x="340.2" y="453.22" font-size="7" text-anchor="middle" stroke="#2a2a2a" stroke-width="0.14">ns</text>
<text x="354.2" y="450.72" font-size="7" text-anchor="middle" stroke="#2a2a2a" stroke-width="0.14">ns</text>
<line x1="298.5" y1="501.2" x2="298.5" y2="434.8" stroke="#1e1e1e" stroke-width="1.3"/>
<line x1="295.5" y1="500.7" x2="298.5" y2="500.7" stroke="#1e1e1e" stroke-width="0.9"/>
<text x="292.2" y="503.11" font-size="6.7" text-anchor="end" stroke="#2a2a2a" stroke-width="0.14" textLength="3.4" lengthAdjust="spacingAndGlyphs">0</text>
<line x1="295.5" y1="488.04" x2="298.5" y2="488.04" stroke="#1e1e1e" stroke-width="0.9"/>
<text x="292.2" y="490.45" font-size="6.7" text-anchor="end" stroke="#2a2a2a" stroke-width="0.14" textLength="13.6" lengthAdjust="spacingAndGlyphs">5000</text>
<line x1="295.5" y1="475.38" x2="298.5" y2="475.38" stroke="#1e1e1e" stroke-width="0.9"/>
<text x="292.2" y="477.79" font-size="6.7" text-anchor="end" stroke="#2a2a2a" stroke-width="0.14" textLength="17" lengthAdjust="spacingAndGlyphs">10000</text>
<line x1="295.5" y1="462.72" x2="298.5" y2="462.72" stroke="#1e1e1e" stroke-width="0.9"/>
<text x="292.2" y="465.13" font-size="6.7" text-anchor="end" stroke="#2a2a2a" stroke-width="0.14" textLength="17" lengthAdjust="spacingAndGlyphs">15000</text>
<line x1="295.5" y1="450.06" x2="298.5" y2="450.06" stroke="#1e1e1e" stroke-width="0.9"/>
<text x="292.2" y="452.47" font-size="6.7" text-anchor="end" stroke="#2a2a2a" stroke-width="0.14" textLength="17" lengthAdjust="spacingAndGlyphs">20000</text>
<line x1="295.5" y1="437.4" x2="298.5" y2="437.4" stroke="#1e1e1e" stroke-width="0.9"/>
<text x="292.2" y="439.81" font-size="6.7" text-anchor="end" stroke="#2a2a2a" stroke-width="0.14" textLength="17" lengthAdjust="spacingAndGlyphs">25000</text>
<line x1="298" y1="500.7" x2="356.6" y2="500.7" stroke="#1e1e1e" stroke-width="1.3"/>
<line x1="298.5" y1="500.7" x2="298.5" y2="503.3" stroke="#1e1e1e" stroke-width="0.9"/>
<text x="298.5" y="513.11" font-size="6.7" text-anchor="middle" stroke="#2a2a2a" stroke-width="0.14" textLength="3.4" lengthAdjust="spacingAndGlyphs">0</text>
<line x1="312.2" y1="500.7" x2="312.2" y2="503.3" stroke="#1e1e1e" stroke-width="0.9"/>
<text x="312.2" y="513.11" font-size="6.7" text-anchor="middle" stroke="#2a2a2a" stroke-width="0.14" textLength="8.55" lengthAdjust="spacingAndGlyphs">.02</text>
<line x1="326.3" y1="500.7" x2="326.3" y2="503.3" stroke="#1e1e1e" stroke-width="0.9"/>
<text x="326.3" y="513.11" font-size="6.7" text-anchor="middle" stroke="#2a2a2a" stroke-width="0.14" textLength="8.55" lengthAdjust="spacingAndGlyphs">.04</text>
<line x1="340.2" y1="500.7" x2="340.2" y2="503.3" stroke="#1e1e1e" stroke-width="0.9"/>
<text x="340.2" y="513.11" font-size="6.7" text-anchor="middle" stroke="#2a2a2a" stroke-width="0.14" textLength="8.55" lengthAdjust="spacingAndGlyphs">.06</text>
<line x1="353.9" y1="500.7" x2="353.9" y2="503.3" stroke="#1e1e1e" stroke-width="0.9"/>
<text x="353.9" y="513.11" font-size="6.7" text-anchor="middle" stroke="#2a2a2a" stroke-width="0.14" textLength="8.55" lengthAdjust="spacingAndGlyphs">.08</text>
<text x="326.3" y="525.6" font-size="8.5" text-anchor="middle" stroke="#2a2a2a" stroke-width="0.14" textLength="52.5" lengthAdjust="spacingAndGlyphs">Thrombin (U/mL)</text>
<text x="268.5" y="467.5" font-size="8.5" text-anchor="middle" stroke="#2a2a2a" stroke-width="0.14" textLength="47" lengthAdjust="spacingAndGlyphs" transform="rotate(-90 268.5 467.5)">P-selectin (MFI)</text>
<text x="383.2" y="421.3" font-size="12.7" text-anchor="start" font-weight="bold" fill="#000">P</text>
<line x1="426.2" y1="427.5" x2="436.6" y2="427.5" stroke="#3a64a0" stroke-width="0.9"/>
<circle cx="431.4" cy="427.5" r="1.9" fill="#1f3b6b" stroke="none" stroke-width="0.6"/>
<text x="439.6" y="429.84" font-size="6.5" text-anchor="start" stroke="#2a2a2a" stroke-width="0.14">WT</text>
<line x1="454.8" y1="427.5" x2="465.2" y2="427.5" stroke="#c8203f" stroke-width="0.9"/>
<circle cx="460" cy="427.5" r="1.9" fill="#b8163f" stroke="none" stroke-width="0.6"/>
<text x="467.8" y="429.84" font-size="6.5" text-anchor="start" stroke="#2a2a2a" stroke-width="0.14">cKO</text>
<path d="M424.1 497.16 L437.9 474.37 L465.8 466.52 L479.6 460.69" stroke="#3a64a0" stroke-width="0.9" fill="none"/>
<line x1="424.1" y1="495.89" x2="424.1" y2="498.42" stroke="#1f3b6b" stroke-width="0.6"/>
<line x1="422.9" y1="495.89" x2="425.3" y2="495.89" stroke="#1f3b6b" stroke-width="0.6"/>
<line x1="422.9" y1="498.42" x2="425.3" y2="498.42" stroke="#1f3b6b" stroke-width="0.6"/>
<line x1="437.9" y1="471.33" x2="437.9" y2="477.41" stroke="#1f3b6b" stroke-width="0.6"/>
<line x1="436.7" y1="471.33" x2="439.1" y2="471.33" stroke="#1f3b6b" stroke-width="0.6"/>
<line x1="436.7" y1="477.41" x2="439.1" y2="477.41" stroke="#1f3b6b" stroke-width="0.6"/>
<line x1="465.8" y1="461.96" x2="465.8" y2="471.08" stroke="#1f3b6b" stroke-width="0.6"/>
<line x1="464.6" y1="461.96" x2="467" y2="461.96" stroke="#1f3b6b" stroke-width="0.6"/>
<line x1="464.6" y1="471.08" x2="467" y2="471.08" stroke="#1f3b6b" stroke-width="0.6"/>
<line x1="479.6" y1="459.68" x2="479.6" y2="461.71" stroke="#1f3b6b" stroke-width="0.6"/>
<line x1="478.4" y1="459.68" x2="480.8" y2="459.68" stroke="#1f3b6b" stroke-width="0.6"/>
<line x1="478.4" y1="461.71" x2="480.8" y2="461.71" stroke="#1f3b6b" stroke-width="0.6"/>
<circle cx="424.1" cy="497.16" r="1.35" fill="#1f3b6b" stroke="none" stroke-width="0.6"/>
<circle cx="437.9" cy="474.37" r="1.35" fill="#1f3b6b" stroke="none" stroke-width="0.6"/>
<circle cx="465.8" cy="466.52" r="1.35" fill="#1f3b6b" stroke="none" stroke-width="0.6"/>
<circle cx="479.6" cy="460.69" r="1.35" fill="#1f3b6b" stroke="none" stroke-width="0.6"/>
<path d="M424.1 498.17 L437.9 488.04 L465.8 475.13 L479.6 451.83" stroke="#c8203f" stroke-width="0.9" fill="none"/>
<line x1="424.1" y1="497.16" x2="424.1" y2="499.18" stroke="#b8163f" stroke-width="0.6"/>
<line x1="422.9" y1="497.16" x2="425.3" y2="497.16" stroke="#b8163f" stroke-width="0.6"/>
<line x1="422.9" y1="499.18" x2="425.3" y2="499.18" stroke="#b8163f" stroke-width="0.6"/>
<line x1="437.9" y1="487.28" x2="437.9" y2="488.8" stroke="#b8163f" stroke-width="0.6"/>
<line x1="436.7" y1="487.28" x2="439.1" y2="487.28" stroke="#b8163f" stroke-width="0.6"/>
<line x1="436.7" y1="488.8" x2="439.1" y2="488.8" stroke="#b8163f" stroke-width="0.6"/>
<line x1="465.8" y1="473.61" x2="465.8" y2="476.65" stroke="#b8163f" stroke-width="0.6"/>
<line x1="464.6" y1="473.61" x2="467" y2="473.61" stroke="#b8163f" stroke-width="0.6"/>
<line x1="464.6" y1="476.65" x2="467" y2="476.65" stroke="#b8163f" stroke-width="0.6"/>
<line x1="479.6" y1="446.01" x2="479.6" y2="457.66" stroke="#b8163f" stroke-width="0.6"/>
<line x1="478.4" y1="446.01" x2="480.8" y2="446.01" stroke="#b8163f" stroke-width="0.6"/>
<line x1="478.4" y1="457.66" x2="480.8" y2="457.66" stroke="#b8163f" stroke-width="0.6"/>
<circle cx="424.1" cy="498.17" r="1.35" fill="#b8163f" stroke="none" stroke-width="0.6"/>
<circle cx="437.9" cy="488.04" r="1.35" fill="#b8163f" stroke="none" stroke-width="0.6"/>
<circle cx="465.8" cy="475.13" r="1.35" fill="#b8163f" stroke="none" stroke-width="0.6"/>
<circle cx="479.6" cy="451.83" r="1.35" fill="#b8163f" stroke="none" stroke-width="0.6"/>
<text x="437.9" y="472.14" font-size="7.6" text-anchor="middle" fill="#333" stroke="#333" stroke-width="0.14" textLength="2.7" lengthAdjust="spacingAndGlyphs">*</text>
<text x="465.8" y="459.92" font-size="7" text-anchor="middle" stroke="#2a2a2a" stroke-width="0.14">ns</text>
<text x="479.2" y="444.32" font-size="7" text-anchor="middle" stroke="#2a2a2a" stroke-width="0.14">ns</text>
<line x1="424.1" y1="501.2" x2="424.1" y2="434.8" stroke="#1e1e1e" stroke-width="1.3"/>
<line x1="421.1" y1="500.7" x2="424.1" y2="500.7" stroke="#1e1e1e" stroke-width="0.9"/>
<text x="417.8" y="503.11" font-size="6.7" text-anchor="end" stroke="#2a2a2a" stroke-width="0.14" textLength="3.4" lengthAdjust="spacingAndGlyphs">0</text>
<line x1="421.1" y1="488.04" x2="424.1" y2="488.04" stroke="#1e1e1e" stroke-width="0.9"/>
<text x="417.8" y="490.45" font-size="6.7" text-anchor="end" stroke="#2a2a2a" stroke-width="0.14" textLength="13.6" lengthAdjust="spacingAndGlyphs">5000</text>
<line x1="421.1" y1="475.38" x2="424.1" y2="475.38" stroke="#1e1e1e" stroke-width="0.9"/>
<text x="417.8" y="477.79" font-size="6.7" text-anchor="end" stroke="#2a2a2a" stroke-width="0.14" textLength="17" lengthAdjust="spacingAndGlyphs">10000</text>
<line x1="421.1" y1="462.72" x2="424.1" y2="462.72" stroke="#1e1e1e" stroke-width="0.9"/>
<text x="417.8" y="465.13" font-size="6.7" text-anchor="end" stroke="#2a2a2a" stroke-width="0.14" textLength="17" lengthAdjust="spacingAndGlyphs">15000</text>
<line x1="421.1" y1="450.06" x2="424.1" y2="450.06" stroke="#1e1e1e" stroke-width="0.9"/>
<text x="417.8" y="452.47" font-size="6.7" text-anchor="end" stroke="#2a2a2a" stroke-width="0.14" textLength="17" lengthAdjust="spacingAndGlyphs">20000</text>
<line x1="421.1" y1="437.4" x2="424.1" y2="437.4" stroke="#1e1e1e" stroke-width="0.9"/>
<text x="417.8" y="439.81" font-size="6.7" text-anchor="end" stroke="#2a2a2a" stroke-width="0.14" textLength="17" lengthAdjust="spacingAndGlyphs">25000</text>
<line x1="423.6" y1="500.7" x2="482.6" y2="500.7" stroke="#1e1e1e" stroke-width="1.3"/>
<line x1="424.1" y1="500.7" x2="424.1" y2="503.3" stroke="#1e1e1e" stroke-width="0.9"/>
<text x="424.1" y="513.11" font-size="6.7" text-anchor="middle" stroke="#2a2a2a" stroke-width="0.14" textLength="3.4" lengthAdjust="spacingAndGlyphs">0</text>
<line x1="437.9" y1="500.7" x2="437.9" y2="503.3" stroke="#1e1e1e" stroke-width="0.9"/>
<text x="437.9" y="513.11" font-size="6.7" text-anchor="middle" stroke="#2a2a2a" stroke-width="0.14" textLength="8.55" lengthAdjust="spacingAndGlyphs">.02</text>
<line x1="451.9" y1="500.7" x2="451.9" y2="503.3" stroke="#1e1e1e" stroke-width="0.9"/>
<text x="451.9" y="513.11" font-size="6.7" text-anchor="middle" stroke="#2a2a2a" stroke-width="0.14" textLength="8.55" lengthAdjust="spacingAndGlyphs">.04</text>
<line x1="465.8" y1="500.7" x2="465.8" y2="503.3" stroke="#1e1e1e" stroke-width="0.9"/>
<text x="465.8" y="513.11" font-size="6.7" text-anchor="middle" stroke="#2a2a2a" stroke-width="0.14" textLength="8.55" lengthAdjust="spacingAndGlyphs">.06</text>
<line x1="479.6" y1="500.7" x2="479.6" y2="503.3" stroke="#1e1e1e" stroke-width="0.9"/>
<text x="479.6" y="513.11" font-size="6.7" text-anchor="middle" stroke="#2a2a2a" stroke-width="0.14" textLength="8.55" lengthAdjust="spacingAndGlyphs">.08</text>
<text x="452" y="525.6" font-size="8.5" text-anchor="middle" stroke="#2a2a2a" stroke-width="0.14" textLength="52.5" lengthAdjust="spacingAndGlyphs">Thrombin (U/mL)</text>
<text x="394.7" y="467.8" font-size="8.5" text-anchor="middle" stroke="#2a2a2a" stroke-width="0.14" textLength="34.9" lengthAdjust="spacingAndGlyphs" transform="rotate(-90 394.7 467.8)">CD63 (MFI)</text>
<text x="6.9" y="560" font-size="12.7" text-anchor="start" font-weight="bold" fill="#000">Q</text>
<line x1="48.8" y1="571.3" x2="59.2" y2="571.3" stroke="#3a64a0" stroke-width="0.9"/>
<circle cx="54" cy="571.3" r="1.9" fill="#1f3b6b" stroke="none" stroke-width="0.6"/>
<text x="62.2" y="573.64" font-size="6.5" text-anchor="start" stroke="#2a2a2a" stroke-width="0.14">WT</text>
<line x1="77.4" y1="571.3" x2="87.8" y2="571.3" stroke="#c8203f" stroke-width="0.9"/>
<circle cx="82.6" cy="571.3" r="1.9" fill="#b8163f" stroke="none" stroke-width="0.6"/>
<text x="90.4" y="573.64" font-size="6.5" text-anchor="start" stroke="#2a2a2a" stroke-width="0.14">cKO</text>
<path d="M44.2 649.03 L59.5 643.36 L104.8 594.96" stroke="#3a64a0" stroke-width="0.9" fill="none"/>
<line x1="59.5" y1="642.22" x2="59.5" y2="644.49" stroke="#1f3b6b" stroke-width="0.6"/>
<line x1="58.3" y1="642.22" x2="60.7" y2="642.22" stroke="#1f3b6b" stroke-width="0.6"/>
<line x1="58.3" y1="644.49" x2="60.7" y2="644.49" stroke="#1f3b6b" stroke-width="0.6"/>
<line x1="104.8" y1="593.82" x2="104.8" y2="596.09" stroke="#1f3b6b" stroke-width="0.6"/>
<line x1="103.6" y1="593.82" x2="106" y2="593.82" stroke="#1f3b6b" stroke-width="0.6"/>
<line x1="103.6" y1="596.09" x2="106" y2="596.09" stroke="#1f3b6b" stroke-width="0.6"/>
<circle cx="59.5" cy="643.36" r="1.35" fill="#1f3b6b" stroke="none" stroke-width="0.6"/>
<circle cx="104.8" cy="594.96" r="1.35" fill="#1f3b6b" stroke="none" stroke-width="0.6"/>
<path d="M44.2 648.27 L59.5 623.17 L104.8 604.19" stroke="#c8203f" stroke-width="0.9" fill="none"/>
<line x1="59.5" y1="620.14" x2="59.5" y2="626.19" stroke="#b8163f" stroke-width="0.6"/>
<line x1="58.3" y1="620.14" x2="60.7" y2="620.14" stroke="#b8163f" stroke-width="0.6"/>
<line x1="58.3" y1="626.19" x2="60.7" y2="626.19" stroke="#b8163f" stroke-width="0.6"/>
<line x1="104.8" y1="603.43" x2="104.8" y2="604.94" stroke="#b8163f" stroke-width="0.6"/>
<line x1="103.6" y1="603.43" x2="106" y2="603.43" stroke="#b8163f" stroke-width="0.6"/>
<line x1="103.6" y1="604.94" x2="106" y2="604.94" stroke="#b8163f" stroke-width="0.6"/>
<circle cx="59.5" cy="623.17" r="1.35" fill="#b8163f" stroke="none" stroke-width="0.6"/>
<circle cx="104.8" cy="604.19" r="1.35" fill="#b8163f" stroke="none" stroke-width="0.6"/>
<text x="59.5" y="620.84" font-size="7.6" text-anchor="middle" fill="#333" stroke="#333" stroke-width="0.14" textLength="6" lengthAdjust="spacingAndGlyphs">**</text>
<text x="104.5" y="594.54" font-size="7.6" text-anchor="middle" fill="#333" stroke="#333" stroke-width="0.14" textLength="9.3" lengthAdjust="spacingAndGlyphs">***</text>
<line x1="44.2" y1="651.8" x2="44.2" y2="588.2" stroke="#1e1e1e" stroke-width="1.3"/>
<line x1="41.2" y1="651.3" x2="44.2" y2="651.3" stroke="#1e1e1e" stroke-width="0.9"/>
<text x="37.9" y="653.71" font-size="6.7" text-anchor="end" stroke="#2a2a2a" stroke-width="0.14" textLength="3.4" lengthAdjust="spacingAndGlyphs">0</text>
<line x1="41.2" y1="636.17" x2="44.2" y2="636.17" stroke="#1e1e1e" stroke-width="0.9"/>
<text x="37.9" y="638.59" font-size="6.7" text-anchor="end" stroke="#2a2a2a" stroke-width="0.14" textLength="10.2" lengthAdjust="spacingAndGlyphs">200</text>
<line x1="41.2" y1="621.05" x2="44.2" y2="621.05" stroke="#1e1e1e" stroke-width="0.9"/>
<text x="37.9" y="623.46" font-size="6.7" text-anchor="end" stroke="#2a2a2a" stroke-width="0.14" textLength="10.2" lengthAdjust="spacingAndGlyphs">400</text>
<line x1="41.2" y1="605.92" x2="44.2" y2="605.92" stroke="#1e1e1e" stroke-width="0.9"/>
<text x="37.9" y="608.34" font-size="6.7" text-anchor="end" stroke="#2a2a2a" stroke-width="0.14" textLength="10.2" lengthAdjust="spacingAndGlyphs">600</text>
<line x1="41.2" y1="590.8" x2="44.2" y2="590.8" stroke="#1e1e1e" stroke-width="0.9"/>
<text x="37.9" y="593.21" font-size="6.7" text-anchor="end" stroke="#2a2a2a" stroke-width="0.14" textLength="10.2" lengthAdjust="spacingAndGlyphs">800</text>
<line x1="43.7" y1="651.3" x2="107.3" y2="651.3" stroke="#1e1e1e" stroke-width="1.3"/>
<line x1="44.2" y1="651.3" x2="44.2" y2="653.9" stroke="#1e1e1e" stroke-width="0.9"/>
<text x="44.2" y="663.71" font-size="6.7" text-anchor="middle" stroke="#2a2a2a" stroke-width="0.14" textLength="3.4" lengthAdjust="spacingAndGlyphs">0</text>
<line x1="59.5" y1="651.3" x2="59.5" y2="653.9" stroke="#1e1e1e" stroke-width="0.9"/>
<text x="59.5" y="663.71" font-size="6.7" text-anchor="middle" stroke="#2a2a2a" stroke-width="0.14" textLength="8.55" lengthAdjust="spacingAndGlyphs">.02</text>
<line x1="74.4" y1="651.3" x2="74.4" y2="653.9" stroke="#1e1e1e" stroke-width="0.9"/>
<text x="74.4" y="663.71" font-size="6.7" text-anchor="middle" stroke="#2a2a2a" stroke-width="0.14" textLength="8.55" lengthAdjust="spacingAndGlyphs">.04</text>
<line x1="89.5" y1="651.3" x2="89.5" y2="653.9" stroke="#1e1e1e" stroke-width="0.9"/>
<text x="89.5" y="663.71" font-size="6.7" text-anchor="middle" stroke="#2a2a2a" stroke-width="0.14" textLength="8.55" lengthAdjust="spacingAndGlyphs">.06</text>
<line x1="104.8" y1="651.3" x2="104.8" y2="653.9" stroke="#1e1e1e" stroke-width="0.9"/>
<text x="104.8" y="663.71" font-size="6.7" text-anchor="middle" stroke="#2a2a2a" stroke-width="0.14" textLength="8.55" lengthAdjust="spacingAndGlyphs">.08</text>
<text x="74.6" y="676.2" font-size="8.5" text-anchor="middle" stroke="#2a2a2a" stroke-width="0.14" textLength="52.5" lengthAdjust="spacingAndGlyphs">Thrombin (U/mL)</text>
<text x="21.3" y="619.2" font-size="8.5" text-anchor="middle" stroke="#2a2a2a" stroke-width="0.14" textLength="56.4" lengthAdjust="spacingAndGlyphs" transform="rotate(-90 21.3 619.2)">Serotonin (ng/mL)</text>
<text x="133.9" y="559.5" font-size="12.7" text-anchor="start" font-weight="bold" fill="#000">R</text>
<line x1="172.5" y1="571.3" x2="182.9" y2="571.3" stroke="#3a64a0" stroke-width="0.9"/>
<circle cx="177.7" cy="571.3" r="1.9" fill="#1f3b6b" stroke="none" stroke-width="0.6"/>
<text x="185.9" y="573.64" font-size="6.5" text-anchor="start" stroke="#2a2a2a" stroke-width="0.14">WT</text>
<line x1="201.1" y1="571.3" x2="211.5" y2="571.3" stroke="#c8203f" stroke-width="0.9"/>
<circle cx="206.3" cy="571.3" r="1.9" fill="#b8163f" stroke="none" stroke-width="0.6"/>
<text x="214.1" y="573.64" font-size="6.5" text-anchor="start" stroke="#2a2a2a" stroke-width="0.14">cKO</text>
<path d="M167.5 651.4 L182.8 614.1 L228.1 630.85" stroke="#3a64a0" stroke-width="0.9" fill="none"/>
<line x1="182.8" y1="596.59" x2="182.8" y2="631.61" stroke="#8ea2c2" stroke-width="0.6"/>
<line x1="181.6" y1="596.59" x2="184" y2="596.59" stroke="#8ea2c2" stroke-width="0.6"/>
<line x1="181.6" y1="631.61" x2="184" y2="631.61" stroke="#8ea2c2" stroke-width="0.6"/>
<line x1="228.1" y1="629.93" x2="228.1" y2="631.76" stroke="#8ea2c2" stroke-width="0.6"/>
<line x1="226.9" y1="629.93" x2="229.3" y2="629.93" stroke="#8ea2c2" stroke-width="0.6"/>
<line x1="226.9" y1="631.76" x2="229.3" y2="631.76" stroke="#8ea2c2" stroke-width="0.6"/>
<circle cx="182.8" cy="614.1" r="1.35" fill="#1f3b6b" stroke="none" stroke-width="0.6"/>
<circle cx="228.1" cy="630.85" r="1.35" fill="#1f3b6b" stroke="none" stroke-width="0.6"/>
<path d="M167.5 651.4 L182.8 649.88 L228.1 641.12" stroke="#c8203f" stroke-width="0.9" fill="none"/>
<circle cx="182.8" cy="649.88" r="1.35" fill="#b8163f" stroke="none" stroke-width="0.6"/>
<circle cx="228.1" cy="641.12" r="1.35" fill="#b8163f" stroke="none" stroke-width="0.6"/>
<line x1="167.5" y1="651.9" x2="167.5" y2="587.9" stroke="#1e1e1e" stroke-width="1.3"/>
<line x1="164.5" y1="651.4" x2="167.5" y2="651.4" stroke="#1e1e1e" stroke-width="0.9"/>
<text x="161.2" y="653.81" font-size="6.7" text-anchor="end" stroke="#2a2a2a" stroke-width="0.14" textLength="3.4" lengthAdjust="spacingAndGlyphs">0</text>
<line x1="164.5" y1="636.17" x2="167.5" y2="636.17" stroke="#1e1e1e" stroke-width="0.9"/>
<text x="161.2" y="638.59" font-size="6.7" text-anchor="end" stroke="#2a2a2a" stroke-width="0.14" textLength="8.55" lengthAdjust="spacingAndGlyphs">0.2</text>
<line x1="164.5" y1="620.95" x2="167.5" y2="620.95" stroke="#1e1e1e" stroke-width="0.9"/>
<text x="161.2" y="623.36" font-size="6.7" text-anchor="end" stroke="#2a2a2a" stroke-width="0.14" textLength="8.55" lengthAdjust="spacingAndGlyphs">0.4</text>
<line x1="164.5" y1="605.73" x2="167.5" y2="605.73" stroke="#1e1e1e" stroke-width="0.9"/>
<text x="161.2" y="608.14" font-size="6.7" text-anchor="end" stroke="#2a2a2a" stroke-width="0.14" textLength="8.55" lengthAdjust="spacingAndGlyphs">0.6</text>
<line x1="164.5" y1="590.5" x2="167.5" y2="590.5" stroke="#1e1e1e" stroke-width="0.9"/>
<text x="161.2" y="592.91" font-size="6.7" text-anchor="end" stroke="#2a2a2a" stroke-width="0.14" textLength="8.55" lengthAdjust="spacingAndGlyphs">0.8</text>
<line x1="167" y1="651.4" x2="231" y2="651.4" stroke="#1e1e1e" stroke-width="1.3"/>
<line x1="167.5" y1="651.4" x2="167.5" y2="654" stroke="#1e1e1e" stroke-width="0.9"/>
<text x="167.5" y="663.81" font-size="6.7" text-anchor="middle" stroke="#2a2a2a" stroke-width="0.14" textLength="3.4" lengthAdjust="spacingAndGlyphs">0</text>
<line x1="182.8" y1="651.4" x2="182.8" y2="654" stroke="#1e1e1e" stroke-width="0.9"/>
<text x="182.8" y="663.81" font-size="6.7" text-anchor="middle" stroke="#2a2a2a" stroke-width="0.14" textLength="8.55" lengthAdjust="spacingAndGlyphs">.02</text>
<line x1="197.8" y1="651.4" x2="197.8" y2="654" stroke="#1e1e1e" stroke-width="0.9"/>
<text x="197.8" y="663.81" font-size="6.7" text-anchor="middle" stroke="#2a2a2a" stroke-width="0.14" textLength="8.55" lengthAdjust="spacingAndGlyphs">.04</text>
<line x1="213.1" y1="651.4" x2="213.1" y2="654" stroke="#1e1e1e" stroke-width="0.9"/>
<text x="213.1" y="663.81" font-size="6.7" text-anchor="middle" stroke="#2a2a2a" stroke-width="0.14" textLength="8.55" lengthAdjust="spacingAndGlyphs">.06</text>
<line x1="228.1" y1="651.4" x2="228.1" y2="654" stroke="#1e1e1e" stroke-width="0.9"/>
<text x="228.1" y="663.81" font-size="6.7" text-anchor="middle" stroke="#2a2a2a" stroke-width="0.14" textLength="8.55" lengthAdjust="spacingAndGlyphs">.08</text>
<text x="198" y="676.3" font-size="8.5" text-anchor="middle" stroke="#2a2a2a" stroke-width="0.14" textLength="52.5" lengthAdjust="spacingAndGlyphs">Thrombin (U/mL)</text>
<text x="146.5" y="619.5" font-size="8.5" text-anchor="middle" stroke="#2a2a2a" stroke-width="0.14" textLength="43" lengthAdjust="spacingAndGlyphs" transform="rotate(-90 146.5 619.5)">ATP/serotonin</text>
<text x="231" y="617.2" font-size="7.0" text-anchor="end" textLength="23.4" lengthAdjust="spacingAndGlyphs" stroke="#2a2a2a" stroke-width="0.14">*<tspan font-style="italic">P</tspan> = .03</text>
<text x="363.6" y="558.7" font-size="12.7" text-anchor="start" font-weight="bold" fill="#000">T</text>
<line x1="384.5" y1="565.5" x2="394.5" y2="565.5" stroke="#3a64a0" stroke-width="0.9"/>
<circle cx="389.5" cy="565.5" r="1.6" fill="#1f3b6b" stroke="none" stroke-width="0.6"/>
<text x="398.2" y="567.95" font-size="6.8" text-anchor="start" stroke="#2a2a2a" stroke-width="0.14">WT control</text>
<line x1="441" y1="565.5" x2="450" y2="565.5" stroke="#d8d8d8" stroke-width="0.9" stroke-dasharray="1.2 1"/>
<circle cx="445" cy="565.5" r="1.6" fill="#c4c4c4" stroke="none" stroke-width="0.6"/>
<text x="452.5" y="567.95" font-size="6.8" text-anchor="start" stroke="#2a2a2a" stroke-width="0.14">WT + 40&#956;M ATP</text>
<line x1="384.5" y1="577.1" x2="394.5" y2="577.1" stroke="#c8203f" stroke-width="0.9"/>
<circle cx="389.5" cy="577.1" r="1.6" fill="#b01a3a" stroke="none" stroke-width="0.6"/>
<text x="398.2" y="579.55" font-size="6.8" text-anchor="start" stroke="#2a2a2a" stroke-width="0.14">cKO control</text>
<line x1="441" y1="577.1" x2="450" y2="577.1" stroke="#a6d3a0" stroke-width="0.9" stroke-dasharray="1.2 1"/>
<circle cx="445" cy="577.1" r="1.6" fill="#3f9a48" stroke="none" stroke-width="0.6"/>
<text x="452.5" y="579.55" font-size="6.8" text-anchor="start" stroke="#2a2a2a" stroke-width="0.14">cKO + 40&#956;M ATP</text>
<path d="M397.3 651 L412.4 610.77 L427.5 605.32 L442.6 603.21 L457.7 603.21 L472.8 603.21 L487.9 603.21" stroke="#c8c8c8" stroke-width="0.9" fill="none"/>
<circle cx="412.4" cy="610.77" r="1.6" fill="#bdbdbd" stroke="none" stroke-width="0.6"/>
<circle cx="427.5" cy="605.32" r="1.6" fill="#bdbdbd" stroke="none" stroke-width="0.6"/>
<circle cx="442.6" cy="603.21" r="1.6" fill="#bdbdbd" stroke="none" stroke-width="0.6"/>
<circle cx="457.7" cy="603.21" r="1.6" fill="#bdbdbd" stroke="none" stroke-width="0.6"/>
<circle cx="472.8" cy="603.21" r="1.6" fill="#bdbdbd" stroke="none" stroke-width="0.6"/>
<circle cx="487.9" cy="603.21" r="1.6" fill="#bdbdbd" stroke="none" stroke-width="0.6"/>
<path d="M397.3 651 L412.4 613.61 L427.5 608.53 L442.6 606.96 L457.7 606.96 L472.8 606.96 L487.9 606.96" stroke="#9bcf93" stroke-width="0.9" fill="none"/>
<circle cx="412.4" cy="613.61" r="1.6" fill="#3f9a48" stroke="none" stroke-width="0.6"/>
<circle cx="427.5" cy="608.53" r="1.6" fill="#3f9a48" stroke="none" stroke-width="0.6"/>
<circle cx="442.6" cy="606.96" r="1.6" fill="#3f9a48" stroke="none" stroke-width="0.6"/>
<circle cx="457.7" cy="606.96" r="1.6" fill="#3f9a48" stroke="none" stroke-width="0.6"/>
<circle cx="472.8" cy="606.96" r="1.6" fill="#3f9a48" stroke="none" stroke-width="0.6"/>
<circle cx="487.9" cy="606.96" r="1.6" fill="#3f9a48" stroke="none" stroke-width="0.6"/>
<path d="M397.3 651 L412.4 610.22 L427.5 604.9 L442.6 602.9 L457.7 602.9 L472.8 602.9 L487.9 602.9" stroke="#8aa6cf" stroke-width="0.9" fill="none"/>
<circle cx="412.4" cy="610.22" r="1.6" fill="#1d3557" stroke="none" stroke-width="0.6"/>
<circle cx="427.5" cy="604.9" r="1.6" fill="#1d3557" stroke="none" stroke-width="0.6"/>
<circle cx="442.6" cy="602.9" r="1.6" fill="#1d3557" stroke="none" stroke-width="0.6"/>
<circle cx="457.7" cy="602.9" r="1.6" fill="#1d3557" stroke="none" stroke-width="0.6"/>
<circle cx="472.8" cy="602.9" r="1.6" fill="#1d3557" stroke="none" stroke-width="0.6"/>
<circle cx="487.9" cy="602.9" r="1.6" fill="#1d3557" stroke="none" stroke-width="0.6"/>
<path d="M397.3 651 L412.4 634.97 L427.5 631.7 L442.6 631.52 L457.7 631.88 L472.8 632.97 L487.9 633.88" stroke="#e07d92" stroke-width="0.9" fill="none"/>
<line x1="412.4" y1="633.76" x2="412.4" y2="636.18" stroke="#e07d92" stroke-width="0.6"/>
<line x1="411.2" y1="633.76" x2="413.6" y2="633.76" stroke="#e07d92" stroke-width="0.6"/>
<line x1="411.2" y1="636.18" x2="413.6" y2="636.18" stroke="#e07d92" stroke-width="0.6"/>
<line x1="427.5" y1="629.28" x2="427.5" y2="634.12" stroke="#e07d92" stroke-width="0.6"/>
<line x1="426.3" y1="629.28" x2="428.7" y2="629.28" stroke="#e07d92" stroke-width="0.6"/>
<line x1="426.3" y1="634.12" x2="428.7" y2="634.12" stroke="#e07d92" stroke-width="0.6"/>
<line x1="442.6" y1="628.8" x2="442.6" y2="634.24" stroke="#e07d92" stroke-width="0.6"/>
<line x1="441.4" y1="628.8" x2="443.8" y2="628.8" stroke="#e07d92" stroke-width="0.6"/>
<line x1="441.4" y1="634.24" x2="443.8" y2="634.24" stroke="#e07d92" stroke-width="0.6"/>
<line x1="457.7" y1="629.16" x2="457.7" y2="634.6" stroke="#e07d92" stroke-width="0.6"/>
<line x1="456.5" y1="629.16" x2="458.9" y2="629.16" stroke="#e07d92" stroke-width="0.6"/>
<line x1="456.5" y1="634.6" x2="458.9" y2="634.6" stroke="#e07d92" stroke-width="0.6"/>
<line x1="472.8" y1="630.25" x2="472.8" y2="635.69" stroke="#e07d92" stroke-width="0.6"/>
<line x1="471.6" y1="630.25" x2="474" y2="630.25" stroke="#e07d92" stroke-width="0.6"/>
<line x1="471.6" y1="635.69" x2="474" y2="635.69" stroke="#e07d92" stroke-width="0.6"/>
<line x1="487.9" y1="631.16" x2="487.9" y2="636.6" stroke="#e07d92" stroke-width="0.6"/>
<line x1="486.7" y1="631.16" x2="489.1" y2="631.16" stroke="#e07d92" stroke-width="0.6"/>
<line x1="486.7" y1="636.6" x2="489.1" y2="636.6" stroke="#e07d92" stroke-width="0.6"/>
<circle cx="412.4" cy="634.97" r="1.6" fill="#a0102e" stroke="none" stroke-width="0.6"/>
<circle cx="427.5" cy="631.7" r="1.6" fill="#a0102e" stroke="none" stroke-width="0.6"/>
<circle cx="442.6" cy="631.52" r="1.6" fill="#a0102e" stroke="none" stroke-width="0.6"/>
<circle cx="457.7" cy="631.88" r="1.6" fill="#a0102e" stroke="none" stroke-width="0.6"/>
<circle cx="472.8" cy="632.97" r="1.6" fill="#a0102e" stroke="none" stroke-width="0.6"/>
<circle cx="487.9" cy="633.88" r="1.6" fill="#a0102e" stroke="none" stroke-width="0.6"/>
<path d="M491 602.6 L493 602.6 L493 607.2 L491 607.2" stroke="#555" stroke-width="0.6" fill="none"/>
<text x="496.6" y="606.12" font-size="7" text-anchor="start" stroke="#2a2a2a" stroke-width="0.14">ns</text>
<path d="M491 607.2 L494.6 607.2 L494.6 633.8 L491 633.8" stroke="#555" stroke-width="0.6" fill="none"/>
<text x="0" y="0" font-size="7" text-anchor="middle" transform="translate(495.9 620.4) rotate(90)">***</text>
<line x1="397.3" y1="651.5" x2="397.3" y2="587.9" stroke="#1e1e1e" stroke-width="1.3"/>
<line x1="394.3" y1="651" x2="397.3" y2="651" stroke="#1e1e1e" stroke-width="0.9"/>
<text x="391" y="653.41" font-size="6.7" text-anchor="end" stroke="#2a2a2a" stroke-width="0.14" textLength="3.4" lengthAdjust="spacingAndGlyphs">0</text>
<line x1="394.3" y1="638.9" x2="397.3" y2="638.9" stroke="#1e1e1e" stroke-width="0.9"/>
<text x="391" y="641.31" font-size="6.7" text-anchor="end" stroke="#2a2a2a" stroke-width="0.14" textLength="6.8" lengthAdjust="spacingAndGlyphs">20</text>
<line x1="394.3" y1="626.8" x2="397.3" y2="626.8" stroke="#1e1e1e" stroke-width="0.9"/>
<text x="391" y="629.21" font-size="6.7" text-anchor="end" stroke="#2a2a2a" stroke-width="0.14" textLength="6.8" lengthAdjust="spacingAndGlyphs">40</text>
<line x1="394.3" y1="614.7" x2="397.3" y2="614.7" stroke="#1e1e1e" stroke-width="0.9"/>
<text x="391" y="617.11" font-size="6.7" text-anchor="end" stroke="#2a2a2a" stroke-width="0.14" textLength="6.8" lengthAdjust="spacingAndGlyphs">60</text>
<line x1="394.3" y1="602.6" x2="397.3" y2="602.6" stroke="#1e1e1e" stroke-width="0.9"/>
<text x="391" y="605.01" font-size="6.7" text-anchor="end" stroke="#2a2a2a" stroke-width="0.14" textLength="6.8" lengthAdjust="spacingAndGlyphs">80</text>
<line x1="394.3" y1="590.5" x2="397.3" y2="590.5" stroke="#1e1e1e" stroke-width="0.9"/>
<text x="391" y="592.91" font-size="6.7" text-anchor="end" stroke="#2a2a2a" stroke-width="0.14" textLength="10.2" lengthAdjust="spacingAndGlyphs">100</text>
<line x1="396.8" y1="651" x2="490" y2="651" stroke="#1e1e1e" stroke-width="1.3"/>
<line x1="397.3" y1="651" x2="397.3" y2="653.6" stroke="#1e1e1e" stroke-width="0.9"/>
<text x="397.3" y="663.41" font-size="6.7" text-anchor="middle" stroke="#2a2a2a" stroke-width="0.14" textLength="3.4" lengthAdjust="spacingAndGlyphs">0</text>
<line x1="412.4" y1="651" x2="412.4" y2="653.6" stroke="#1e1e1e" stroke-width="0.9"/>
<text x="412.4" y="663.41" font-size="6.7" text-anchor="middle" stroke="#2a2a2a" stroke-width="0.14" textLength="10.2" lengthAdjust="spacingAndGlyphs">100</text>
<line x1="427.5" y1="651" x2="427.5" y2="653.6" stroke="#1e1e1e" stroke-width="0.9"/>
<text x="427.5" y="663.41" font-size="6.7" text-anchor="middle" stroke="#2a2a2a" stroke-width="0.14" textLength="10.2" lengthAdjust="spacingAndGlyphs">200</text>
<line x1="442.6" y1="651" x2="442.6" y2="653.6" stroke="#1e1e1e" stroke-width="0.9"/>
<text x="442.6" y="663.41" font-size="6.7" text-anchor="middle" stroke="#2a2a2a" stroke-width="0.14" textLength="10.2" lengthAdjust="spacingAndGlyphs">300</text>
<line x1="457.7" y1="651" x2="457.7" y2="653.6" stroke="#1e1e1e" stroke-width="0.9"/>
<text x="457.7" y="663.41" font-size="6.7" text-anchor="middle" stroke="#2a2a2a" stroke-width="0.14" textLength="10.2" lengthAdjust="spacingAndGlyphs">400</text>
<line x1="472.8" y1="651" x2="472.8" y2="653.6" stroke="#1e1e1e" stroke-width="0.9"/>
<text x="472.8" y="663.41" font-size="6.7" text-anchor="middle" stroke="#2a2a2a" stroke-width="0.14" textLength="10.2" lengthAdjust="spacingAndGlyphs">500</text>
<line x1="487.9" y1="651" x2="487.9" y2="653.6" stroke="#1e1e1e" stroke-width="0.9"/>
<text x="487.9" y="663.41" font-size="6.7" text-anchor="middle" stroke="#2a2a2a" stroke-width="0.14" textLength="10.2" lengthAdjust="spacingAndGlyphs">600</text>
<text x="443" y="676.2" font-size="8.5" text-anchor="middle" stroke="#2a2a2a" stroke-width="0.14" textLength="23.8" lengthAdjust="spacingAndGlyphs">Time (s)</text>
<text x="374.8" y="619.2" font-size="8.5" text-anchor="middle" stroke="#2a2a2a" stroke-width="0.14" textLength="50" lengthAdjust="spacingAndGlyphs" transform="rotate(-90 374.8 619.2)">Aggregation (%)</text>
<line x1="423.9" y1="643.6" x2="406.09" y2="647.67" stroke="#222" stroke-width="0.8"/>
<path d="M402 648.6 L405.7 645.95 L406.49 649.38Z" fill="#222"/>
<text x="427.7" y="645.25" font-size="6.8" text-anchor="start" stroke="#2a2a2a" stroke-width="0.14" textLength="50.3" lengthAdjust="spacingAndGlyphs">400&#956;M PAR4-AP</text></g><rect x="0" y="0" width="520" height="1" fill="#5e5e5e"/><rect x="0" y="0" width="1" height="689" fill="#5e5e5e"/><rect x="519" y="0" width="1" height="689" fill="#3c3c3c"/><rect x="0" y="688" width="520" height="1" fill="#3c3c3c"/></svg></body></html>
